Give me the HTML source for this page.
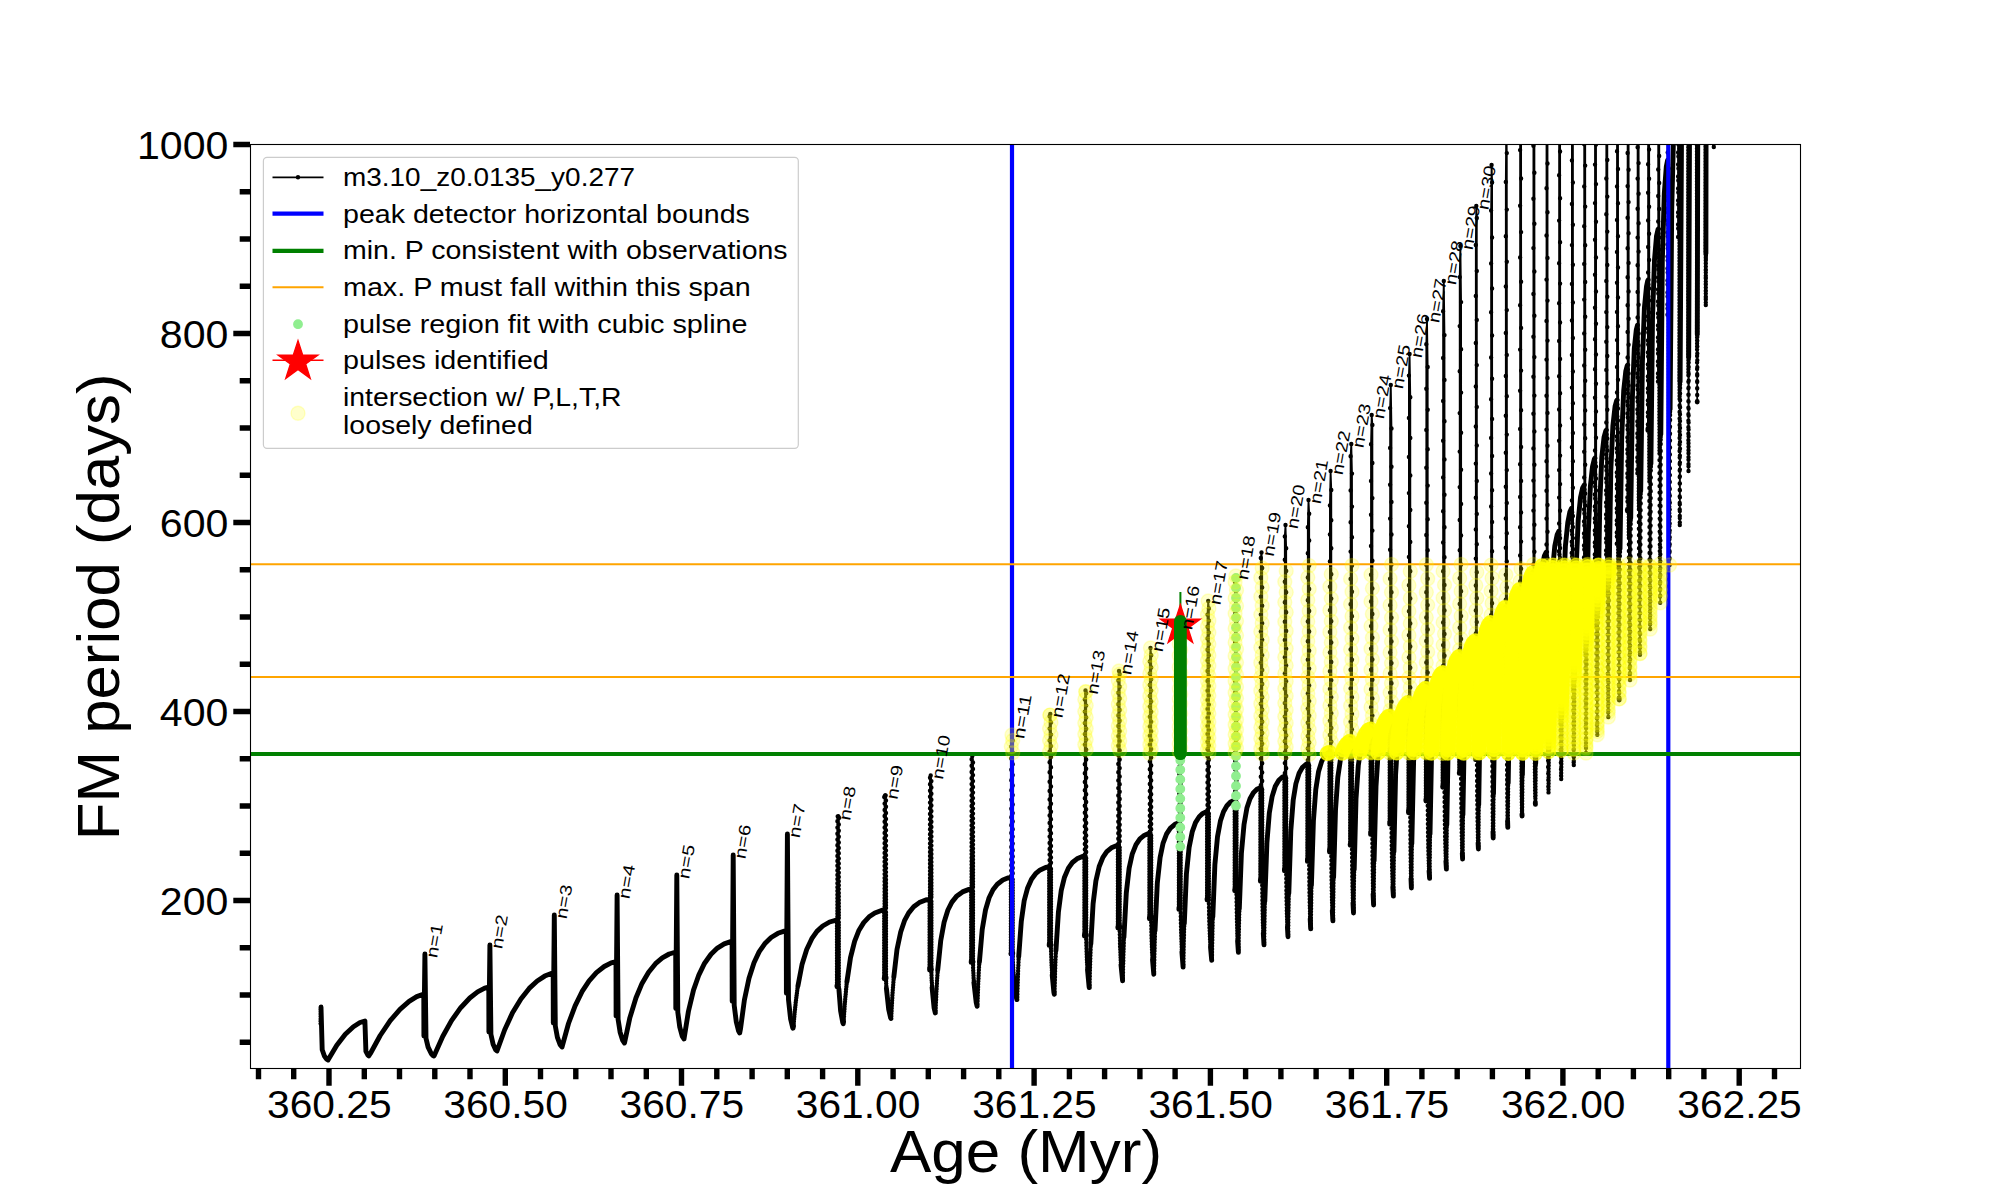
<!DOCTYPE html>
<html><head><meta charset="utf-8"><title>FM period vs Age</title>
<style>html,body{margin:0;padding:0;background:#fff}body{width:2000px;height:1200px;overflow:hidden}svg{display:block}text{font-family:"Liberation Sans",sans-serif;fill:#000}</style></head><body>
<svg width="2000" height="1200" viewBox="0 0 2000 1200">
<rect width="2000" height="1200" fill="#fff"/>
<defs><clipPath id="ax"><rect x="250.0" y="144.0" width="1551.0" height="925.0"/></clipPath></defs>
<g clip-path="url(#ax)">
<path d="M320.6 1023.6 321 1007 322.2 1049.8 324 1055.1 326.4 1058.9 328 1060 335.9 1046.6 343.6 1036.3 350.8 1028.8 357 1024.2 362.4 1021.6 364.9 1021 365.7 1050.7 367.3 1054.4 368.8 1055.9 369.2 1056 378.1 1039 386.9 1025.2 395.3 1014.4 403.9 1005.5 412 999.3 419 995.5 424.2 994 424.6 994 423.8 995.3 423.9 1036 424.9 954 425.8 1037.2 427.5 1045.1 430 1051.4 432.6 1055.1 434 1056 442 1037.9 450 1023.2 457.9 1011.3 465.9 1001.8 473.6 994.8 480.6 990.1 487.1 987.4 489.5 987 488.8 988.3 488.9 1032 489.9 945 490.9 1034.3 492.8 1043.4 495.2 1049.2 497 1051 503.9 1031.6 510.9 1015.9 518.4 1002.7 525.9 992.2 533.4 984.2 540.9 978.4 547.9 974.6 553.1 973.1 554 973 553.2 974.3 553.3 1023 554.3 915 555.3 1025.9 557.1 1036.3 559.7 1044 561.6 1046.8 562 1047 568 1025.2 573.6 1009.3 579.9 995.6 586.5 984.5 593.3 975.9 600.1 969.4 607.2 964.7 613.6 962.1 616.8 961.5 616 962.8 616.1 1016 617.1 895 618.1 1019.3 619.8 1031 622.3 1039.6 624.1 1042.8 624.5 1043 629.4 1019.6 634.4 1002.3 639.9 988 645.6 976.8 651.8 967.8 658.4 961 664.8 956.2 671 953.2 676.4 952 675.7 953.3 675.8 1008.5 676.8 875 677.8 1012.2 679.5 1025.4 681.9 1035.2 683.6 1038.7 684 1039 688 1013.6 692.5 993.7 697.4 978.5 702.7 966.7 708.2 957.8 714 951 720.3 946.1 726.4 942.9 732.2 941.4 732.7 941.3 732.1 942.6 732.2 1001.3 733.2 855 734.2 1005.2 736 1020.5 738.3 1030.3 739.7 1033 740 1033.3 743.7 1004.4 747.6 984 751.9 968.3 756.6 956.8 761.7 947.7 767.1 941.2 773.1 936 779.2 932.7 785.4 930.9 786.9 930.7 786.3 932 786.4 993.3 787.4 834 788.4 997.6 789.9 1014.5 791.9 1025.2 793 1028.2 793.3 1028.5 796.3 997.8 799.8 975 803.7 958.4 808 946.2 812.5 937.4 817.6 930.7 823.1 925.7 829.2 922.2 835.3 920.3 837.7 920 837 920.5 837 986.7 837.4 910.9 837.4 821.2 838.1 816.5 838.8 817.9 838.9 991.3 840.6 1010.8 842.4 1021.5 843.5 1024 846.1 989.3 849.3 964.5 852.8 947.5 856.6 935.7 860.9 926.8 865.5 920.3 870.6 915.6 876.2 912.3 882.3 910.3 884.8 910 884.2 910.5 884.2 978.7 884.6 901 884.6 797.1 885.3 795.5 886 800.4 886.2 983.6 887.7 1002.8 889.7 1014.9 890.9 1018.4 891.2 1018.7 893.6 979.7 896.4 953.4 899.7 935.8 903.2 924 907.1 915.4 911.4 909.3 916.4 904.5 922 901.3 928.2 899.4 930.2 899.2 929.6 899.7 929.6 970 930 890.2 930 777.8 930.7 775.5 931.4 781.1 931.5 975.3 933.1 999.9 934.8 1011.4 935.5 1013.3 937.7 970.2 940.4 942.8 943.4 925.2 946.8 912.8 950.6 904.2 954.8 898.1 959.6 893.7 964.7 890.8 970.5 889.1 971.9 889 971.2 889.5 971.2 962.3 971.6 880 971.6 759.2 972.3 756 973 762.5 973.1 967.7 974.7 991 976.4 1003.7 977.4 1006.7 979.5 960.2 982 931.1 984.8 912.9 988.1 900.5 991.8 891.8 996 885.7 1000.7 881.4 1006 878.6 1011.3 877.3 1011.6 877.3 1010.9 877.8 1010.9 954 1011.3 870.6 1011.3 746.6 1012 735 1012.7 740.5 1012.8 959.6 1014.4 983.7 1016.2 996.9 1017.2 1000 1019.2 948.4 1021.5 918.9 1024.2 900.7 1027.3 888.7 1030.8 880.5 1034.6 874.8 1039 870.8 1044.2 868 1049.5 866.7 1049.9 866.7 1049.2 867.2 1049.2 945.3 1049.6 860.1 1049.6 716.2 1050.3 714 1051 722.5 1051.2 954.3 1052.8 983.4 1054.3 994.3 1054.5 994.7 1056.4 939.8 1058.7 908.9 1061.4 889.7 1064.3 877.7 1067.7 869.4 1071.4 863.6 1075.7 859.6 1080.5 857 1084.9 856 1084.4 856.5 1084.4 936 1084.8 844 1084.8 699.4 1085.5 690.4 1086.2 693.2 1086.4 945.4 1087.9 976.1 1089.3 987.6 1089.5 988 1091.4 930.7 1093.6 898.7 1096.2 879 1099.2 866.5 1102.5 858.2 1106.2 852.4 1110.1 848.7 1114.9 846.1 1118.6 845.3 1117.9 845.8 1117.9 928 1118.3 833.3 1118.3 680.5 1119 671 1119.7 674.3 1119.9 937.7 1121.3 969.1 1122.6 980.8 1122.8 981.3 1124.6 920.3 1126.8 887 1129.4 866.8 1132.2 854.2 1135.3 845.9 1138.9 840 1142.8 836.3 1147.2 833.9 1150.1 833.3 1149.4 833.8 1149.4 918.7 1149.8 821.3 1149.8 661.4 1150.5 648 1151.2 655.2 1151.4 928.9 1152.8 963.9 1153.8 974.2 1154 974.7 1155.8 910.1 1157.9 875.9 1160.5 855.2 1163.3 842.6 1166.4 834.3 1169.7 828.9 1173.6 825.1 1177.6 823.1 1179.5 822.7 1178.9 823.2 1178.9 909.3 1179.3 810.8 1179.3 631.5 1180 626 1180.7 637.8 1180.8 919.9 1182.2 956.3 1183.3 967.5 1185 900.4 1187.2 864.7 1189.6 844 1192.4 830.9 1195.5 822.6 1198.9 817.1 1202.4 813.7 1206.4 811.8 1207.8 811.5 1207.1 812 1207.1 900 1207.5 799.6 1207.5 614.6 1208.2 601 1208.9 608.4 1209.1 911 1210.6 949.1 1211.7 960.3 1211.9 960.8 1213.6 890.7 1215.7 854 1218.2 832.3 1220.9 819.2 1223.9 810.8 1227.2 805.4 1230.7 801.9 1234.2 800.2 1235.2 800 1234.7 800.5 1234.7 890.7 1235.1 791.3 1235.1 582 1235.8 576 1236.5 590.2 1236.7 905.6 1237.9 946.9 1238.5 952.8 1240.2 879.7 1242.3 841.5 1244.7 819.8 1247.4 806.2 1250.4 797.8 1253.7 792.4 1257.3 789 1260.4 787.6 1260.9 787.5 1260.4 788 1260.4 881.3 1260.8 776.7 1260.8 557.9 1261.5 552.5 1262.2 568 1262.4 900.2 1263.7 940.9 1264.1 945.3 1265.7 868.3 1267.7 829.5 1270.1 807.3 1272.8 793.7 1275.7 785.3 1278.8 780.3 1282 777.2 1285.1 776 1284.4 776.5 1284.4 870.7 1284.8 763.1 1284.8 536.4 1285.5 525 1286.2 548.3 1286.4 890.4 1287.7 932.8 1288.1 937.3 1289.7 857.3 1291.7 817 1294 794.3 1296.6 780.7 1299.5 772.3 1302.5 767.3 1305.8 764.3 1308.1 763.5 1307.4 764 1307.4 861.3 1307.8 760.1 1307.8 527.3 1308.5 500 1309.2 513.7 1309.4 881.5 1310.5 926.5 1310.8 929.5 1312.4 846.5 1314.4 805.2 1316.6 782.5 1319.2 768.9 1322.1 760.5 1325.1 755.4 1328 752.8 1330.2 752 1329.5 752.5 1329.5 852 1329.9 748.2 1329.9 505.4 1330.6 471 1331.3 490 1331.5 872.5 1332.7 918.4 1333 921.5 1334.5 835 1336.4 793.2 1338.7 770 1341.2 756.4 1343.9 748.5 1346.7 743.9 1349.3 741.6 1350.9 741 1350.2 741.5 1350.2 845.2 1350.6 736.7 1350.6 456.2 1351.3 444 1352 473.6 1352.2 865.4 1353.3 910.6 1353.6 913.6 1355.1 824.6 1357 781.3 1359.2 758.1 1361.7 744.4 1364.5 736 1367.2 731.4 1369.7 729.1 1371.1 728.5 1370.6 729 1370.6 834.9 1371 723.7 1371 444.3 1371.7 415 1372.4 424.9 1372.6 863.2 1373.5 904.4 1373.6 905 1375.1 812.5 1376.9 768.2 1379.1 744.5 1381.5 730.8 1384.2 722.4 1387 717.8 1389.7 715.7 1390.4 715.5 1389.7 716 1389.7 824.1 1390.1 710.4 1390.1 408.1 1390.8 385 1391.5 428.4 1391.7 841.3 1392.9 889.2 1393.4 896 1394.8 799 1396.7 753.7 1398.8 729.5 1401.3 715.9 1403.9 707.9 1406.5 703.8 1408.8 702.1 1409.2 702 1408.5 702.5 1408.5 812.8 1408.9 696.6 1408.9 375.6 1409.6 354 1410.3 397.2 1410.5 843.2 1411.4 888 1412.8 787 1414.6 740.2 1416.7 715.5 1419.1 701.8 1421.6 693.9 1424.1 689.7 1426.4 688 1425.9 688.5 1425.9 801 1426.3 682.3 1426.3 344.3 1427 319 1427.7 367 1427.9 819.5 1429.1 871 1429.6 878.4 1431 770.9 1432.7 722.6 1434.7 697.9 1437 684.2 1439.4 676.8 1441.7 673.1 1443.3 672 1442.7 672.5 1442.7 787.2 1443.1 666 1443.1 311.3 1443.8 281 1444.5 335.1 1444.7 806.8 1445.9 861.2 1446.4 869 1447.8 757.5 1449.5 707.7 1451.5 682 1453.9 667.9 1456.3 660.4 1458.7 656.8 1459.9 656 1459.3 656.5 1459.3 773.4 1459.7 649.7 1459.7 277.1 1460.4 246 1461.1 302.1 1461.3 798.7 1462.3 855.2 1462.6 859 1463.9 743.5 1465.7 692.2 1467.7 666 1470 651.8 1472.4 644.4 1474.7 640.7 1475.9 640 1475.6 640.5 1475.6 759.6 1476.1 641.4 1475.8 633.4 1475.8 245 1476.3 206 1476.8 218 1477 770.5 1478.1 842.9 1478.4 849 1479.7 727.5 1481.4 674.7 1483.4 648 1485.6 633.8 1487.9 626.3 1489.8 623 1491.2 622 1490.9 622.5 1490.9 743.8 1491.4 623.8 1491.1 615.1 1491.1 210.5 1491.6 165 1492.1 182.4 1492.3 760.9 1493.2 838 1494.5 714.5 1496.2 660.7 1498.2 633.5 1500.4 618.8 1502.6 611.3 1504.6 608 1505.7 607.1 1505.6 731 1506.1 609.2 1505.8 599.8 1505.8 181.9 1506.3 120 1506.8 153.1 1507.1 754.1 1507.8 827.4 1509.3 704.4 1511.1 646.6 1513.2 616.8 1515.5 600.7 1517.7 592.6 1519.6 589.3 1520 589.1 1519.9 715.2 1520.4 591.6 1520.1 581.5 1520.1 90 1520.6 84.5 1521.1 120.6 1521.4 739.2 1522.1 816 1523.5 686.8 1525.3 628 1527.3 597.8 1529.6 582.1 1531.7 574.6 1533.2 572.2 1533.5 572 1533.2 572.5 1533.2 700.4 1533.7 575 1533.4 564.5 1533.4 84.5 1534.4 84.5 1534.7 724.4 1535.4 804.4 1536.8 669.7 1538.6 608.9 1540.6 578.2 1542.8 562 1544.9 554.5 1546.4 552.1 1546.3 682.6 1546.8 555.4 1546.5 544.5 1546.5 84.5 1547.5 84.5 1547.8 709.6 1548.5 792.4 1549.9 651 1551.6 587.7 1553.7 555.9 1555.8 540.3 1557.7 533.2 1558.9 531.2 1559.2 531 1558.9 531.5 1558.9 663.8 1559.4 534.8 1559.1 523.5 1559.1 84.5 1560.1 84.5 1560.4 693.8 1561.2 779 1562.6 632.7 1564.3 567.5 1566.3 534.7 1568.5 518 1570.4 510.5 1571.8 508.1 1571.7 643 1572.2 512.2 1571.9 500.5 1571.9 84.5 1572.9 84.5 1573.2 682 1573.8 765 1575.2 612.3 1576.9 545.1 1578.9 511.3 1581.1 494.2 1582.9 487.1 1584.1 485.1 1584 622.2 1584.5 489.5 1584.2 477.5 1584.2 84.5 1585.2 84.5 1585.5 674.7 1586 753 1587.3 585.2 1588.9 514.4 1590.8 480.7 1592.9 464.5 1594.4 458.9 1594.9 458.2 1594.8 597.4 1595.3 462.5 1595 450.5 1595 84.5 1596 84.5 1596.3 633.9 1597.2 731.4 1597.3 734.7 1598.6 561.1 1600.2 488.3 1602.1 453.6 1604.1 436.9 1605.8 430.8 1606.3 430.1 1606.1 571.6 1606.6 434.5 1606.3 422.5 1606.3 84.5 1607.3 84.5 1607.6 621.6 1608.3 717 1609.6 534.8 1611.2 459 1613.1 423.3 1615 406.6 1616.7 400.5 1616.9 400.2 1616.8 543.8 1617.3 404.5 1617 392.5 1617 84.5 1618 84.5 1618.3 593.8 1619.2 700 1620.4 505.3 1622.1 425 1623.9 387.8 1625.8 371.1 1627.3 365.5 1627.5 365.2 1627.4 511 1627.9 369.5 1627.6 357.5 1627.6 84.5 1628.6 84.5 1628.9 564 1629.8 674.5 1630 680 1631.2 467.4 1632.8 383.2 1634.5 345.4 1636.4 329.3 1637.5 325.2 1637.4 473.2 1637.9 329.5 1637.6 317.5 1637.6 84.5 1638.6 84.5 1639 535.2 1639.9 652.2 1640 654.7 1641.2 434.2 1642.8 344.9 1644.7 304.2 1646.5 286 1647.9 280.4 1648.1 280 1647.9 280.5 1647.9 430.4 1648.4 284.5 1648.1 272.5 1648.1 84.5 1649.1 84.5 1649.6 539.9 1650.2 629 1651.4 392.8 1653 297.6 1654.8 254.3 1656.7 235.1 1658 229.5 1658.2 229.1 1658 381.6 1658.5 233.5 1658.2 221.5 1658.2 84.5 1659.2 84.5 1659.8 551.1 1660.2 602.7 1661.4 336.5 1662.9 231.8 1664.7 185 1666.5 165.3 1667.6 160.2 1667.5 314.8 1668 164.5 1667.7 152.5 1667.7 84.5 1668.7 84.5 1669.4 539.3 1669.6 565 1670.9 285.9 1672.5 169.6 1674.4 114.9 1676.4 89.7 1677.1 84.5 1678.4 84.5 1678.1 84.5 1678.1 237 1678.6 84.5 1678.3 84.5 1679.3 84.5 1679.8 525 1681 188.6 1682 84.5 1687.2 84.5 1686.9 84.5 1686.9 129.2 1687.1 84.5 1687.4 84.5 1687.1 84.5 1688.1 84.5 1688.5 471 1689.7 88.6 1689.7 84.6 1695.9 84.5 1695.6 84.5 1696.1 84.5 1695.8 84.5 1696.8 84.5 1697 97.4 1697.2 402 1697.9 84.5 1704.7 84.5 1704.4 84.5 1704.9 84.5 1704.6 84.5 1705.6 84.5 1705.8 305 1706.1 84.5 1712.9 84.5 1712.6 84.5 1713.1 84.5 1712.8 84.5 1713.8 84.5 1713.8 147 1713.9 84.7 1715.6 84.5 1720.6 84.5" fill="none" stroke="#000" stroke-width="1.8" stroke-linejoin="round"/>
<path d="M321 1007 322.2 1049.8 324.3 1055.8 326.4 1058.9 328 1060 336.8 1045.2 345.3 1034.3 353.4 1026.7 360 1022.5 364.9 1021 365.9 1051.4 368 1055.2 368.8 1055.9 370.4 1053.5 380.2 1035.5 390.2 1020.7 400 1009.3 409.1 1001.3 416.7 996.6 423.2 994.2 424.2 994 423.8 996.6 423.9 1036 424.9 954 426 1038.4 428.1 1047.1 431.2 1053.5 433 1055.5 434 1056 442.7 1036.5 451.5 1020.6 460.7 1007.7 469.8 998 477.6 991.9 484.7 988.2 489.5 987 488.8 988.3 488.9 1032 489.9 945 490.9 1034.3 493.1 1044.3 495.6 1049.7 497 1051 504.6 1030 512.5 1012.8 520.9 998.9 529.2 988.4 537.2 981 544.7 976.1 551.2 973.5 554 973 553.2 974.3 553.3 1023 554.3 915 555.3 1025.9 557.4 1037.4 560.1 1044.7 562 1047 568.5 1023.5 575.1 1005.9 582 991.7 589.1 980.9 596.4 972.7 604.2 966.5 611.2 962.8 616.8 961.5 616 962.8 616.1 1016 617.1 895 618.1 1019.3 620.1 1032.2 622.7 1040.4 624.5 1043 629.9 1017.6 636 997.7 642 983.4 648.6 972.2 655.5 963.7 662.3 957.9 669.2 954 675.9 952 676.5 952 675.7 953.3 675.8 1008.5 676.8 875 677.8 1012.2 679.7 1026.8 682.2 1036.1 684 1039 688.4 1011.5 693.5 990.1 698.9 974.8 704.6 963.2 711 954.3 717.4 948.1 724.2 943.9 730.7 941.6 732.7 941.3 732.1 942.6 732.2 1001.3 733.2 855 734.2 1005.2 736.3 1022 738.6 1031.1 739.7 1033 740.5 1028.8 744.4 1000 749 978.3 754 962.7 759.1 951.9 764.7 943.8 771.1 937.5 777.9 933.3 784.4 931.1 787.1 930.7 786.3 932 786.4 993.3 787.4 834 788.5 999.7 790.6 1019 792.7 1027.7 793 1028.2 793.5 1026.1M797.9 986.1 802 964.6 806.7 949.5 811.8 938.7 816.9 931.4 822.7 926 829.6 922 836.3 920.1 837.3 920M837 985.3 837 986.7M837.5 921.4 837.4 919.2M838.1 816.5 838.8 817.9M838.9 989 840.6 1010.8 842.7 1022.4 843.2 1023.7 843.6 1021.5M846.9 981.9 850.5 957.7 854.6 941.3 859 930.2 863.7 922.6 869.1 916.8 874.8 913 881.4 910.5 884.3 910M884.2 978 884.2 978.7M884.7 911.4 884.6 909.2M884.6 797.1 885.3 795.5M886 977.1 886 978.7M886.4 988.3 888.7 1009.5 890.6 1017.7 890.9 1018.4M893.8 977.1 897 949.5 900.7 932 904.5 920.7 908.7 912.9 913.7 906.8 919.3 902.6 925.7 900 930.3 899.2 929.6 899.7M929.6 970 929.7 968.1M930.1 900.6 930 898.4M931.4 969 931.4 970M932.1 987.5 934.1 1007.9 935.3 1012.9M937.7 970.2 940.7 940.9 944.1 922.3 947.9 910 951.9 902.1 956.9 895.9 962.5 891.9 969 889.4 971.9 889 971.2 889.5M971.2 962.3 971.3 960.6M971.7 890.4 971.6 888.2M973 961.5 973 962.3M973.9 982.5 976.2 1002.5 977.1 1006.3M979.4 962.1 982.2 929.6 985.5 910 989.1 897.7 993 889.7 997.3 884.2 1002.8 880 1008.3 877.8 1011.3 877.3 1010.9 877.8M1010.9 953.4 1010.9 954M1012.7 952.5 1012.7 954M1013.8 977.3 1015.9 995.6 1016.9 999.6M1018.7 956.7 1021.3 921.3 1024.2 900.7 1027.5 888.3 1031.5 879.2 1035.6 873.7 1040.2 869.9 1045.6 867.5 1049.5 866.7M1049.2 945.3 1049.3 943.7M1051 944.6 1051 945.3M1052.2 975 1053.9 992.5 1054.3 994.3M1055.9 950.9 1058.4 912.3 1061.2 890.7 1064.5 877.2 1068.4 868.1 1072.4 862.5 1077 858.8 1082.4 856.4 1085.1 856 1084.4 856.5M1084.4 934.8 1084.4 936M1086.2 933.9 1086.2 936M1087.5 969.6 1089.1 986.7 1089.3 987.6M1090.8 944.2 1093.1 903.6 1095.9 880.9 1099.2 866.5 1102.9 857.3 1106.8 851.6 1111.4 847.8 1116.9 845.5 1118.6 845.3 1117.9 845.8M1117.9 926.8 1117.9 928M1119.7 925.9 1119.7 928M1121 964.8 1122.6 980.8M1123.9 937.4 1126.3 892.9 1129.1 868.2 1132.3 853.8 1136 844.6 1139.9 838.9 1144.5 835.2 1149.1 833.4 1150.1 833.3 1149.4 833.8M1149.4 917.5 1149.4 918.7M1151.2 916.6 1151.2 918.7M1152.5 959.6 1153.8 974.2M1155 930.8 1157.3 883.3 1160.1 857.6 1163.1 843.1 1166.6 833.9 1170.4 828.1 1174.9 824.3 1178.6 822.8 1179.5 822.7 1178.9 823.2M1178.9 909.3 1179 907.8M1181.9 951.8 1183.1 967M1184.3 923.6 1186.4 874.1 1189.1 847.4 1192.2 831.9 1195.5 822.6 1199.2 816.8 1202.8 813.4 1206.4 811.8 1207.4 811.5M1207.1 898.4 1207.1 900 1207.2 899.3M1210.5 946.8 1211.7 960.3M1212.8 916.9 1214.9 864.4 1217.5 836.7 1220.4 821.1 1223.5 811.7 1226.9 805.8 1230.3 802.2 1233.8 800.3 1235.4 800 1234.7 800.5M1234.7 889.6 1234.7 890.7M1236.5 888.7 1236.5 890.7M1237.6 940.8 1238.4 952.3M1239.3 908.8 1241.4 853.4 1244 824.7 1246.9 808.1 1250 798.7 1253.4 792.7 1256.9 789.3 1260.4 787.6 1261.1 787.5 1260.4 788M1260.4 879.8 1260.4 881.3 1260.5 880.7M1263.3 933 1264 944.8M1264.8 901.3 1266.9 842.9 1269.3 813.2 1272.1 796.6 1275.3 786.2 1278.8 780.3 1282.4 777 1285.1 776 1284.4 776.5M1284.4 870.7 1284.5 869.2M1287.4 926.8 1288 936.7M1288.8 893.3 1290.8 830.9 1293.2 800.2 1295.9 783.6 1299.1 773.2 1302.5 767.3 1306.3 764.1 1308.1 763.5 1307.4 764M1307.4 861.3 1307.5 859.4M1309.2 860.3 1309.2 861.3M1310.2 918.8 1310.7 928.9M1311.4 885.5 1313.4 821.1 1315.8 789.4 1318.5 771.8 1321.7 761.4 1325.1 755.4 1328 752.8 1329.8 752.1M1329.5 849.7 1329.5 852 1329.6 850.6M1332.3 910.6 1332.9 920.9M1333.6 877.5 1335.5 810.1 1337.8 777.4 1340.4 759.7 1343.5 749.4 1346.4 744.2 1349.3 741.6 1350.9 741 1350.2 741.5M1350.2 844.1 1350.2 845.2M1352 843.2 1352 845.2M1353 902.8 1353.5 913M1354.2 869.6 1356 799.2 1358.3 765.5 1360.9 747.8 1363.9 737.4 1367.2 731.4 1370.1 728.9 1371.1 728.5 1370.6 729M1370.6 834.3 1370.7 832.5M1372.4 833.4 1372.4 834.9M1373.1 894 1373.6 905M1374.1 861 1376 786.6 1378.2 751.9 1381 733.2 1383.7 723.8 1386.4 718.6 1389.2 715.9 1390.1 715.5 1389.7 716M1389.7 824.1 1389.8 822.2M1391.5 823.1 1391.5 824.1M1392.8 887 1393.4 896M1393.9 851.9 1395.6 774.6 1397.8 738.9 1400.3 720.2 1403.1 709.7 1405.9 704.6 1407.9 702.5 1408.8 702.1M1408.5 810.5 1408.5 812.8 1408.6 811.4M1411 878.6 1411.4 888M1411.8 843.9 1413.6 761.6 1415.7 724.9 1418.3 705.2 1421.2 694.8 1424.1 689.7 1426.4 688 1425.9 688.5M1425.9 799.2 1425.9 801 1426 800.1M1429.1 871 1429.6 878.4M1430 834.3 1431.7 746 1433.8 707.3 1436.3 687.6 1438.9 678.1 1441.1 673.8 1443.3 672 1442.7 672.5M1442.7 785.9 1442.7 787.2M1444.5 785 1444.5 787.2M1445.9 861.2 1446.4 869M1446.8 824.9 1448.4 732.6 1450.5 692.9 1452.8 673.2 1455.4 662.7 1458 657.5 1459.5 656.2M1459.3 772.6 1459.3 773.4M1461.1 771.7 1461.1 773.4M1462.3 853.2 1462.6 859M1462.9 814.9 1464.6 718.6 1466.7 676.9 1469.1 656.2 1471.8 645.7 1474.1 641.4 1475.5 640.2M1475.6 759.6 1475.7 757.5M1477 758.4 1477 759.6M1478.1 842.9 1478.4 849M1478.7 804.9 1480.3 702.6 1482.3 659.8 1484.8 638.2 1487.3 627.7 1489.5 623.4 1490.9 622.1M1492.3 742.1 1492.3 743.8M1493 831.6 1493.2 838M1493.5 793.9 1495.1 689.6 1497.2 644.9 1499.6 623.2 1502.1 612.7 1504.3 608.3 1505.7 607.1M1505.6 729.9 1505.6 731M1507.6 820.8 1507.8 827.4M1508.2 783.2 1509.9 677 1512.1 629.2 1514.7 605.5 1517.2 594 1519.3 589.7 1520 589.1M1521.3 713.4 1521.3 715.2M1522 814.2 1522.1 816M1522.4 775 1524.1 661.4 1526.2 611.6 1528.5 587.9 1531 576.4 1532.6 572.9 1533.2 572.2M1535.3 802.9 1535.4 804.4M1535.7 763.4 1537.4 643.8 1539.5 592 1541.9 567.4 1544.4 555.8 1546.1 552.4 1546.6 552M1548.8 751.3 1550.4 625.5 1552.4 571.8 1554.8 546.1 1557.2 534.6 1558.9 531.2M1561.6 717 1563.3 597.8 1565.4 546.1 1567.8 522.4 1569.9 511.8 1571.5 508.4M1571.7 641.7 1571.7 643M1574.4 679.6 1576.1 569 1578.2 520.2 1580.5 497.6 1582.6 488 1584.3 485M1584 622.2 1584.1 621.5M1586.6 643.3 1588.3 532.9 1590.4 486.1 1592.5 466.5 1594.4 458.9 1594.9 458.2M1598 610.4 1599.8 502.8 1601.8 457 1604 437.4 1605.8 430.8 1606.3 430.1M1607.5 570.5 1607.5 571.6M1609.1 577 1610.8 470.5 1612.9 425.7 1615.1 406.1 1616.7 400.5 1617.1 400M1619.1 697.8 1619.2 700M1620 549 1621.7 437.5 1623.7 390.8 1625.8 371.1 1627.3 365.5 1627.7 365M1627.4 509.5 1627.4 511M1630.7 518.1 1632.4 397.1 1634.3 348.4 1636.3 329.8 1637.5 325.2M1640.7 491.3 1642.4 361.8 1644.4 308.1 1646.5 286.5 1647.7 280.8 1648.1 280M1647.9 430.4 1648 428.5M1650.9 463.9 1652.5 318.5 1654.5 259.8 1656.5 236.1 1658 229.5 1658.3 229M1660.8 434.5 1662.3 261.2 1664.3 193.5 1666.3 166.8 1667.6 160.2M1670.1 409.4 1671.7 210.5 1673.7 128.8 1675 105M1680.1 381.9 1681.6 119.7 1681.8 104.7M1688.7 357.2 1689.6 104.5M1697.2 401.4 1697.2 402M1697.3 334.4 1697.8 104.9M1705.9 253.6 1706.1 104.9" fill="none" stroke="#000" stroke-width="4.9" stroke-linecap="round" stroke-linejoin="round"/>
<path d="M320.6 1023.6h0M320.6 1021.2h0M320.7 1018.9h0M320.8 1016.5h0M320.8 1014.1h0M320.9 1011.8h0M320.9 1009.4h0M793.7 1023.8h0M793.9 1021.4h0M794.1 1019h0M794.3 1016.7h0M794.5 1014.3h0M794.7 1012h0M795 1009.6h0M795.2 1007.2h0M795.5 1004.9h0M795.7 1002.5h0M796 1000.2h0M796.3 997.8h0M796.6 995.5h0M796.9 993.2h0M797.2 990.8h0M797.5 988.5h0M837 923.2h0M837 925.9h0M837 928.6h0M837 931.3h0M837 934h0M837 936.7h0M837 939.4h0M837 942.1h0M837 944.8h0M837 947.5h0M837 950.2h0M837 952.9h0M837 955.6h0M837 958.3h0M837 961h0M837 963.7h0M837 966.4h0M837 969.1h0M837 971.8h0M837 974.5h0M837 977.2h0M837 979.9h0M837 982.6h0M837.1 983.5h0M837.1 980.8h0M837.1 978.1h0M837.1 975.4h0M837.2 972.7h0M837.2 970h0M837.2 967.3h0M837.2 964.6h0M837.2 961.9h0M837.3 959.2h0M837.3 956.5h0M837.3 953.8h0M837.3 951.1h0M837.3 948.4h0M837.4 945.7h0M837.4 943h0M837.4 940.3h0M837.4 937.6h0M837.4 934.9h0M837.5 932.2h0M837.5 929.5h0M837.5 926.8h0M837.5 924.1h0M837.4 916.6h0M837.4 913.8h0M837.4 910.9h0M837.4 907.9h0M837.4 904.8h0M837.4 901.6h0M837.4 898.2h0M837.4 894.7h0M837.4 891h0M837.4 887.2h0M837.4 883.3h0M837.4 879.1h0M837.4 874.9h0M837.4 870.4h0M837.4 865.8h0M837.4 860.9h0M837.4 855.9h0M837.4 850.7h0M837.4 845.2h0M837.4 839.6h0M837.4 833.7h0M837.4 827.6h0M837.4 821.2h0M838.8 824.4h0M838.8 830.7h0M838.8 836.7h0M838.8 842.4h0M838.8 848h0M838.8 853.3h0M838.8 858.4h0M838.8 863.4h0M838.8 868.1h0M838.8 872.7h0M838.8 877h0M838.8 881.2h0M838.8 885.3h0M838.8 889.1h0M838.8 892.9h0M838.8 896.5h0M838.8 899.9h0M838.8 903.2h0M838.8 906.4h0M838.8 909.4h0M838.8 912.4h0M838.8 915.2h0M838.8 917.9h0M838.8 922.3h0M838.8 925h0M838.8 927.7h0M838.8 930.4h0M838.8 933.1h0M838.8 935.8h0M838.8 938.5h0M838.8 941.2h0M838.8 943.9h0M838.8 946.6h0M838.8 949.3h0M838.8 952h0M838.8 954.7h0M838.8 957.4h0M838.8 960.1h0M838.8 962.8h0M838.8 965.5h0M838.8 968.2h0M838.8 970.9h0M838.8 973.6h0M838.8 976.3h0M838.8 979h0M838.8 981.7h0M838.8 984.4h0M838.8 986.7h0M843.8 1019h0M844 1016.5h0M844.1 1014.1h0M844.3 1011.6h0M844.5 1009.1h0M844.6 1006.6h0M844.8 1004.1h0M845 1001.7h0M845.2 999.2h0M845.4 996.7h0M845.7 994.2h0M845.9 991.8h0M846.1 989.3h0M846.4 986.8h0M846.6 984.4h0M884.2 913.2h0M884.2 915.9h0M884.2 918.6h0M884.2 921.3h0M884.2 924h0M884.2 926.7h0M884.2 929.4h0M884.2 932.1h0M884.2 934.8h0M884.2 937.5h0M884.2 940.2h0M884.2 942.9h0M884.2 945.6h0M884.2 948.3h0M884.2 951h0M884.2 953.7h0M884.2 956.4h0M884.2 959.1h0M884.2 961.8h0M884.2 964.5h0M884.2 967.2h0M884.2 969.9h0M884.2 972.6h0M884.2 975.3h0M884.3 976.2h0M884.3 973.5h0M884.3 970.8h0M884.3 968.1h0M884.3 965.4h0M884.4 962.7h0M884.4 960h0M884.4 957.3h0M884.4 954.6h0M884.4 951.9h0M884.5 949.2h0M884.5 946.5h0M884.5 943.8h0M884.5 941.1h0M884.5 938.4h0M884.6 935.7h0M884.6 933h0M884.6 930.3h0M884.6 927.6h0M884.6 924.9h0M884.7 922.2h0M884.7 919.5h0M884.7 916.8h0M884.7 914.1h0M884.6 906.6h0M884.6 903.8h0M884.6 901h0M884.6 898h0M884.6 895h0M884.6 891.8h0M884.6 888.5h0M884.6 885.1h0M884.6 881.5h0M884.6 877.9h0M884.6 874.1h0M884.6 870.1h0M884.6 866h0M884.6 861.8h0M884.6 857.4h0M884.6 852.9h0M884.6 848.1h0M884.6 843.2h0M884.6 838.2h0M884.6 832.9h0M884.6 827.5h0M884.6 821.8h0M884.6 816h0M884.6 809.9h0M884.6 803.6h0M886 800.4h0M886 806.8h0M886 813h0M886 818.9h0M886 824.7h0M886 830.2h0M886 835.6h0M886 840.7h0M886 845.7h0M886 850.5h0M886 855.2h0M886 859.6h0M886 863.9h0M886 868.1h0M886 872.1h0M886 876h0M886 879.7h0M886 883.3h0M886 886.8h0M886 890.1h0M886 893.4h0M886 896.5h0M886 899.5h0M886 902.4h0M886 905.2h0M886 907.9h0M886 912.3h0M886 915h0M886 917.7h0M886 920.4h0M886 923.1h0M886 925.8h0M886 928.5h0M886 931.2h0M886 933.9h0M886 936.6h0M886 939.3h0M886 942h0M886 944.7h0M886 947.4h0M886 950.1h0M886 952.8h0M886 955.5h0M886 958.2h0M886 960.9h0M886 963.6h0M886 966.3h0M886 969h0M886 971.7h0M886 974.4h0M886.1 981.2h0M886.2 983.6h0M886.3 986h0M891.3 1016.1h0M891.4 1013.5h0M891.6 1010.9h0M891.7 1008.3h0M891.8 1005.7h0M892 1003.1h0M892.1 1000.5h0M892.3 997.9h0M892.4 995.3h0M892.6 992.7h0M892.8 990.1h0M893 987.5h0M893.2 984.9h0M893.4 982.3h0M893.6 979.7h0M929.6 902.4h0M929.6 905.1h0M929.6 907.8h0M929.6 910.5h0M929.6 913.2h0M929.6 915.9h0M929.6 918.6h0M929.6 921.3h0M929.6 924h0M929.6 926.7h0M929.6 929.4h0M929.6 932.1h0M929.6 934.8h0M929.6 937.5h0M929.6 940.2h0M929.6 942.9h0M929.6 945.6h0M929.6 948.3h0M929.6 951h0M929.6 953.7h0M929.6 956.4h0M929.6 959.1h0M929.6 961.8h0M929.6 964.5h0M929.6 967.2h0M929.7 965.4h0M929.7 962.7h0M929.7 960h0M929.7 957.3h0M929.8 954.6h0M929.8 951.9h0M929.8 949.2h0M929.8 946.5h0M929.8 943.8h0M929.9 941.1h0M929.9 938.4h0M929.9 935.7h0M929.9 933h0M929.9 930.3h0M929.9 927.6h0M930 924.9h0M930 922.2h0M930 919.5h0M930 916.8h0M930 914.1h0M930.1 911.4h0M930.1 908.7h0M930.1 906h0M930.1 903.3h0M930 895.8h0M930 893h0M930 890.2h0M930 887.3h0M930 884.2h0M930 881.1h0M930 877.9h0M930 874.5h0M930 871.1h0M930 867.5h0M930 863.8h0M930 860h0M930 856h0M930 852h0M930 847.7h0M930 843.4h0M930 838.8h0M930 834.2h0M930 829.3h0M930 824.4h0M930 819.2h0M930 813.9h0M930 808.3h0M930 802.6h0M930 796.7h0M930 790.7h0M930 784.3h0M930 777.8h0M930.7 775.5h0M931.4 781.1h0M931.4 787.5h0M931.4 793.7h0M931.4 799.7h0M931.4 805.5h0M931.4 811.1h0M931.4 816.6h0M931.4 821.8h0M931.4 826.9h0M931.4 831.8h0M931.4 836.5h0M931.4 841.1h0M931.4 845.6h0M931.4 849.9h0M931.4 854h0M931.4 858h0M931.4 861.9h0M931.4 865.7h0M931.4 869.3h0M931.4 872.8h0M931.4 876.2h0M931.4 879.5h0M931.4 882.7h0M931.4 885.8h0M931.4 888.8h0M931.4 891.6h0M931.4 894.4h0M931.4 897.1h0M931.4 901.5h0M931.4 904.2h0M931.4 906.9h0M931.4 909.6h0M931.4 912.3h0M931.4 915h0M931.4 917.7h0M931.4 920.4h0M931.4 923.1h0M931.4 925.8h0M931.4 928.5h0M931.4 931.2h0M931.4 933.9h0M931.4 936.6h0M931.4 939.3h0M931.4 942h0M931.4 944.7h0M931.4 947.4h0M931.4 950.1h0M931.4 952.8h0M931.4 955.5h0M931.4 958.2h0M931.4 960.9h0M931.4 963.6h0M931.4 966.3h0M931.4 972.7h0M931.5 975.3h0M931.6 977.9h0M931.7 980.4h0M931.9 982.8h0M932 985.2h0M935.6 1010.6h0M935.7 1007.9h0M935.8 1005.2h0M935.9 1002.5h0M936.1 999.7h0M936.2 997h0M936.3 994.3h0M936.4 991.6h0M936.6 988.9h0M936.7 986.2h0M936.9 983.5h0M937 980.8h0M937.2 978.1h0M937.4 975.4h0M937.6 972.7h0M971.2 892.2h0M971.2 894.9h0M971.2 897.6h0M971.2 900.3h0M971.2 903h0M971.2 905.7h0M971.2 908.4h0M971.2 911.1h0M971.2 913.8h0M971.2 916.5h0M971.2 919.2h0M971.2 921.9h0M971.2 924.6h0M971.2 927.3h0M971.2 930h0M971.2 932.7h0M971.2 935.4h0M971.2 938.1h0M971.2 940.8h0M971.2 943.5h0M971.2 946.2h0M971.2 948.9h0M971.2 951.6h0M971.2 954.3h0M971.2 957h0M971.2 959.7h0M971.3 957.9h0M971.3 955.2h0M971.3 952.5h0M971.3 949.8h0M971.4 947.1h0M971.4 944.4h0M971.4 941.7h0M971.4 939h0M971.4 936.3h0M971.4 933.6h0M971.5 930.9h0M971.5 928.2h0M971.5 925.5h0M971.5 922.8h0M971.5 920.1h0M971.6 917.4h0M971.6 914.7h0M971.6 912h0M971.6 909.3h0M971.6 906.6h0M971.6 903.9h0M971.7 901.2h0M971.7 898.5h0M971.7 895.8h0M971.7 893.1h0M971.6 885.6h0M971.6 882.8h0M971.6 880h0M971.6 877.1h0M971.6 874.1h0M971.6 871h0M971.6 867.9h0M971.6 864.6h0M971.6 861.2h0M971.6 857.7h0M971.6 854.1h0M971.6 850.4h0M971.6 846.5h0M971.6 842.6h0M971.6 838.5h0M971.6 834.3h0M971.6 829.9h0M971.6 825.4h0M971.6 820.8h0M971.6 816h0M971.6 811.1h0M971.6 806h0M971.6 800.8h0M971.6 795.4h0M971.6 789.8h0M971.6 784.1h0M971.6 778.2h0M971.6 772h0M971.6 765.7h0M971.6 759.2h0M972.3 756h0M973 762.5h0M973 768.9h0M973 775.1h0M973 781.1h0M973 787h0M973 792.6h0M973 798.1h0M973 803.4h0M973 808.6h0M973 813.6h0M973 818.4h0M973 823.1h0M973 827.7h0M973 832.1h0M973 836.4h0M973 840.5h0M973 844.6h0M973 848.5h0M973 852.2h0M973 855.9h0M973 859.4h0M973 862.9h0M973 866.2h0M973 869.5h0M973 872.6h0M973 875.6h0M973 878.6h0M973 881.5h0M973 884.2h0M973 886.9h0M973 891.3h0M973 894h0M973 896.7h0M973 899.4h0M973 902.1h0M973 904.8h0M973 907.5h0M973 910.2h0M973 912.9h0M973 915.6h0M973 918.3h0M973 921h0M973 923.7h0M973 926.4h0M973 929.1h0M973 931.8h0M973 934.5h0M973 937.2h0M973 939.9h0M973 942.6h0M973 945.3h0M973 948h0M973 950.7h0M973 953.4h0M973 956.1h0M973 958.8h0M973.1 965h0M973.1 967.7h0M973.2 970.4h0M973.4 972.9h0M973.5 975.4h0M973.6 977.9h0M973.8 980.2h0M977.5 1003.9h0M977.6 1001.1h0M977.7 998.2h0M977.8 995.4h0M977.9 992.6h0M978 989.8h0M978.1 987h0M978.2 984.1h0M978.3 981.3h0M978.5 978.5h0M978.6 975.7h0M978.7 972.9h0M978.9 970.1h0M979 967.3h0M979.2 964.5h0M1010.9 880.5h0M1010.9 883.2h0M1010.9 885.9h0M1010.9 888.6h0M1010.9 891.3h0M1010.9 894h0M1010.9 896.7h0M1010.9 899.4h0M1010.9 902.1h0M1010.9 904.8h0M1010.9 907.5h0M1010.9 910.2h0M1010.9 912.9h0M1010.9 915.6h0M1010.9 918.3h0M1010.9 921h0M1010.9 923.7h0M1010.9 926.4h0M1010.9 929.1h0M1010.9 931.8h0M1010.9 934.5h0M1010.9 937.2h0M1010.9 939.9h0M1010.9 942.6h0M1010.9 945.3h0M1010.9 948h0M1010.9 950.7h0M1011 951.6h0M1011 948.9h0M1011 946.2h0M1011 943.5h0M1011 940.8h0M1011.1 938.1h0M1011.1 935.4h0M1011.1 932.7h0M1011.1 930h0M1011.1 927.3h0M1011.1 924.6h0M1011.2 921.9h0M1011.2 919.2h0M1011.2 916.5h0M1011.2 913.8h0M1011.2 911.1h0M1011.2 908.4h0M1011.3 905.7h0M1011.3 903h0M1011.3 900.3h0M1011.3 897.6h0M1011.3 894.9h0M1011.4 892.2h0M1011.4 889.5h0M1011.4 886.8h0M1011.4 884.1h0M1011.4 881.4h0M1011.4 878.7h0M1011.3 875.8h0M1011.3 870.6h0M1011.3 865.2h0M1011.3 859.4h0M1011.3 853.3h0M1011.3 846.9h0M1011.3 840.1h0M1011.3 832.9h0M1011.3 825.3h0M1011.3 817.3h0M1011.3 808.8h0M1011.3 799.8h0M1011.3 790.3h0M1011.3 780.3h0M1011.3 769.7h0M1011.3 758.5h0M1011.3 746.6h0M1012 735h0M1012.7 740.5h0M1012.7 752.7h0M1012.7 764.2h0M1012.7 775.1h0M1012.7 785.4h0M1012.7 795.1h0M1012.7 804.4h0M1012.7 813.1h0M1012.7 821.4h0M1012.7 829.2h0M1012.7 836.6h0M1012.7 843.6h0M1012.7 850.2h0M1012.7 856.4h0M1012.7 862.4h0M1012.7 868h0M1012.7 873.3h0M1012.7 879.6h0M1012.7 882.3h0M1012.7 885h0M1012.7 887.7h0M1012.7 890.4h0M1012.7 893.1h0M1012.7 895.8h0M1012.7 898.5h0M1012.7 901.2h0M1012.7 903.9h0M1012.7 906.6h0M1012.7 909.3h0M1012.7 912h0M1012.7 914.7h0M1012.7 917.4h0M1012.7 920.1h0M1012.7 922.8h0M1012.7 925.5h0M1012.7 928.2h0M1012.7 930.9h0M1012.7 933.6h0M1012.7 936.3h0M1012.7 939h0M1012.7 941.7h0M1012.7 944.4h0M1012.7 947.1h0M1012.7 949.8h0M1012.8 956.8h0M1012.8 959.6h0M1012.9 962.3h0M1013.1 965h0M1013.2 967.6h0M1013.3 970.1h0M1013.5 972.6h0M1013.7 975h0M1017.3 997.1h0M1017.4 994.2h0M1017.4 991.3h0M1017.5 988.4h0M1017.6 985.5h0M1017.7 982.6h0M1017.8 979.7h0M1017.9 976.8h0M1018 973.9h0M1018.1 971h0M1018.2 968.1h0M1018.4 965.2h0M1018.5 962.3h0M1018.6 959.4h0M1049.2 869.9h0M1049.2 872.6h0M1049.2 875.3h0M1049.2 878h0M1049.2 880.7h0M1049.2 883.4h0M1049.2 886.1h0M1049.2 888.8h0M1049.2 891.5h0M1049.2 894.2h0M1049.2 896.9h0M1049.2 899.6h0M1049.2 902.3h0M1049.2 905h0M1049.2 907.7h0M1049.2 910.4h0M1049.2 913.1h0M1049.2 915.8h0M1049.2 918.5h0M1049.2 921.2h0M1049.2 923.9h0M1049.2 926.6h0M1049.2 929.3h0M1049.2 932h0M1049.2 934.7h0M1049.2 937.4h0M1049.2 940.1h0M1049.2 942.8h0M1049.3 941h0M1049.3 938.3h0M1049.3 935.6h0M1049.3 932.9h0M1049.3 930.2h0M1049.4 927.5h0M1049.4 924.8h0M1049.4 922.1h0M1049.4 919.4h0M1049.4 916.7h0M1049.4 914h0M1049.5 911.3h0M1049.5 908.6h0M1049.5 905.9h0M1049.5 903.2h0M1049.5 900.5h0M1049.6 897.8h0M1049.6 895.1h0M1049.6 892.4h0M1049.6 889.7h0M1049.6 887h0M1049.6 884.3h0M1049.7 881.6h0M1049.7 878.9h0M1049.7 876.2h0M1049.7 873.5h0M1049.7 870.8h0M1049.7 868.1h0M1049.6 865.2h0M1049.6 860.1h0M1049.6 854.6h0M1049.6 848.9h0M1049.6 842.9h0M1049.6 836.6h0M1049.6 829.9h0M1049.6 822.9h0M1049.6 815.5h0M1049.6 807.7h0M1049.6 799.5h0M1049.6 790.9h0M1049.6 781.8h0M1049.6 772.3h0M1049.6 762.2h0M1049.6 751.6h0M1049.6 740.4h0M1049.6 728.6h0M1049.6 716.2h0M1050.3 714h0M1051 722.5h0M1051 734.6h0M1051 746.1h0M1051 756.9h0M1051 767.3h0M1051 777.1h0M1051 786.4h0M1051 795.3h0M1051 803.7h0M1051 811.7h0M1051 819.3h0M1051 826.5h0M1051 833.3h0M1051 839.8h0M1051 846h0M1051 851.8h0M1051 857.4h0M1051 862.7h0M1051 869h0M1051 871.7h0M1051 874.4h0M1051 877.1h0M1051 879.8h0M1051 882.5h0M1051 885.2h0M1051 887.9h0M1051 890.6h0M1051 893.3h0M1051 896h0M1051 898.7h0M1051 901.4h0M1051 904.1h0M1051 906.8h0M1051 909.5h0M1051 912.2h0M1051 914.9h0M1051 917.6h0M1051 920.3h0M1051 923h0M1051 925.7h0M1051 928.4h0M1051 931.1h0M1051 933.8h0M1051 936.5h0M1051 939.2h0M1051 941.9h0M1051 948.4h0M1051.1 951.3h0M1051.2 954.3h0M1051.3 957.1h0M1051.4 959.9h0M1051.5 962.6h0M1051.6 965.3h0M1051.8 967.8h0M1051.9 970.3h0M1052 972.7h0M1054.6 991.8h0M1054.6 988.8h0M1054.7 985.9h0M1054.8 982.9h0M1054.9 980h0M1055 977h0M1055 974.1h0M1055.1 971.2h0M1055.2 968.2h0M1055.3 965.3h0M1055.4 962.3h0M1055.5 959.4h0M1055.7 956.5h0M1055.8 953.6h0M1084.4 859.2h0M1084.4 861.9h0M1084.4 864.6h0M1084.4 867.3h0M1084.4 870h0M1084.4 872.7h0M1084.4 875.4h0M1084.4 878.1h0M1084.4 880.8h0M1084.4 883.5h0M1084.4 886.2h0M1084.4 888.9h0M1084.4 891.6h0M1084.4 894.3h0M1084.4 897h0M1084.4 899.7h0M1084.4 902.4h0M1084.4 905.1h0M1084.4 907.8h0M1084.4 910.5h0M1084.4 913.2h0M1084.4 915.9h0M1084.4 918.6h0M1084.4 921.3h0M1084.4 924h0M1084.4 926.7h0M1084.4 929.4h0M1084.4 932.1h0M1084.5 933h0M1084.5 930.3h0M1084.5 927.6h0M1084.5 924.9h0M1084.5 922.2h0M1084.6 919.5h0M1084.6 916.8h0M1084.6 914.1h0M1084.6 911.4h0M1084.6 908.7h0M1084.6 906h0M1084.7 903.3h0M1084.7 900.6h0M1084.7 897.9h0M1084.7 895.2h0M1084.7 892.5h0M1084.7 889.8h0M1084.8 887.1h0M1084.8 884.4h0M1084.8 881.7h0M1084.8 879h0M1084.8 876.3h0M1084.8 873.6h0M1084.9 870.9h0M1084.9 868.2h0M1084.9 865.5h0M1084.9 862.8h0M1084.9 860.1h0M1084.9 857.4h0M1084.8 854.5h0M1084.8 849.4h0M1084.8 844h0M1084.8 838.3h0M1084.8 832.4h0M1084.8 826.2h0M1084.8 819.7h0M1084.8 812.8h0M1084.8 805.7h0M1084.8 798.2h0M1084.8 790.3h0M1084.8 782h0M1084.8 773.3h0M1084.8 764.2h0M1084.8 754.7h0M1084.8 744.6h0M1084.8 734.1h0M1084.8 723.1h0M1084.8 711.6h0M1084.8 699.4h0M1085.5 690.4h0M1086.2 693.2h0M1086.2 705.6h0M1086.2 717.4h0M1086.2 728.7h0M1086.2 739.5h0M1086.2 749.7h0M1086.2 759.5h0M1086.2 768.8h0M1086.2 777.7h0M1086.2 786.2h0M1086.2 794.3h0M1086.2 802h0M1086.2 809.3h0M1086.2 816.3h0M1086.2 823h0M1086.2 829.3h0M1086.2 835.4h0M1086.2 841.2h0M1086.2 846.7h0M1086.2 852h0M1086.2 858.3h0M1086.2 861h0M1086.2 863.7h0M1086.2 866.4h0M1086.2 869.1h0M1086.2 871.8h0M1086.2 874.5h0M1086.2 877.2h0M1086.2 879.9h0M1086.2 882.6h0M1086.2 885.3h0M1086.2 888h0M1086.2 890.7h0M1086.2 893.4h0M1086.2 896.1h0M1086.2 898.8h0M1086.2 901.5h0M1086.2 904.2h0M1086.2 906.9h0M1086.2 909.6h0M1086.2 912.3h0M1086.2 915h0M1086.2 917.7h0M1086.2 920.4h0M1086.2 923.1h0M1086.2 925.8h0M1086.2 928.5h0M1086.2 931.2h0M1086.2 939.2h0M1086.3 942.4h0M1086.4 945.4h0M1086.5 948.4h0M1086.6 951.4h0M1086.7 954.2h0M1086.8 957h0M1086.9 959.7h0M1087 962.3h0M1087.2 964.8h0M1087.3 967.3h0M1089.6 985.1h0M1089.6 982.1h0M1089.7 979.2h0M1089.8 976.2h0M1089.8 973.3h0M1089.9 970.3h0M1090 967.4h0M1090.1 964.4h0M1090.2 961.5h0M1090.3 958.6h0M1090.4 955.6h0M1090.5 952.7h0M1090.6 949.8h0M1090.7 946.8h0M1117.9 848.5h0M1117.9 851.2h0M1117.9 853.9h0M1117.9 856.6h0M1117.9 859.3h0M1117.9 862h0M1117.9 864.7h0M1117.9 867.4h0M1117.9 870.1h0M1117.9 872.8h0M1117.9 875.5h0M1117.9 878.2h0M1117.9 880.9h0M1117.9 883.6h0M1117.9 886.3h0M1117.9 889h0M1117.9 891.7h0M1117.9 894.4h0M1117.9 897.1h0M1117.9 899.8h0M1117.9 902.5h0M1117.9 905.2h0M1117.9 907.9h0M1117.9 910.6h0M1117.9 913.3h0M1117.9 916h0M1117.9 918.7h0M1117.9 921.4h0M1117.9 924.1h0M1118 925h0M1118 922.3h0M1118 919.6h0M1118 916.9h0M1118 914.2h0M1118 911.5h0M1118.1 908.8h0M1118.1 906.1h0M1118.1 903.4h0M1118.1 900.7h0M1118.1 898h0M1118.1 895.3h0M1118.2 892.6h0M1118.2 889.9h0M1118.2 887.2h0M1118.2 884.5h0M1118.2 881.8h0M1118.2 879.1h0M1118.3 876.4h0M1118.3 873.7h0M1118.3 871h0M1118.3 868.3h0M1118.3 865.6h0M1118.3 862.9h0M1118.4 860.2h0M1118.4 857.5h0M1118.4 854.8h0M1118.4 852.1h0M1118.4 849.4h0M1118.4 846.7h0M1118.3 843.8h0M1118.3 838.7h0M1118.3 833.3h0M1118.3 827.7h0M1118.3 821.8h0M1118.3 815.7h0M1118.3 809.2h0M1118.3 802.5h0M1118.3 795.5h0M1118.3 788.1h0M1118.3 780.4h0M1118.3 772.3h0M1118.3 763.9h0M1118.3 755h0M1118.3 745.8h0M1118.3 736.1h0M1118.3 726h0M1118.3 715.4h0M1118.3 704.3h0M1118.3 692.7h0M1118.3 680.5h0M1119 671h0M1119.7 674.3h0M1119.7 686.7h0M1119.7 698.5h0M1119.7 709.9h0M1119.7 720.7h0M1119.7 731.1h0M1119.7 741h0M1119.7 750.5h0M1119.7 759.5h0M1119.7 768.1h0M1119.7 776.4h0M1119.7 784.3h0M1119.7 791.8h0M1119.7 799h0M1119.7 805.9h0M1119.7 812.5h0M1119.7 818.8h0M1119.7 824.8h0M1119.7 830.5h0M1119.7 836h0M1119.7 841.3h0M1119.7 847.6h0M1119.7 850.3h0M1119.7 853h0M1119.7 855.7h0M1119.7 858.4h0M1119.7 861.1h0M1119.7 863.8h0M1119.7 866.5h0M1119.7 869.2h0M1119.7 871.9h0M1119.7 874.6h0M1119.7 877.3h0M1119.7 880h0M1119.7 882.7h0M1119.7 885.4h0M1119.7 888.1h0M1119.7 890.8h0M1119.7 893.5h0M1119.7 896.2h0M1119.7 898.9h0M1119.7 901.6h0M1119.7 904.3h0M1119.7 907h0M1119.7 909.7h0M1119.7 912.4h0M1119.7 915.1h0M1119.7 917.8h0M1119.7 920.5h0M1119.7 923.2h0M1119.7 931.3h0M1119.8 934.5h0M1119.9 937.7h0M1120 940.8h0M1120 943.8h0M1120.1 946.7h0M1120.3 949.5h0M1120.4 952.3h0M1120.5 955h0M1120.6 957.6h0M1120.7 960.1h0M1120.9 962.5h0M1122.9 978.3h0M1122.9 975.4h0M1123 972.4h0M1123 969.5h0M1123.1 966.6h0M1123.2 963.6h0M1123.3 960.7h0M1123.3 957.7h0M1123.4 954.8h0M1123.5 951.8h0M1123.6 948.9h0M1123.7 946h0M1123.8 943h0M1123.8 940.1h0M1149.4 836.5h0M1149.4 839.2h0M1149.4 841.9h0M1149.4 844.6h0M1149.4 847.3h0M1149.4 850h0M1149.4 852.7h0M1149.4 855.4h0M1149.4 858.1h0M1149.4 860.8h0M1149.4 863.5h0M1149.4 866.2h0M1149.4 868.9h0M1149.4 871.6h0M1149.4 874.3h0M1149.4 877h0M1149.4 879.7h0M1149.4 882.4h0M1149.4 885.1h0M1149.4 887.8h0M1149.4 890.5h0M1149.4 893.2h0M1149.4 895.9h0M1149.4 898.6h0M1149.4 901.3h0M1149.4 904h0M1149.4 906.7h0M1149.4 909.4h0M1149.4 912.1h0M1149.4 914.8h0M1149.5 915.7h0M1149.5 913h0M1149.5 910.3h0M1149.5 907.6h0M1149.5 904.9h0M1149.5 902.2h0M1149.6 899.5h0M1149.6 896.8h0M1149.6 894.1h0M1149.6 891.4h0M1149.6 888.7h0M1149.6 886h0M1149.7 883.3h0M1149.7 880.6h0M1149.7 877.9h0M1149.7 875.2h0M1149.7 872.5h0M1149.7 869.8h0M1149.8 867.1h0M1149.8 864.4h0M1149.8 861.7h0M1149.8 859h0M1149.8 856.3h0M1149.8 853.6h0M1149.8 850.9h0M1149.9 848.2h0M1149.9 845.5h0M1149.9 842.8h0M1149.9 840.1h0M1149.9 837.4h0M1149.9 834.7h0M1149.8 831.8h0M1149.8 826.7h0M1149.8 821.3h0M1149.8 815.8h0M1149.8 809.9h0M1149.8 803.9h0M1149.8 797.5h0M1149.8 790.9h0M1149.8 784h0M1149.8 776.8h0M1149.8 769.3h0M1149.8 761.4h0M1149.8 753.3h0M1149.8 744.7h0M1149.8 735.8h0M1149.8 726.5h0M1149.8 716.8h0M1149.8 706.6h0M1149.8 696h0M1149.8 685h0M1149.8 673.5h0M1149.8 661.4h0M1150.5 648h0M1151.2 655.2h0M1151.2 667.5h0M1151.2 679.3h0M1151.2 690.6h0M1151.2 701.4h0M1151.2 711.7h0M1151.2 721.7h0M1151.2 731.2h0M1151.2 740.3h0M1151.2 749h0M1151.2 757.4h0M1151.2 765.4h0M1151.2 773.1h0M1151.2 780.4h0M1151.2 787.5h0M1151.2 794.3h0M1151.2 800.7h0M1151.2 806.9h0M1151.2 812.9h0M1151.2 818.6h0M1151.2 824h0M1151.2 829.3h0M1151.2 835.6h0M1151.2 838.3h0M1151.2 841h0M1151.2 843.7h0M1151.2 846.4h0M1151.2 849.1h0M1151.2 851.8h0M1151.2 854.5h0M1151.2 857.2h0M1151.2 859.9h0M1151.2 862.6h0M1151.2 865.3h0M1151.2 868h0M1151.2 870.7h0M1151.2 873.4h0M1151.2 876.1h0M1151.2 878.8h0M1151.2 881.5h0M1151.2 884.2h0M1151.2 886.9h0M1151.2 889.6h0M1151.2 892.3h0M1151.2 895h0M1151.2 897.7h0M1151.2 900.4h0M1151.2 903.1h0M1151.2 905.8h0M1151.2 908.5h0M1151.2 911.2h0M1151.2 913.9h0M1151.2 922.2h0M1151.3 925.6h0M1151.4 928.9h0M1151.4 932.1h0M1151.5 935.3h0M1151.6 938.3h0M1151.7 941.3h0M1151.8 944.2h0M1151.9 947h0M1152 949.8h0M1152.1 952.4h0M1152.3 954.9h0M1152.4 957.3h0M1154.1 971.7h0M1154.1 968.8h0M1154.2 965.8h0M1154.2 962.9h0M1154.3 959.9h0M1154.3 957h0M1154.4 954.1h0M1154.5 951.1h0M1154.6 948.2h0M1154.6 945.2h0M1154.7 942.3h0M1154.8 939.3h0M1154.9 936.4h0M1154.9 933.5h0M1178.9 825.9h0M1178.9 828.6h0M1178.9 831.3h0M1178.9 834h0M1178.9 836.7h0M1178.9 839.4h0M1178.9 842.1h0M1178.9 844.8h0M1178.9 847.5h0M1178.9 850.2h0M1178.9 852.9h0M1178.9 855.6h0M1178.9 858.3h0M1178.9 861h0M1178.9 863.7h0M1178.9 866.4h0M1178.9 869.1h0M1178.9 871.8h0M1178.9 874.5h0M1178.9 877.2h0M1178.9 879.9h0M1178.9 882.6h0M1178.9 885.3h0M1178.9 888h0M1178.9 890.7h0M1178.9 893.4h0M1178.9 896.1h0M1178.9 898.8h0M1178.9 901.5h0M1178.9 904.2h0M1178.9 906.9h0M1179 905.1h0M1179 902.4h0M1179 899.7h0M1179 897h0M1179 894.3h0M1179.1 891.6h0M1179.1 888.9h0M1179.1 886.2h0M1179.1 883.5h0M1179.1 880.8h0M1179.1 878.1h0M1179.1 875.4h0M1179.2 872.7h0M1179.2 870h0M1179.2 867.3h0M1179.2 864.6h0M1179.2 861.9h0M1179.2 859.2h0M1179.3 856.5h0M1179.3 853.8h0M1179.3 851.1h0M1179.3 848.4h0M1179.3 845.7h0M1179.3 843h0M1179.3 840.3h0M1179.4 837.6h0M1179.4 834.9h0M1179.4 832.2h0M1179.4 829.5h0M1179.4 826.8h0M1179.4 824.1h0M1179.3 821.2h0M1179.3 816.1h0M1179.3 810.8h0M1179.3 805.2h0M1179.3 799.5h0M1179.3 793.4h0M1179.3 787.2h0M1179.3 780.7h0M1179.3 773.9h0M1179.3 766.9h0M1179.3 759.5h0M1179.3 751.9h0M1179.3 743.9h0M1179.3 735.6h0M1179.3 727h0M1179.3 718h0M1179.3 708.6h0M1179.3 698.9h0M1179.3 688.8h0M1179.3 678.2h0M1179.3 667.2h0M1179.3 655.8h0M1179.3 643.9h0M1179.3 631.5h0M1180 626h0M1180.7 637.8h0M1180.7 649.9h0M1180.7 661.6h0M1180.7 672.8h0M1180.7 683.6h0M1180.7 693.9h0M1180.7 703.8h0M1180.7 713.4h0M1180.7 722.5h0M1180.7 731.3h0M1180.7 739.8h0M1180.7 747.9h0M1180.7 755.7h0M1180.7 763.2h0M1180.7 770.4h0M1180.7 777.3h0M1180.7 784h0M1180.7 790.4h0M1180.7 796.5h0M1180.7 802.4h0M1180.7 808h0M1180.7 813.5h0M1180.7 818.7h0M1180.7 825h0M1180.7 827.7h0M1180.7 830.4h0M1180.7 833.1h0M1180.7 835.8h0M1180.7 838.5h0M1180.7 841.2h0M1180.7 843.9h0M1180.7 846.6h0M1180.7 849.3h0M1180.7 852h0M1180.7 854.7h0M1180.7 857.4h0M1180.7 860.1h0M1180.7 862.8h0M1180.7 865.5h0M1180.7 868.2h0M1180.7 870.9h0M1180.7 873.6h0M1180.7 876.3h0M1180.7 879h0M1180.7 881.7h0M1180.7 884.4h0M1180.7 887.1h0M1180.7 889.8h0M1180.7 892.5h0M1180.7 895.2h0M1180.7 897.9h0M1180.7 900.6h0M1180.7 903.3h0M1180.7 906h0M1180.7 908.7h0M1180.7 912.9h0M1180.8 916.4h0M1180.8 919.9h0M1180.9 923.2h0M1181 926.5h0M1181.1 929.7h0M1181.2 932.8h0M1181.3 935.8h0M1181.4 938.7h0M1181.5 941.6h0M1181.6 944.3h0M1181.7 946.9h0M1181.8 949.4h0M1183.3 964.5h0M1183.4 961.6h0M1183.5 958.6h0M1183.5 955.7h0M1183.6 952.7h0M1183.6 949.8h0M1183.7 946.8h0M1183.7 943.9h0M1183.8 940.9h0M1183.9 938h0M1184 935.1h0M1184 932.1h0M1184.1 929.2h0M1184.2 926.2h0M1207.1 814.7h0M1207.1 817.4h0M1207.1 820.1h0M1207.1 822.8h0M1207.1 825.5h0M1207.1 828.2h0M1207.1 830.9h0M1207.1 833.6h0M1207.1 836.3h0M1207.1 839h0M1207.1 841.7h0M1207.1 844.4h0M1207.1 847.1h0M1207.1 849.8h0M1207.1 852.5h0M1207.1 855.2h0M1207.1 857.9h0M1207.1 860.6h0M1207.1 863.3h0M1207.1 866h0M1207.1 868.7h0M1207.1 871.4h0M1207.1 874.1h0M1207.1 876.8h0M1207.1 879.5h0M1207.1 882.2h0M1207.1 884.9h0M1207.1 887.6h0M1207.1 890.3h0M1207.1 893h0M1207.1 895.7h0M1207.2 896.6h0M1207.2 893.9h0M1207.2 891.2h0M1207.2 888.5h0M1207.2 885.8h0M1207.2 883.1h0M1207.3 880.4h0M1207.3 877.7h0M1207.3 875h0M1207.3 872.3h0M1207.3 869.6h0M1207.3 866.9h0M1207.4 864.2h0M1207.4 861.5h0M1207.4 858.8h0M1207.4 856.1h0M1207.4 853.4h0M1207.4 850.7h0M1207.4 848h0M1207.5 845.3h0M1207.5 842.6h0M1207.5 839.9h0M1207.5 837.2h0M1207.5 834.5h0M1207.5 831.8h0M1207.6 829.1h0M1207.6 826.4h0M1207.6 823.7h0M1207.6 821h0M1207.6 818.3h0M1207.6 815.6h0M1207.6 812.9h0M1207.5 810h0M1207.5 804.9h0M1207.5 799.6h0M1207.5 794.1h0M1207.5 788.4h0M1207.5 782.4h0M1207.5 776.3h0M1207.5 769.9h0M1207.5 763.2h0M1207.5 756.3h0M1207.5 749.2h0M1207.5 741.7h0M1207.5 734h0M1207.5 726h0M1207.5 717.7h0M1207.5 709h0M1207.5 700h0M1207.5 690.7h0M1207.5 681h0M1207.5 671h0M1207.5 660.5h0M1207.5 649.7h0M1207.5 638.4h0M1207.5 626.8h0M1207.5 614.6h0M1208.2 601h0M1208.9 608.4h0M1208.9 620.7h0M1208.9 632.6h0M1208.9 644.1h0M1208.9 655.2h0M1208.9 665.8h0M1208.9 676h0M1208.9 685.9h0M1208.9 695.4h0M1208.9 704.6h0M1208.9 713.4h0M1208.9 721.9h0M1208.9 730h0M1208.9 737.9h0M1208.9 745.5h0M1208.9 752.8h0M1208.9 759.8h0M1208.9 766.6h0M1208.9 773.1h0M1208.9 779.4h0M1208.9 785.4h0M1208.9 791.3h0M1208.9 796.9h0M1208.9 802.3h0M1208.9 807.5h0M1208.9 813.8h0M1208.9 816.5h0M1208.9 819.2h0M1208.9 821.9h0M1208.9 824.6h0M1208.9 827.3h0M1208.9 830h0M1208.9 832.7h0M1208.9 835.4h0M1208.9 838.1h0M1208.9 840.8h0M1208.9 843.5h0M1208.9 846.2h0M1208.9 848.9h0M1208.9 851.6h0M1208.9 854.3h0M1208.9 857h0M1208.9 859.7h0M1208.9 862.4h0M1208.9 865.1h0M1208.9 867.8h0M1208.9 870.5h0M1208.9 873.2h0M1208.9 875.9h0M1208.9 878.6h0M1208.9 881.3h0M1208.9 884h0M1208.9 886.7h0M1208.9 889.4h0M1208.9 892.1h0M1208.9 894.8h0M1208.9 897.5h0M1208.9 900h0M1208.9 903.8h0M1209 907.4h0M1209.1 911h0M1209.1 914.5h0M1209.2 918h0M1209.3 921.3h0M1209.4 924.6h0M1209.5 927.7h0M1209.7 930.8h0M1209.8 933.7h0M1209.9 936.6h0M1210 939.3h0M1210.2 941.9h0M1210.3 944.4h0M1211.9 957.8h0M1212 954.9h0M1212 951.9h0M1212.1 949h0M1212.1 946h0M1212.2 943.1h0M1212.3 940.1h0M1212.3 937.2h0M1212.4 934.2h0M1212.4 931.3h0M1212.5 928.3h0M1212.6 925.4h0M1212.6 922.5h0M1212.7 919.5h0M1234.7 803.2h0M1234.7 805.9h0M1234.7 808.6h0M1234.7 811.3h0M1234.7 814h0M1234.7 816.7h0M1234.7 819.4h0M1234.7 822.1h0M1234.7 824.8h0M1234.7 827.5h0M1234.7 830.2h0M1234.7 832.9h0M1234.7 835.6h0M1234.7 838.3h0M1234.7 841h0M1234.7 843.7h0M1234.7 846.4h0M1234.7 849.1h0M1234.7 851.8h0M1234.7 854.5h0M1234.7 857.2h0M1234.7 859.9h0M1234.7 862.6h0M1234.7 865.3h0M1234.7 868h0M1234.7 870.7h0M1234.7 873.4h0M1234.7 876.1h0M1234.7 878.8h0M1234.7 881.5h0M1234.7 884.2h0M1234.7 886.9h0M1234.8 887.8h0M1234.8 885.1h0M1234.8 882.4h0M1234.8 879.7h0M1234.8 877h0M1234.8 874.3h0M1234.9 871.6h0M1234.9 868.9h0M1234.9 866.2h0M1234.9 863.5h0M1234.9 860.8h0M1234.9 858.1h0M1234.9 855.4h0M1235 852.7h0M1235 850h0M1235 847.3h0M1235 844.6h0M1235 841.9h0M1235 839.2h0M1235 836.5h0M1235.1 833.8h0M1235.1 831.1h0M1235.1 828.4h0M1235.1 825.7h0M1235.1 823h0M1235.1 820.3h0M1235.2 817.6h0M1235.2 814.9h0M1235.2 812.2h0M1235.2 809.5h0M1235.2 806.8h0M1235.2 804.1h0M1235.2 801.4h0M1235.1 798h0M1235.1 791.3h0M1235.1 784.3h0M1235.1 776.9h0M1235.1 769.2h0M1235.1 761.1h0M1235.1 752.6h0M1235.1 743.8h0M1235.1 734.5h0M1235.1 724.7h0M1235.1 714.6h0M1235.1 703.9h0M1235.1 692.7h0M1235.1 681h0M1235.1 668.8h0M1235.1 655.9h0M1235.1 642.5h0M1235.1 628.4h0M1235.1 613.6h0M1235.1 598.2h0M1235.1 582h0M1235.8 576h0M1236.5 590.2h0M1236.5 606h0M1236.5 621.1h0M1236.5 635.5h0M1236.5 649.3h0M1236.5 662.4h0M1236.5 675h0M1236.5 686.9h0M1236.5 698.4h0M1236.5 709.3h0M1236.5 719.7h0M1236.5 729.7h0M1236.5 739.2h0M1236.5 748.3h0M1236.5 756.9h0M1236.5 765.2h0M1236.5 773.1h0M1236.5 780.6h0M1236.5 787.8h0M1236.5 794.7h0M1236.5 802.3h0M1236.5 805h0M1236.5 807.7h0M1236.5 810.4h0M1236.5 813.1h0M1236.5 815.8h0M1236.5 818.5h0M1236.5 821.2h0M1236.5 823.9h0M1236.5 826.6h0M1236.5 829.3h0M1236.5 832h0M1236.5 834.7h0M1236.5 837.4h0M1236.5 840.1h0M1236.5 842.8h0M1236.5 845.5h0M1236.5 848.2h0M1236.5 850.9h0M1236.5 853.6h0M1236.5 856.3h0M1236.5 859h0M1236.5 861.7h0M1236.5 864.4h0M1236.5 867.1h0M1236.5 869.8h0M1236.5 872.5h0M1236.5 875.2h0M1236.5 877.9h0M1236.5 880.6h0M1236.5 883.3h0M1236.5 886h0M1236.5 894.5h0M1236.6 898.3h0M1236.6 902h0M1236.7 905.6h0M1236.7 909.1h0M1236.8 912.5h0M1236.9 915.8h0M1236.9 919h0M1237 922.1h0M1237.1 925.1h0M1237.2 928h0M1237.3 930.8h0M1237.3 933.5h0M1237.4 936.1h0M1237.5 938.5h0M1238.5 949.8h0M1238.6 946.9h0M1238.6 943.9h0M1238.7 941h0M1238.7 938h0M1238.8 935.1h0M1238.8 932.1h0M1238.9 929.2h0M1238.9 926.2h0M1239 923.3h0M1239.1 920.3h0M1239.1 917.4h0M1239.2 914.4h0M1239.3 911.5h0M1260.4 790.7h0M1260.4 793.4h0M1260.4 796.1h0M1260.4 798.8h0M1260.4 801.5h0M1260.4 804.2h0M1260.4 806.9h0M1260.4 809.6h0M1260.4 812.3h0M1260.4 815h0M1260.4 817.7h0M1260.4 820.4h0M1260.4 823.1h0M1260.4 825.8h0M1260.4 828.5h0M1260.4 831.2h0M1260.4 833.9h0M1260.4 836.6h0M1260.4 839.3h0M1260.4 842h0M1260.4 844.7h0M1260.4 847.4h0M1260.4 850.1h0M1260.4 852.8h0M1260.4 855.5h0M1260.4 858.2h0M1260.4 860.9h0M1260.4 863.6h0M1260.4 866.3h0M1260.4 869h0M1260.4 871.7h0M1260.4 874.4h0M1260.4 877.1h0M1260.5 878h0M1260.5 875.3h0M1260.5 872.6h0M1260.5 869.9h0M1260.5 867.2h0M1260.5 864.5h0M1260.6 861.8h0M1260.6 859.1h0M1260.6 856.4h0M1260.6 853.7h0M1260.6 851h0M1260.6 848.3h0M1260.6 845.6h0M1260.7 842.9h0M1260.7 840.2h0M1260.7 837.5h0M1260.7 834.8h0M1260.7 832.1h0M1260.7 829.4h0M1260.7 826.7h0M1260.8 824h0M1260.8 821.3h0M1260.8 818.6h0M1260.8 815.9h0M1260.8 813.2h0M1260.8 810.5h0M1260.8 807.8h0M1260.9 805.1h0M1260.9 802.4h0M1260.9 799.7h0M1260.9 797h0M1260.9 794.3h0M1260.9 791.6h0M1260.9 788.9h0M1260.8 785.1h0M1260.8 776.7h0M1260.8 767.9h0M1260.8 758.6h0M1260.8 748.8h0M1260.8 738.4h0M1260.8 727.4h0M1260.8 715.9h0M1260.8 703.7h0M1260.8 690.8h0M1260.8 677.1h0M1260.8 662.8h0M1260.8 647.6h0M1260.8 631.5h0M1260.8 614.6h0M1260.8 596.7h0M1260.8 577.8h0M1260.8 557.9h0M1261.5 552.5h0M1262.2 568h0M1262.2 587.4h0M1262.2 605.8h0M1262.2 623.2h0M1262.2 639.7h0M1262.2 655.3h0M1262.2 670h0M1262.2 684h0M1262.2 697.3h0M1262.2 709.8h0M1262.2 721.7h0M1262.2 733h0M1262.2 743.7h0M1262.2 753.8h0M1262.2 763.3h0M1262.2 772.4h0M1262.2 781h0M1262.2 789.8h0M1262.2 792.5h0M1262.2 795.2h0M1262.2 797.9h0M1262.2 800.6h0M1262.2 803.3h0M1262.2 806h0M1262.2 808.7h0M1262.2 811.4h0M1262.2 814.1h0M1262.2 816.8h0M1262.2 819.5h0M1262.2 822.2h0M1262.2 824.9h0M1262.2 827.6h0M1262.2 830.3h0M1262.2 833h0M1262.2 835.7h0M1262.2 838.4h0M1262.2 841.1h0M1262.2 843.8h0M1262.2 846.5h0M1262.2 849.2h0M1262.2 851.9h0M1262.2 854.6h0M1262.2 857.3h0M1262.2 860h0M1262.2 862.7h0M1262.2 865.4h0M1262.2 868.1h0M1262.2 870.8h0M1262.2 873.5h0M1262.2 876.2h0M1262.2 878.9h0M1262.2 881.3h0M1262.2 885.3h0M1262.3 889.1h0M1262.3 892.9h0M1262.4 896.6h0M1262.4 900.2h0M1262.5 903.7h0M1262.5 907.1h0M1262.6 910.5h0M1262.7 913.7h0M1262.8 916.8h0M1262.8 919.8h0M1262.9 922.7h0M1263 925.4h0M1263.1 928.1h0M1263.2 930.6h0M1264.1 942.3h0M1264.2 939.4h0M1264.2 936.4h0M1264.3 933.5h0M1264.3 930.5h0M1264.4 927.6h0M1264.4 924.6h0M1264.5 921.7h0M1264.5 918.7h0M1264.6 915.8h0M1264.6 912.8h0M1264.7 909.9h0M1264.7 906.9h0M1264.8 904h0M1284.4 779.2h0M1284.4 781.9h0M1284.4 784.6h0M1284.4 787.3h0M1284.4 790h0M1284.4 792.7h0M1284.4 795.4h0M1284.4 798.1h0M1284.4 800.8h0M1284.4 803.5h0M1284.4 806.2h0M1284.4 808.9h0M1284.4 811.6h0M1284.4 814.3h0M1284.4 817h0M1284.4 819.7h0M1284.4 822.4h0M1284.4 825.1h0M1284.4 827.8h0M1284.4 830.5h0M1284.4 833.2h0M1284.4 835.9h0M1284.4 838.6h0M1284.4 841.3h0M1284.4 844h0M1284.4 846.7h0M1284.4 849.4h0M1284.4 852.1h0M1284.4 854.8h0M1284.4 857.5h0M1284.4 860.2h0M1284.4 862.9h0M1284.4 865.6h0M1284.4 868.3h0M1284.5 866.5h0M1284.5 863.8h0M1284.5 861.1h0M1284.5 858.4h0M1284.5 855.7h0M1284.5 853h0M1284.6 850.3h0M1284.6 847.6h0M1284.6 844.9h0M1284.6 842.2h0M1284.6 839.5h0M1284.6 836.8h0M1284.6 834.1h0M1284.7 831.4h0M1284.7 828.7h0M1284.7 826h0M1284.7 823.3h0M1284.7 820.6h0M1284.7 817.9h0M1284.7 815.2h0M1284.8 812.5h0M1284.8 809.8h0M1284.8 807.1h0M1284.8 804.4h0M1284.8 801.7h0M1284.8 799h0M1284.8 796.3h0M1284.9 793.6h0M1284.9 790.9h0M1284.9 788.2h0M1284.9 785.5h0M1284.9 782.8h0M1284.9 780.1h0M1284.9 777.4h0M1284.8 773.1h0M1284.8 763.1h0M1284.8 752.5h0M1284.8 741.3h0M1284.8 729.3h0M1284.8 716.6h0M1284.8 703.1h0M1284.8 688.7h0M1284.8 673.5h0M1284.8 657.3h0M1284.8 640h0M1284.8 621.8h0M1284.8 602.3h0M1284.8 581.7h0M1284.8 559.7h0M1284.8 536.4h0M1285.5 525h0M1286.2 548.3h0M1286.2 570.9h0M1286.2 592.2h0M1286.2 612.2h0M1286.2 631h0M1286.2 648.8h0M1286.2 665.5h0M1286.2 681.2h0M1286.2 696h0M1286.2 709.9h0M1286.2 723h0M1286.2 735.4h0M1286.2 747h0M1286.2 757.9h0M1286.2 768.2h0M1286.2 778.3h0M1286.2 781h0M1286.2 783.7h0M1286.2 786.4h0M1286.2 789.1h0M1286.2 791.8h0M1286.2 794.5h0M1286.2 797.2h0M1286.2 799.9h0M1286.2 802.6h0M1286.2 805.3h0M1286.2 808h0M1286.2 810.7h0M1286.2 813.4h0M1286.2 816.1h0M1286.2 818.8h0M1286.2 821.5h0M1286.2 824.2h0M1286.2 826.9h0M1286.2 829.6h0M1286.2 832.3h0M1286.2 835h0M1286.2 837.7h0M1286.2 840.4h0M1286.2 843.1h0M1286.2 845.8h0M1286.2 848.5h0M1286.2 851.2h0M1286.2 853.9h0M1286.2 856.6h0M1286.2 859.3h0M1286.2 862h0M1286.2 864.7h0M1286.2 867.4h0M1286.2 870.1h0M1286.2 874.8h0M1286.3 878.8h0M1286.3 882.8h0M1286.4 886.6h0M1286.4 890.4h0M1286.5 894h0M1286.5 897.6h0M1286.6 901h0M1286.7 904.4h0M1286.8 907.6h0M1286.8 910.7h0M1286.9 913.8h0M1287 916.6h0M1287.1 919.4h0M1287.2 922h0M1287.3 924.5h0M1288.1 934.3h0M1288.2 931.4h0M1288.2 928.4h0M1288.3 925.5h0M1288.3 922.5h0M1288.3 919.6h0M1288.4 916.6h0M1288.4 913.6h0M1288.5 910.7h0M1288.5 907.7h0M1288.6 904.8h0M1288.6 901.8h0M1288.7 898.9h0M1288.7 895.9h0M1307.4 766.7h0M1307.4 769.4h0M1307.4 772.1h0M1307.4 774.8h0M1307.4 777.5h0M1307.4 780.2h0M1307.4 782.9h0M1307.4 785.6h0M1307.4 788.3h0M1307.4 791h0M1307.4 793.7h0M1307.4 796.4h0M1307.4 799.1h0M1307.4 801.8h0M1307.4 804.5h0M1307.4 807.2h0M1307.4 809.9h0M1307.4 812.6h0M1307.4 815.3h0M1307.4 818h0M1307.4 820.7h0M1307.4 823.4h0M1307.4 826.1h0M1307.4 828.8h0M1307.4 831.5h0M1307.4 834.2h0M1307.4 836.9h0M1307.4 839.6h0M1307.4 842.3h0M1307.4 845h0M1307.4 847.7h0M1307.4 850.4h0M1307.4 853.1h0M1307.4 855.8h0M1307.4 858.5h0M1307.5 856.7h0M1307.5 854h0M1307.5 851.3h0M1307.5 848.6h0M1307.5 845.9h0M1307.5 843.2h0M1307.6 840.5h0M1307.6 837.8h0M1307.6 835.1h0M1307.6 832.4h0M1307.6 829.7h0M1307.6 827h0M1307.6 824.3h0M1307.7 821.6h0M1307.7 818.9h0M1307.7 816.2h0M1307.7 813.5h0M1307.7 810.8h0M1307.7 808.1h0M1307.7 805.4h0M1307.7 802.7h0M1307.8 800h0M1307.8 797.3h0M1307.8 794.6h0M1307.8 791.9h0M1307.8 789.2h0M1307.8 786.5h0M1307.8 783.8h0M1307.9 781.1h0M1307.9 778.4h0M1307.9 775.7h0M1307.9 773h0M1307.9 770.3h0M1307.9 767.6h0M1307.9 764.9h0M1307.8 760.1h0M1307.8 748.5h0M1307.8 736.1h0M1307.8 722.8h0M1307.8 708.6h0M1307.8 693.4h0M1307.8 677.2h0M1307.8 659.8h0M1307.8 641.3h0M1307.8 621.4h0M1307.8 600.2h0M1307.8 577.5h0M1307.8 553.2h0M1307.8 527.3h0M1308.5 500h0M1309.2 513.7h0M1309.2 540.5h0M1309.2 565.6h0M1309.2 589h0M1309.2 611h0M1309.2 631.5h0M1309.2 650.7h0M1309.2 668.6h0M1309.2 685.4h0M1309.2 701.1h0M1309.2 715.8h0M1309.2 729.6h0M1309.2 742.4h0M1309.2 754.4h0M1309.2 765.8h0M1309.2 768.5h0M1309.2 771.2h0M1309.2 773.9h0M1309.2 776.6h0M1309.2 779.3h0M1309.2 782h0M1309.2 784.7h0M1309.2 787.4h0M1309.2 790.1h0M1309.2 792.8h0M1309.2 795.5h0M1309.2 798.2h0M1309.2 800.9h0M1309.2 803.6h0M1309.2 806.3h0M1309.2 809h0M1309.2 811.7h0M1309.2 814.4h0M1309.2 817.1h0M1309.2 819.8h0M1309.2 822.5h0M1309.2 825.2h0M1309.2 827.9h0M1309.2 830.6h0M1309.2 833.3h0M1309.2 836h0M1309.2 838.7h0M1309.2 841.4h0M1309.2 844.1h0M1309.2 846.8h0M1309.2 849.5h0M1309.2 852.2h0M1309.2 854.9h0M1309.2 857.6h0M1309.2 865.5h0M1309.2 869.6h0M1309.3 873.7h0M1309.3 877.6h0M1309.4 881.5h0M1309.4 885.2h0M1309.5 888.8h0M1309.5 892.4h0M1309.6 895.8h0M1309.7 899.1h0M1309.7 902.3h0M1309.8 905.4h0M1309.9 908.3h0M1310 911.2h0M1310 913.8h0M1310.1 916.4h0M1310.8 926.5h0M1310.9 923.6h0M1310.9 920.6h0M1310.9 917.7h0M1311 914.7h0M1311 911.8h0M1311.1 908.8h0M1311.1 905.8h0M1311.2 902.9h0M1311.2 899.9h0M1311.2 897h0M1311.3 894h0M1311.3 891.1h0M1311.4 888.1h0M1329.5 755.2h0M1329.5 757.9h0M1329.5 760.6h0M1329.5 763.3h0M1329.5 766h0M1329.5 768.7h0M1329.5 771.4h0M1329.5 774.1h0M1329.5 776.8h0M1329.5 779.5h0M1329.5 782.2h0M1329.5 784.9h0M1329.5 787.6h0M1329.5 790.3h0M1329.5 793h0M1329.5 795.7h0M1329.5 798.4h0M1329.5 801.1h0M1329.5 803.8h0M1329.5 806.5h0M1329.5 809.2h0M1329.5 811.9h0M1329.5 814.6h0M1329.5 817.3h0M1329.5 820h0M1329.5 822.7h0M1329.5 825.4h0M1329.5 828.1h0M1329.5 830.8h0M1329.5 833.5h0M1329.5 836.2h0M1329.5 838.9h0M1329.5 841.6h0M1329.5 844.3h0M1329.5 847h0M1329.6 847.9h0M1329.6 845.2h0M1329.6 842.5h0M1329.6 839.8h0M1329.6 837.1h0M1329.6 834.4h0M1329.7 831.7h0M1329.7 829h0M1329.7 826.3h0M1329.7 823.6h0M1329.7 820.9h0M1329.7 818.2h0M1329.7 815.5h0M1329.7 812.8h0M1329.8 810.1h0M1329.8 807.4h0M1329.8 804.7h0M1329.8 802h0M1329.8 799.3h0M1329.8 796.6h0M1329.8 793.9h0M1329.9 791.2h0M1329.9 788.5h0M1329.9 785.8h0M1329.9 783.1h0M1329.9 780.4h0M1329.9 777.7h0M1329.9 775h0M1329.9 772.3h0M1330 769.6h0M1330 766.9h0M1330 764.2h0M1330 761.5h0M1330 758.8h0M1330 756.1h0M1330 753.4h0M1329.9 748.2h0M1329.9 734.9h0M1329.9 720.7h0M1329.9 705.4h0M1329.9 688.9h0M1329.9 671.3h0M1329.9 652.4h0M1329.9 632h0M1329.9 610.2h0M1329.9 586.7h0M1329.9 561.5h0M1329.9 534.4h0M1329.9 505.4h0M1330.6 471h0M1331.3 490h0M1331.3 520.2h0M1331.3 548.2h0M1331.3 574.3h0M1331.3 598.6h0M1331.3 621.3h0M1331.3 642.4h0M1331.3 662h0M1331.3 680.3h0M1331.3 697.3h0M1331.3 713.2h0M1331.3 727.9h0M1331.3 741.7h0M1331.3 754.3h0M1331.3 757h0M1331.3 759.7h0M1331.3 762.4h0M1331.3 765.1h0M1331.3 767.8h0M1331.3 770.5h0M1331.3 773.2h0M1331.3 775.9h0M1331.3 778.6h0M1331.3 781.3h0M1331.3 784h0M1331.3 786.7h0M1331.3 789.4h0M1331.3 792.1h0M1331.3 794.8h0M1331.3 797.5h0M1331.3 800.2h0M1331.3 802.9h0M1331.3 805.6h0M1331.3 808.3h0M1331.3 811h0M1331.3 813.7h0M1331.3 816.4h0M1331.3 819.1h0M1331.3 821.8h0M1331.3 824.5h0M1331.3 827.2h0M1331.3 829.9h0M1331.3 832.6h0M1331.3 835.3h0M1331.3 838h0M1331.3 840.7h0M1331.3 843.4h0M1331.3 846.1h0M1331.3 848.8h0M1331.3 852h0M1331.3 856.3h0M1331.4 860.5h0M1331.4 864.6h0M1331.4 868.6h0M1331.5 872.5h0M1331.5 876.4h0M1331.6 880.1h0M1331.7 883.7h0M1331.7 887.2h0M1331.8 890.5h0M1331.9 893.8h0M1331.9 896.9h0M1332 899.9h0M1332.1 902.8h0M1332.2 905.5h0M1332.3 908.1h0M1333 918.5h0M1333.1 915.6h0M1333.1 912.6h0M1333.1 909.7h0M1333.2 906.7h0M1333.2 903.7h0M1333.2 900.8h0M1333.3 897.8h0M1333.3 894.9h0M1333.4 891.9h0M1333.4 889h0M1333.4 886h0M1333.5 883.1h0M1333.5 880.1h0M1350.2 744.2h0M1350.2 746.9h0M1350.2 749.6h0M1350.2 752.3h0M1350.2 755h0M1350.2 757.7h0M1350.2 760.4h0M1350.2 763.1h0M1350.2 765.8h0M1350.2 768.5h0M1350.2 771.2h0M1350.2 773.9h0M1350.2 776.6h0M1350.2 779.3h0M1350.2 782h0M1350.2 784.7h0M1350.2 787.4h0M1350.2 790.1h0M1350.2 792.8h0M1350.2 795.5h0M1350.2 798.2h0M1350.2 800.9h0M1350.2 803.6h0M1350.2 806.3h0M1350.2 809h0M1350.2 811.7h0M1350.2 814.4h0M1350.2 817.1h0M1350.2 819.8h0M1350.2 822.5h0M1350.2 825.2h0M1350.2 827.9h0M1350.2 830.6h0M1350.2 833.3h0M1350.2 836h0M1350.2 838.7h0M1350.2 841.4h0M1350.3 842.3h0M1350.3 839.6h0M1350.3 836.9h0M1350.3 834.2h0M1350.3 831.5h0M1350.3 828.8h0M1350.3 826.1h0M1350.4 823.4h0M1350.4 820.7h0M1350.4 818h0M1350.4 815.3h0M1350.4 812.6h0M1350.4 809.9h0M1350.4 807.2h0M1350.4 804.5h0M1350.5 801.8h0M1350.5 799.1h0M1350.5 796.4h0M1350.5 793.7h0M1350.5 791h0M1350.5 788.3h0M1350.5 785.6h0M1350.5 782.9h0M1350.6 780.2h0M1350.6 777.5h0M1350.6 774.8h0M1350.6 772.1h0M1350.6 769.4h0M1350.6 766.7h0M1350.6 764h0M1350.7 761.3h0M1350.7 758.6h0M1350.7 755.9h0M1350.7 753.2h0M1350.7 750.5h0M1350.7 747.8h0M1350.7 745.1h0M1350.7 742.4h0M1350.6 736.7h0M1350.6 721.8h0M1350.6 705.7h0M1350.6 688.4h0M1350.6 669.7h0M1350.6 649.5h0M1350.6 627.7h0M1350.6 604.3h0M1350.6 578.9h0M1350.6 551.6h0M1350.6 522.2h0M1350.6 490.4h0M1350.6 456.2h0M1351.3 444h0M1352 473.6h0M1352 506.6h0M1352 537.2h0M1352 565.5h0M1352 591.8h0M1352 616.2h0M1352 638.8h0M1352 659.8h0M1352 679.2h0M1352 697.2h0M1352 713.9h0M1352 729.4h0M1352 743.3h0M1352 746h0M1352 748.7h0M1352 751.4h0M1352 754.1h0M1352 756.8h0M1352 759.5h0M1352 762.2h0M1352 764.9h0M1352 767.6h0M1352 770.3h0M1352 773h0M1352 775.7h0M1352 778.4h0M1352 781.1h0M1352 783.8h0M1352 786.5h0M1352 789.2h0M1352 791.9h0M1352 794.6h0M1352 797.3h0M1352 800h0M1352 802.7h0M1352 805.4h0M1352 808.1h0M1352 810.8h0M1352 813.5h0M1352 816.2h0M1352 818.9h0M1352 821.6h0M1352 824.3h0M1352 827h0M1352 829.7h0M1352 832.4h0M1352 835.1h0M1352 837.8h0M1352 840.5h0M1352 849.4h0M1352 853.6h0M1352.1 857.6h0M1352.1 861.6h0M1352.2 865.4h0M1352.2 869.2h0M1352.3 872.8h0M1352.3 876.4h0M1352.4 879.8h0M1352.5 883.1h0M1352.5 886.3h0M1352.6 889.4h0M1352.7 892.4h0M1352.8 895.2h0M1352.8 897.9h0M1352.9 900.4h0M1353.6 910.6h0M1353.7 907.7h0M1353.7 904.7h0M1353.7 901.8h0M1353.8 898.8h0M1353.8 895.8h0M1353.8 892.9h0M1353.9 889.9h0M1353.9 887h0M1353.9 884h0M1354 881.1h0M1354 878.1h0M1354.1 875.2h0M1354.1 872.2h0M1370.6 731.7h0M1370.6 734.4h0M1370.6 737.1h0M1370.6 739.8h0M1370.6 742.5h0M1370.6 745.2h0M1370.6 747.9h0M1370.6 750.6h0M1370.6 753.3h0M1370.6 756h0M1370.6 758.7h0M1370.6 761.4h0M1370.6 764.1h0M1370.6 766.8h0M1370.6 769.5h0M1370.6 772.2h0M1370.6 774.9h0M1370.6 777.6h0M1370.6 780.3h0M1370.6 783h0M1370.6 785.7h0M1370.6 788.4h0M1370.6 791.1h0M1370.6 793.8h0M1370.6 796.5h0M1370.6 799.2h0M1370.6 801.9h0M1370.6 804.6h0M1370.6 807.3h0M1370.6 810h0M1370.6 812.7h0M1370.6 815.4h0M1370.6 818.1h0M1370.6 820.8h0M1370.6 823.5h0M1370.6 826.2h0M1370.6 828.9h0M1370.6 831.6h0M1370.7 829.8h0M1370.7 827.1h0M1370.7 824.4h0M1370.7 821.7h0M1370.7 819h0M1370.7 816.3h0M1370.8 813.6h0M1370.8 810.9h0M1370.8 808.2h0M1370.8 805.5h0M1370.8 802.8h0M1370.8 800.1h0M1370.8 797.4h0M1370.8 794.7h0M1370.9 792h0M1370.9 789.3h0M1370.9 786.6h0M1370.9 783.9h0M1370.9 781.2h0M1370.9 778.5h0M1370.9 775.8h0M1370.9 773.1h0M1371 770.4h0M1371 767.7h0M1371 765h0M1371 762.3h0M1371 759.6h0M1371 756.9h0M1371 754.2h0M1371 751.5h0M1371.1 748.8h0M1371.1 746.1h0M1371.1 743.4h0M1371.1 740.7h0M1371.1 738h0M1371.1 735.3h0M1371.1 732.6h0M1371.1 729.9h0M1371 723.7h0M1371 707.2h0M1371 689.3h0M1371 669.8h0M1371 648.8h0M1371 626.1h0M1371 601.5h0M1371 574.8h0M1371 546h0M1371 514.7h0M1371 480.9h0M1371 444.3h0M1371.7 415h0M1372.4 424.9h0M1372.4 463h0M1372.4 498.1h0M1372.4 530.6h0M1372.4 560.7h0M1372.4 588.4h0M1372.4 614h0M1372.4 637.7h0M1372.4 659.5h0M1372.4 679.7h0M1372.4 698.4h0M1372.4 715.6h0M1372.4 730.8h0M1372.4 733.5h0M1372.4 736.2h0M1372.4 738.9h0M1372.4 741.6h0M1372.4 744.3h0M1372.4 747h0M1372.4 749.7h0M1372.4 752.4h0M1372.4 755.1h0M1372.4 757.8h0M1372.4 760.5h0M1372.4 763.2h0M1372.4 765.9h0M1372.4 768.6h0M1372.4 771.3h0M1372.4 774h0M1372.4 776.7h0M1372.4 779.4h0M1372.4 782.1h0M1372.4 784.8h0M1372.4 787.5h0M1372.4 790.2h0M1372.4 792.9h0M1372.4 795.6h0M1372.4 798.3h0M1372.4 801h0M1372.4 803.7h0M1372.4 806.4h0M1372.4 809.1h0M1372.4 811.8h0M1372.4 814.5h0M1372.4 817.2h0M1372.4 819.9h0M1372.4 822.6h0M1372.4 825.3h0M1372.4 828h0M1372.4 830.7h0M1372.4 839.2h0M1372.4 843.5h0M1372.5 847.6h0M1372.5 851.7h0M1372.5 855.6h0M1372.6 859.5h0M1372.6 863.2h0M1372.7 866.8h0M1372.7 870.4h0M1372.8 873.8h0M1372.8 877.1h0M1372.9 880.2h0M1372.9 883.2h0M1373 886.1h0M1373 888.9h0M1373.1 891.5h0M1373.6 902h0M1373.7 899.1h0M1373.7 896.1h0M1373.7 893.2h0M1373.7 890.2h0M1373.8 887.2h0M1373.8 884.3h0M1373.8 881.3h0M1373.9 878.4h0M1373.9 875.4h0M1374 872.4h0M1374 869.5h0M1374 866.5h0M1374.1 863.6h0M1389.7 718.7h0M1389.7 721.4h0M1389.7 724.1h0M1389.7 726.8h0M1389.7 729.5h0M1389.7 732.2h0M1389.7 734.9h0M1389.7 737.6h0M1389.7 740.3h0M1389.7 743h0M1389.7 745.7h0M1389.7 748.4h0M1389.7 751.1h0M1389.7 753.8h0M1389.7 756.5h0M1389.7 759.2h0M1389.7 761.9h0M1389.7 764.6h0M1389.7 767.3h0M1389.7 770h0M1389.7 772.7h0M1389.7 775.4h0M1389.7 778.1h0M1389.7 780.8h0M1389.7 783.5h0M1389.7 786.2h0M1389.7 788.9h0M1389.7 791.6h0M1389.7 794.3h0M1389.7 797h0M1389.7 799.7h0M1389.7 802.4h0M1389.7 805.1h0M1389.7 807.8h0M1389.7 810.5h0M1389.7 813.2h0M1389.7 815.9h0M1389.7 818.6h0M1389.7 821.3h0M1389.8 819.5h0M1389.8 816.8h0M1389.8 814.1h0M1389.8 811.4h0M1389.8 808.7h0M1389.8 806h0M1389.8 803.3h0M1389.9 800.6h0M1389.9 797.9h0M1389.9 795.2h0M1389.9 792.5h0M1389.9 789.8h0M1389.9 787.1h0M1389.9 784.4h0M1389.9 781.7h0M1390 779h0M1390 776.3h0M1390 773.6h0M1390 770.9h0M1390 768.2h0M1390 765.5h0M1390 762.8h0M1390 760.1h0M1390.1 757.4h0M1390.1 754.7h0M1390.1 752h0M1390.1 749.3h0M1390.1 746.6h0M1390.1 743.9h0M1390.1 741.2h0M1390.1 738.5h0M1390.2 735.8h0M1390.2 733.1h0M1390.2 730.4h0M1390.2 727.7h0M1390.2 725h0M1390.2 722.3h0M1390.2 719.6h0M1390.2 716.9h0M1390.1 710.4h0M1390.1 692.6h0M1390.1 673.4h0M1390.1 652.5h0M1390.1 629.8h0M1390.1 605.3h0M1390.1 578.7h0M1390.1 549.8h0M1390.1 518.6h0M1390.1 484.7h0M1390.1 447.9h0M1390.1 408.1h0M1390.8 385h0M1391.5 428.4h0M1391.5 466.7h0M1391.5 501.9h0M1391.5 534.5h0M1391.5 564.5h0M1391.5 592.2h0M1391.5 617.8h0M1391.5 641.4h0M1391.5 663.1h0M1391.5 683.2h0M1391.5 701.7h0M1391.5 717.8h0M1391.5 720.5h0M1391.5 723.2h0M1391.5 725.9h0M1391.5 728.6h0M1391.5 731.3h0M1391.5 734h0M1391.5 736.7h0M1391.5 739.4h0M1391.5 742.1h0M1391.5 744.8h0M1391.5 747.5h0M1391.5 750.2h0M1391.5 752.9h0M1391.5 755.6h0M1391.5 758.3h0M1391.5 761h0M1391.5 763.7h0M1391.5 766.4h0M1391.5 769.1h0M1391.5 771.8h0M1391.5 774.5h0M1391.5 777.2h0M1391.5 779.9h0M1391.5 782.6h0M1391.5 785.3h0M1391.5 788h0M1391.5 790.7h0M1391.5 793.4h0M1391.5 796.1h0M1391.5 798.8h0M1391.5 801.5h0M1391.5 804.2h0M1391.5 806.9h0M1391.5 809.6h0M1391.5 812.3h0M1391.5 815h0M1391.5 817.7h0M1391.5 820.4h0M1391.5 828.5h0M1391.6 832.9h0M1391.6 837.2h0M1391.7 841.3h0M1391.7 845.4h0M1391.8 849.3h0M1391.8 853.1h0M1391.9 856.9h0M1392 860.5h0M1392.1 864h0M1392.1 867.3h0M1392.2 870.6h0M1392.3 873.7h0M1392.4 876.7h0M1392.5 879.5h0M1392.6 882.2h0M1392.7 884.7h0M1393.4 893h0M1393.5 890.1h0M1393.5 887.1h0M1393.5 884.1h0M1393.5 881.2h0M1393.6 878.2h0M1393.6 875.3h0M1393.6 872.3h0M1393.7 869.3h0M1393.7 866.4h0M1393.7 863.4h0M1393.8 860.5h0M1393.8 857.5h0M1393.8 854.6h0M1408.5 705.2h0M1408.5 707.9h0M1408.5 710.6h0M1408.5 713.3h0M1408.5 716h0M1408.5 718.7h0M1408.5 721.4h0M1408.5 724.1h0M1408.5 726.8h0M1408.5 729.5h0M1408.5 732.2h0M1408.5 734.9h0M1408.5 737.6h0M1408.5 740.3h0M1408.5 743h0M1408.5 745.7h0M1408.5 748.4h0M1408.5 751.1h0M1408.5 753.8h0M1408.5 756.5h0M1408.5 759.2h0M1408.5 761.9h0M1408.5 764.6h0M1408.5 767.3h0M1408.5 770h0M1408.5 772.7h0M1408.5 775.4h0M1408.5 778.1h0M1408.5 780.8h0M1408.5 783.5h0M1408.5 786.2h0M1408.5 788.9h0M1408.5 791.6h0M1408.5 794.3h0M1408.5 797h0M1408.5 799.7h0M1408.5 802.4h0M1408.5 805.1h0M1408.5 807.8h0M1408.6 808.7h0M1408.6 806h0M1408.6 803.3h0M1408.6 800.6h0M1408.6 797.9h0M1408.6 795.2h0M1408.6 792.5h0M1408.7 789.8h0M1408.7 787.1h0M1408.7 784.4h0M1408.7 781.7h0M1408.7 779h0M1408.7 776.3h0M1408.7 773.6h0M1408.7 770.9h0M1408.8 768.2h0M1408.8 765.5h0M1408.8 762.8h0M1408.8 760.1h0M1408.8 757.4h0M1408.8 754.7h0M1408.8 752h0M1408.8 749.3h0M1408.8 746.6h0M1408.9 743.9h0M1408.9 741.2h0M1408.9 738.5h0M1408.9 735.8h0M1408.9 733.1h0M1408.9 730.4h0M1408.9 727.7h0M1408.9 725h0M1409 722.3h0M1409 719.6h0M1409 716.9h0M1409 714.2h0M1409 711.5h0M1409 708.8h0M1409 706.1h0M1409 703.4h0M1408.9 696.6h0M1408.9 677.8h0M1408.9 657.4h0M1408.9 635.2h0M1408.9 611.2h0M1408.9 585.2h0M1408.9 556.9h0M1408.9 526.3h0M1408.9 493.1h0M1408.9 457h0M1408.9 418h0M1408.9 375.6h0M1409.6 354h0M1410.3 397.2h0M1410.3 437.9h0M1410.3 475.4h0M1410.3 510h0M1410.3 541.9h0M1410.3 571.3h0M1410.3 598.4h0M1410.3 623.4h0M1410.3 646.5h0M1410.3 667.8h0M1410.3 687.4h0M1410.3 704.3h0M1410.3 707h0M1410.3 709.7h0M1410.3 712.4h0M1410.3 715.1h0M1410.3 717.8h0M1410.3 720.5h0M1410.3 723.2h0M1410.3 725.9h0M1410.3 728.6h0M1410.3 731.3h0M1410.3 734h0M1410.3 736.7h0M1410.3 739.4h0M1410.3 742.1h0M1410.3 744.8h0M1410.3 747.5h0M1410.3 750.2h0M1410.3 752.9h0M1410.3 755.6h0M1410.3 758.3h0M1410.3 761h0M1410.3 763.7h0M1410.3 766.4h0M1410.3 769.1h0M1410.3 771.8h0M1410.3 774.5h0M1410.3 777.2h0M1410.3 779.9h0M1410.3 782.6h0M1410.3 785.3h0M1410.3 788h0M1410.3 790.7h0M1410.3 793.4h0M1410.3 796.1h0M1410.3 798.8h0M1410.3 801.5h0M1410.3 804.2h0M1410.3 806.9h0M1410.3 809.6h0M1410.3 812.8h0M1410.3 817.5h0M1410.3 822h0M1410.4 826.4h0M1410.4 830.8h0M1410.4 835h0M1410.5 839.2h0M1410.5 843.2h0M1410.5 847.1h0M1410.6 850.8h0M1410.6 854.5h0M1410.7 858h0M1410.7 861.4h0M1410.8 864.7h0M1410.8 867.8h0M1410.9 870.7h0M1410.9 873.5h0M1411 876.2h0M1411.4 885h0M1411.4 882.1h0M1411.5 879.1h0M1411.5 876.1h0M1411.5 873.2h0M1411.6 870.2h0M1411.6 867.3h0M1411.6 864.3h0M1411.6 861.3h0M1411.7 858.4h0M1411.7 855.4h0M1411.7 852.5h0M1411.8 849.5h0M1411.8 846.5h0M1425.9 691.2h0M1425.9 693.9h0M1425.9 696.6h0M1425.9 699.3h0M1425.9 702h0M1425.9 704.7h0M1425.9 707.4h0M1425.9 710.1h0M1425.9 712.8h0M1425.9 715.5h0M1425.9 718.2h0M1425.9 720.9h0M1425.9 723.6h0M1425.9 726.3h0M1425.9 729h0M1425.9 731.7h0M1425.9 734.4h0M1425.9 737.1h0M1425.9 739.8h0M1425.9 742.5h0M1425.9 745.2h0M1425.9 747.9h0M1425.9 750.6h0M1425.9 753.3h0M1425.9 756h0M1425.9 758.7h0M1425.9 761.4h0M1425.9 764.1h0M1425.9 766.8h0M1425.9 769.5h0M1425.9 772.2h0M1425.9 774.9h0M1425.9 777.6h0M1425.9 780.3h0M1425.9 783h0M1425.9 785.7h0M1425.9 788.4h0M1425.9 791.1h0M1425.9 793.8h0M1425.9 796.5h0M1426 797.4h0M1426 794.7h0M1426 792h0M1426 789.3h0M1426 786.6h0M1426 783.9h0M1426 781.2h0M1426 778.5h0M1426.1 775.8h0M1426.1 773.1h0M1426.1 770.4h0M1426.1 767.7h0M1426.1 765h0M1426.1 762.3h0M1426.1 759.6h0M1426.1 756.9h0M1426.2 754.2h0M1426.2 751.5h0M1426.2 748.8h0M1426.2 746.1h0M1426.2 743.4h0M1426.2 740.7h0M1426.2 738h0M1426.2 735.3h0M1426.3 732.6h0M1426.3 729.9h0M1426.3 727.2h0M1426.3 724.5h0M1426.3 721.8h0M1426.3 719.1h0M1426.3 716.4h0M1426.3 713.7h0M1426.3 711h0M1426.4 708.3h0M1426.4 705.6h0M1426.4 702.9h0M1426.4 700.2h0M1426.4 697.5h0M1426.4 694.8h0M1426.4 692.1h0M1426.4 689.4h0M1426.3 682.3h0M1426.3 662.4h0M1426.3 640.9h0M1426.3 617.5h0M1426.3 592.2h0M1426.3 564.8h0M1426.3 535h0M1426.3 502.8h0M1426.3 467.8h0M1426.3 429.9h0M1426.3 388.8h0M1426.3 344.3h0M1427 319h0M1427.7 367h0M1427.7 409.8h0M1427.7 449.2h0M1427.7 485.6h0M1427.7 519.2h0M1427.7 550.2h0M1427.7 578.8h0M1427.7 605.1h0M1427.7 629.4h0M1427.7 651.9h0M1427.7 672.6h0M1427.7 690.3h0M1427.7 693h0M1427.7 695.7h0M1427.7 698.4h0M1427.7 701.1h0M1427.7 703.8h0M1427.7 706.5h0M1427.7 709.2h0M1427.7 711.9h0M1427.7 714.6h0M1427.7 717.3h0M1427.7 720h0M1427.7 722.7h0M1427.7 725.4h0M1427.7 728.1h0M1427.7 730.8h0M1427.7 733.5h0M1427.7 736.2h0M1427.7 738.9h0M1427.7 741.6h0M1427.7 744.3h0M1427.7 747h0M1427.7 749.7h0M1427.7 752.4h0M1427.7 755.1h0M1427.7 757.8h0M1427.7 760.5h0M1427.7 763.2h0M1427.7 765.9h0M1427.7 768.6h0M1427.7 771.3h0M1427.7 774h0M1427.7 776.7h0M1427.7 779.4h0M1427.7 782.1h0M1427.7 784.8h0M1427.7 787.5h0M1427.7 790.2h0M1427.7 792.9h0M1427.7 795.6h0M1427.7 798.3h0M1427.7 801h0M1427.7 805.8h0M1427.8 810.5h0M1427.8 815h0M1427.9 819.5h0M1427.9 823.9h0M1428 828.1h0M1428 832.3h0M1428.1 836.3h0M1428.2 840.2h0M1428.3 843.9h0M1428.3 847.5h0M1428.4 851h0M1428.5 854.4h0M1428.6 857.6h0M1428.7 860.6h0M1428.8 863.5h0M1428.9 866.2h0M1429 868.7h0M1429.6 875.4h0M1429.6 872.5h0M1429.7 869.5h0M1429.7 866.5h0M1429.7 863.6h0M1429.7 860.6h0M1429.8 857.6h0M1429.8 854.7h0M1429.8 851.7h0M1429.8 848.8h0M1429.9 845.8h0M1429.9 842.8h0M1429.9 839.9h0M1430 836.9h0M1442.7 675.2h0M1442.7 677.9h0M1442.7 680.6h0M1442.7 683.3h0M1442.7 686h0M1442.7 688.7h0M1442.7 691.4h0M1442.7 694.1h0M1442.7 696.8h0M1442.7 699.5h0M1442.7 702.2h0M1442.7 704.9h0M1442.7 707.6h0M1442.7 710.3h0M1442.7 713h0M1442.7 715.7h0M1442.7 718.4h0M1442.7 721.1h0M1442.7 723.8h0M1442.7 726.5h0M1442.7 729.2h0M1442.7 731.9h0M1442.7 734.6h0M1442.7 737.3h0M1442.7 740h0M1442.7 742.7h0M1442.7 745.4h0M1442.7 748.1h0M1442.7 750.8h0M1442.7 753.5h0M1442.7 756.2h0M1442.7 758.9h0M1442.7 761.6h0M1442.7 764.3h0M1442.7 767h0M1442.7 769.7h0M1442.7 772.4h0M1442.7 775.1h0M1442.7 777.8h0M1442.7 780.5h0M1442.7 783.2h0M1442.8 784.1h0M1442.8 781.4h0M1442.8 778.7h0M1442.8 776h0M1442.8 773.3h0M1442.8 770.6h0M1442.8 767.9h0M1442.8 765.2h0M1442.9 762.5h0M1442.9 759.8h0M1442.9 757.1h0M1442.9 754.4h0M1442.9 751.7h0M1442.9 749h0M1442.9 746.3h0M1442.9 743.6h0M1443 740.9h0M1443 738.2h0M1443 735.5h0M1443 732.8h0M1443 730.1h0M1443 727.4h0M1443 724.7h0M1443 722h0M1443 719.3h0M1443.1 716.6h0M1443.1 713.9h0M1443.1 711.2h0M1443.1 708.5h0M1443.1 705.8h0M1443.1 703.1h0M1443.1 700.4h0M1443.1 697.7h0M1443.2 695h0M1443.2 692.3h0M1443.2 689.6h0M1443.2 686.9h0M1443.2 684.2h0M1443.2 681.5h0M1443.2 678.8h0M1443.2 676.1h0M1443.2 673.4h0M1443.1 666h0M1443.1 645.1h0M1443.1 622.4h0M1443.1 597.9h0M1443.1 571.3h0M1443.1 542.5h0M1443.1 511.2h0M1443.1 477.4h0M1443.1 440.7h0M1443.1 401h0M1443.1 358h0M1443.1 311.3h0M1443.8 281h0M1444.5 335.1h0M1444.5 379.9h0M1444.5 421.3h0M1444.5 459.4h0M1444.5 494.7h0M1444.5 527.2h0M1444.5 557.2h0M1444.5 584.9h0M1444.5 610.4h0M1444.5 634h0M1444.5 655.8h0M1444.5 674.3h0M1444.5 677h0M1444.5 679.7h0M1444.5 682.4h0M1444.5 685.1h0M1444.5 687.8h0M1444.5 690.5h0M1444.5 693.2h0M1444.5 695.9h0M1444.5 698.6h0M1444.5 701.3h0M1444.5 704h0M1444.5 706.7h0M1444.5 709.4h0M1444.5 712.1h0M1444.5 714.8h0M1444.5 717.5h0M1444.5 720.2h0M1444.5 722.9h0M1444.5 725.6h0M1444.5 728.3h0M1444.5 731h0M1444.5 733.7h0M1444.5 736.4h0M1444.5 739.1h0M1444.5 741.8h0M1444.5 744.5h0M1444.5 747.2h0M1444.5 749.9h0M1444.5 752.6h0M1444.5 755.3h0M1444.5 758h0M1444.5 760.7h0M1444.5 763.4h0M1444.5 766.1h0M1444.5 768.8h0M1444.5 771.5h0M1444.5 774.2h0M1444.5 776.9h0M1444.5 779.6h0M1444.5 782.3h0M1444.5 792.3h0M1444.6 797.2h0M1444.6 802h0M1444.7 806.8h0M1444.7 811.4h0M1444.8 815.9h0M1444.8 820.2h0M1444.9 824.5h0M1445 828.6h0M1445.1 832.6h0M1445.1 836.4h0M1445.2 840.1h0M1445.3 843.6h0M1445.4 847h0M1445.5 850.2h0M1445.6 853.3h0M1445.7 856.1h0M1445.8 858.8h0M1446.4 866h0M1446.4 863.1h0M1446.5 860.1h0M1446.5 857.1h0M1446.5 854.2h0M1446.5 851.2h0M1446.6 848.2h0M1446.6 845.3h0M1446.6 842.3h0M1446.6 839.4h0M1446.7 836.4h0M1446.7 833.4h0M1446.7 830.5h0M1446.7 827.5h0M1459.3 659.2h0M1459.3 661.9h0M1459.3 664.6h0M1459.3 667.3h0M1459.3 670h0M1459.3 672.7h0M1459.3 675.4h0M1459.3 678.1h0M1459.3 680.8h0M1459.3 683.5h0M1459.3 686.2h0M1459.3 688.9h0M1459.3 691.6h0M1459.3 694.3h0M1459.3 697h0M1459.3 699.7h0M1459.3 702.4h0M1459.3 705.1h0M1459.3 707.8h0M1459.3 710.5h0M1459.3 713.2h0M1459.3 715.9h0M1459.3 718.6h0M1459.3 721.3h0M1459.3 724h0M1459.3 726.7h0M1459.3 729.4h0M1459.3 732.1h0M1459.3 734.8h0M1459.3 737.5h0M1459.3 740.2h0M1459.3 742.9h0M1459.3 745.6h0M1459.3 748.3h0M1459.3 751h0M1459.3 753.7h0M1459.3 756.4h0M1459.3 759.1h0M1459.3 761.8h0M1459.3 764.5h0M1459.3 767.2h0M1459.3 769.9h0M1459.4 770.8h0M1459.4 768.1h0M1459.4 765.4h0M1459.4 762.7h0M1459.4 760h0M1459.4 757.3h0M1459.4 754.6h0M1459.4 751.9h0M1459.5 749.2h0M1459.5 746.5h0M1459.5 743.8h0M1459.5 741.1h0M1459.5 738.4h0M1459.5 735.7h0M1459.5 733h0M1459.5 730.3h0M1459.5 727.6h0M1459.6 724.9h0M1459.6 722.2h0M1459.6 719.5h0M1459.6 716.8h0M1459.6 714.1h0M1459.6 711.4h0M1459.6 708.7h0M1459.6 706h0M1459.6 703.3h0M1459.7 700.6h0M1459.7 697.9h0M1459.7 695.2h0M1459.7 692.5h0M1459.7 689.8h0M1459.7 687.1h0M1459.7 684.4h0M1459.7 681.7h0M1459.8 679h0M1459.8 676.3h0M1459.8 673.6h0M1459.8 670.9h0M1459.8 668.2h0M1459.8 665.5h0M1459.8 662.8h0M1459.8 660.1h0M1459.8 657.4h0M1459.7 649.7h0M1459.7 627.7h0M1459.7 603.9h0M1459.7 578.2h0M1459.7 550.2h0M1459.7 520h0M1459.7 487.1h0M1459.7 451.6h0M1459.7 413.1h0M1459.7 371.3h0M1459.7 326.1h0M1459.7 277.1h0M1460.4 246h0M1461.1 302.1h0M1461.1 349.2h0M1461.1 392.6h0M1461.1 432.7h0M1461.1 469.7h0M1461.1 503.9h0M1461.1 535.4h0M1461.1 564.5h0M1461.1 591.3h0M1461.1 616.1h0M1461.1 638.9h0M1461.1 658.3h0M1461.1 661h0M1461.1 663.7h0M1461.1 666.4h0M1461.1 669.1h0M1461.1 671.8h0M1461.1 674.5h0M1461.1 677.2h0M1461.1 679.9h0M1461.1 682.6h0M1461.1 685.3h0M1461.1 688h0M1461.1 690.7h0M1461.1 693.4h0M1461.1 696.1h0M1461.1 698.8h0M1461.1 701.5h0M1461.1 704.2h0M1461.1 706.9h0M1461.1 709.6h0M1461.1 712.3h0M1461.1 715h0M1461.1 717.7h0M1461.1 720.4h0M1461.1 723.1h0M1461.1 725.8h0M1461.1 728.5h0M1461.1 731.2h0M1461.1 733.9h0M1461.1 736.6h0M1461.1 739.3h0M1461.1 742h0M1461.1 744.7h0M1461.1 747.4h0M1461.1 750.1h0M1461.1 752.8h0M1461.1 755.5h0M1461.1 758.2h0M1461.1 760.9h0M1461.1 763.6h0M1461.1 766.3h0M1461.1 769h0M1461.1 778.7h0M1461.1 783.9h0M1461.2 788.9h0M1461.2 793.9h0M1461.3 798.7h0M1461.3 803.4h0M1461.4 808h0M1461.4 812.4h0M1461.5 816.7h0M1461.5 820.9h0M1461.6 824.9h0M1461.7 828.7h0M1461.7 832.4h0M1461.8 836h0M1461.9 839.3h0M1462 842.5h0M1462 845.5h0M1462.1 848.3h0M1462.2 850.9h0M1462.6 856h0M1462.6 853.1h0M1462.7 850.1h0M1462.7 847.1h0M1462.7 844.2h0M1462.7 841.2h0M1462.7 838.2h0M1462.8 835.3h0M1462.8 832.3h0M1462.8 829.3h0M1462.8 826.4h0M1462.9 823.4h0M1462.9 820.5h0M1462.9 817.5h0M1475.6 643.2h0M1475.6 645.9h0M1475.6 648.6h0M1475.6 651.3h0M1475.6 654h0M1475.6 656.7h0M1475.6 659.4h0M1475.6 662.1h0M1475.6 664.8h0M1475.6 667.5h0M1475.6 670.2h0M1475.6 672.9h0M1475.6 675.6h0M1475.6 678.3h0M1475.6 681h0M1475.6 683.7h0M1475.6 686.4h0M1475.6 689.1h0M1475.6 691.8h0M1475.6 694.5h0M1475.6 697.2h0M1475.6 699.9h0M1475.6 702.6h0M1475.6 705.3h0M1475.6 708h0M1475.6 710.7h0M1475.6 713.4h0M1475.6 716.1h0M1475.6 718.8h0M1475.6 721.5h0M1475.6 724.2h0M1475.6 726.9h0M1475.6 729.6h0M1475.6 732.3h0M1475.6 735h0M1475.6 737.7h0M1475.6 740.4h0M1475.6 743.1h0M1475.6 745.8h0M1475.6 748.5h0M1475.6 751.2h0M1475.6 753.9h0M1475.6 756.6h0M1475.7 754.8h0M1475.7 752.1h0M1475.7 749.4h0M1475.7 746.7h0M1475.7 744h0M1475.7 741.3h0M1475.7 738.6h0M1475.7 735.9h0M1475.8 733.2h0M1475.8 730.5h0M1475.8 727.8h0M1475.8 725.1h0M1475.8 722.4h0M1475.8 719.7h0M1475.8 717h0M1475.8 714.3h0M1475.9 711.6h0M1475.9 708.9h0M1475.9 706.2h0M1475.9 703.5h0M1475.9 700.8h0M1475.9 698.1h0M1475.9 695.4h0M1475.9 692.7h0M1475.9 690h0M1476 687.3h0M1476 684.6h0M1476 681.9h0M1476 679.2h0M1476 676.5h0M1476 673.8h0M1476 671.1h0M1476 668.4h0M1476 665.7h0M1476.1 663h0M1476.1 660.3h0M1476.1 657.6h0M1476.1 654.9h0M1476.1 652.2h0M1476.1 649.5h0M1476.1 646.8h0M1476.1 644.1h0M1476.1 641.4h0M1475.8 633.4h0M1475.8 610.4h0M1475.8 585.5h0M1475.8 558.6h0M1475.8 529.4h0M1475.8 497.8h0M1475.8 463.6h0M1475.8 426.5h0M1475.8 386.4h0M1475.8 343h0M1475.8 295.9h0M1475.8 245h0M1476.3 206h0M1476.8 218h0M1476.8 271h0M1476.8 319.9h0M1476.8 365.1h0M1476.8 406.9h0M1476.8 445.4h0M1476.8 481h0M1476.8 513.9h0M1476.8 544.3h0M1476.8 572.3h0M1476.8 598.2h0M1476.8 622.1h0M1476.8 642.3h0M1476.8 645h0M1476.8 647.7h0M1476.8 650.4h0M1476.8 653.1h0M1476.8 655.8h0M1476.8 658.5h0M1476.8 661.2h0M1476.8 663.9h0M1476.8 666.6h0M1476.8 669.3h0M1476.9 672h0M1476.9 674.7h0M1476.9 677.4h0M1476.9 680.1h0M1476.9 682.8h0M1476.9 685.5h0M1476.9 688.2h0M1476.9 690.9h0M1476.9 693.6h0M1476.9 696.3h0M1476.9 699h0M1476.9 701.7h0M1476.9 704.4h0M1476.9 707.1h0M1476.9 709.8h0M1476.9 712.5h0M1476.9 715.2h0M1476.9 717.9h0M1476.9 720.6h0M1476.9 723.3h0M1476.9 726h0M1476.9 728.7h0M1477 731.4h0M1477 734.1h0M1477 736.8h0M1477 739.5h0M1477 742.2h0M1477 744.9h0M1477 747.6h0M1477 750.3h0M1477 753h0M1477 755.7h0M1477 765.1h0M1477 770.5h0M1477.1 775.8h0M1477.1 781h0M1477.2 786h0M1477.2 790.9h0M1477.2 795.7h0M1477.3 800.3h0M1477.4 804.8h0M1477.4 809.2h0M1477.5 813.4h0M1477.5 817.4h0M1477.6 821.3h0M1477.7 825h0M1477.7 828.5h0M1477.8 831.8h0M1477.9 834.9h0M1477.9 837.8h0M1478 840.5h0M1478.4 846h0M1478.4 843.1h0M1478.5 840.1h0M1478.5 837.1h0M1478.5 834.2h0M1478.5 831.2h0M1478.5 828.2h0M1478.6 825.3h0M1478.6 822.3h0M1478.6 819.3h0M1478.6 816.4h0M1478.6 813.4h0M1478.7 810.4h0M1478.7 807.5h0M1490.9 626.4h0M1490.9 630.3h0M1490.9 634.2h0M1490.9 638.1h0M1490.9 642h0M1490.9 645.9h0M1490.9 649.8h0M1490.9 653.7h0M1490.9 657.6h0M1490.9 661.5h0M1490.9 665.4h0M1490.9 669.3h0M1490.9 673.2h0M1490.9 677.1h0M1490.9 681h0M1490.9 684.9h0M1490.9 688.8h0M1490.9 692.7h0M1490.9 696.6h0M1490.9 700.5h0M1490.9 704.4h0M1490.9 708.3h0M1490.9 712.2h0M1490.9 716.1h0M1490.9 720h0M1490.9 723.9h0M1490.9 727.8h0M1490.9 731.7h0M1490.9 735.6h0M1490.9 739.5h0M1490.9 743.8h0M1491 740.8h0M1491 736.9h0M1491 733h0M1491 729.1h0M1491 725.2h0M1491 721.3h0M1491.1 717.4h0M1491.1 713.5h0M1491.1 709.6h0M1491.1 705.7h0M1491.1 701.8h0M1491.1 697.9h0M1491.2 694h0M1491.2 690.1h0M1491.2 686.2h0M1491.2 682.3h0M1491.2 678.4h0M1491.2 674.5h0M1491.3 670.6h0M1491.3 666.7h0M1491.3 662.8h0M1491.3 658.9h0M1491.3 655h0M1491.3 651.1h0M1491.3 647.2h0M1491.4 643.3h0M1491.4 639.4h0M1491.4 635.5h0M1491.4 631.6h0M1491.4 627.7h0M1491.4 623.8h0M1491.1 615.1h0M1491.1 591.1h0M1491.1 565.1h0M1491.1 536.9h0M1491.1 506.5h0M1491.1 473.5h0M1491.1 437.9h0M1491.1 399.3h0M1491.1 357.5h0M1491.1 312.3h0M1491.1 263.4h0M1491.1 210.5h0M1491.6 165h0M1492.1 182.4h0M1492.1 237.5h0M1492.1 288.4h0M1492.1 335.4h0M1492.1 378.8h0M1492.1 418.9h0M1492.1 456h0M1492.1 490.3h0M1492.1 522h0M1492.1 551.3h0M1492.1 578.3h0M1492.1 603.3h0M1492.1 625.1h0M1492.1 629h0M1492.1 632.9h0M1492.1 636.8h0M1492.1 640.7h0M1492.1 644.6h0M1492.1 648.5h0M1492.1 652.4h0M1492.2 656.3h0M1492.2 660.2h0M1492.2 664.1h0M1492.2 668h0M1492.2 671.9h0M1492.2 675.8h0M1492.2 679.7h0M1492.2 683.6h0M1492.2 687.5h0M1492.2 691.4h0M1492.2 695.3h0M1492.2 699.2h0M1492.2 703.1h0M1492.2 707h0M1492.2 710.9h0M1492.3 714.8h0M1492.3 718.7h0M1492.3 722.6h0M1492.3 726.5h0M1492.3 730.4h0M1492.3 734.3h0M1492.3 738.2h0M1492.3 749.6h0M1492.3 755.3h0M1492.3 760.9h0M1492.4 766.3h0M1492.4 771.6h0M1492.4 776.8h0M1492.5 781.8h0M1492.5 786.7h0M1492.5 791.5h0M1492.6 796h0M1492.6 800.4h0M1492.6 804.7h0M1492.7 808.8h0M1492.7 812.7h0M1492.8 816.4h0M1492.8 819.9h0M1492.9 823.2h0M1492.9 826.2h0M1492.9 829h0M1493.2 835h0M1493.2 832.1h0M1493.3 829.1h0M1493.3 826.1h0M1493.3 823.2h0M1493.3 820.2h0M1493.3 817.2h0M1493.4 814.3h0M1493.4 811.3h0M1493.4 808.3h0M1493.4 805.4h0M1493.4 802.4h0M1493.5 799.4h0M1493.5 796.5h0M1505.6 612.6h0M1505.6 617.7h0M1505.6 622.8h0M1505.6 627.9h0M1505.6 633h0M1505.6 638.1h0M1505.6 643.2h0M1505.6 648.3h0M1505.6 653.4h0M1505.6 658.5h0M1505.6 663.6h0M1505.6 668.7h0M1505.6 673.8h0M1505.6 678.9h0M1505.6 684h0M1505.6 689.1h0M1505.6 694.2h0M1505.6 699.3h0M1505.6 704.4h0M1505.6 709.5h0M1505.6 714.6h0M1505.6 719.7h0M1505.6 724.8h0M1505.7 726.5h0M1505.7 721.4h0M1505.7 716.3h0M1505.7 711.2h0M1505.8 706.1h0M1505.8 701h0M1505.8 695.9h0M1505.8 690.8h0M1505.8 685.7h0M1505.9 680.6h0M1505.9 675.5h0M1505.9 670.4h0M1505.9 665.3h0M1505.9 660.2h0M1506 655.1h0M1506 650h0M1506 644.9h0M1506 639.8h0M1506 634.7h0M1506.1 629.6h0M1506.1 624.5h0M1506.1 619.4h0M1506.1 614.3h0M1506.1 609.2h0M1505.8 599.8h0M1505.8 574.7h0M1505.8 547.7h0M1505.8 518.4h0M1505.8 486.8h0M1505.8 452.7h0M1505.8 415.8h0M1505.8 376h0M1505.8 332.9h0M1505.8 286.4h0M1505.8 236.2h0M1505.8 181.9h0M1506.3 120h0M1506.8 153.1h0M1506.8 209.6h0M1506.8 261.8h0M1506.8 310.1h0M1506.8 354.9h0M1506.8 396.3h0M1506.8 434.6h0M1506.8 470.1h0M1506.8 502.9h0M1506.8 533.3h0M1506.8 561.5h0M1506.8 587.5h0M1506.8 610.9h0M1506.8 616h0M1506.8 621.1h0M1506.8 626.2h0M1506.8 631.3h0M1506.8 636.4h0M1506.9 641.5h0M1506.9 646.6h0M1506.9 651.7h0M1506.9 656.8h0M1506.9 661.9h0M1506.9 667h0M1506.9 672.1h0M1506.9 677.2h0M1506.9 682.3h0M1506.9 687.4h0M1506.9 692.5h0M1506.9 697.6h0M1507 702.7h0M1507 707.8h0M1507 712.9h0M1507 718h0M1507 723.1h0M1507 728.2h0M1507 731h0M1507 737h0M1507 742.8h0M1507 748.5h0M1507.1 754.1h0M1507.1 759.5h0M1507.1 764.8h0M1507.1 769.9h0M1507.2 774.9h0M1507.2 779.8h0M1507.2 784.5h0M1507.3 789h0M1507.3 793.3h0M1507.3 797.5h0M1507.4 801.5h0M1507.4 805.3h0M1507.5 808.8h0M1507.5 812.2h0M1507.5 815.4h0M1507.6 818.2h0M1507.8 824.4h0M1507.8 821.5h0M1507.9 818.5h0M1507.9 815.5h0M1507.9 812.5h0M1507.9 809.6h0M1508 806.6h0M1508 803.6h0M1508 800.7h0M1508 797.7h0M1508.1 794.7h0M1508.1 791.8h0M1508.1 788.8h0M1508.1 785.8h0M1519.9 595.8h0M1519.9 602.1h0M1519.9 608.4h0M1519.9 614.7h0M1519.9 621h0M1519.9 627.3h0M1519.9 633.6h0M1519.9 639.9h0M1519.9 646.2h0M1519.9 652.5h0M1519.9 658.8h0M1519.9 665.1h0M1519.9 671.4h0M1519.9 677.7h0M1519.9 684h0M1519.9 690.3h0M1519.9 696.6h0M1519.9 702.9h0M1519.9 709.2h0M1519.9 715.2h0M1520 711.3h0M1520 705h0M1520 698.7h0M1520 692.4h0M1520.1 686.1h0M1520.1 679.8h0M1520.1 673.5h0M1520.1 667.2h0M1520.2 660.9h0M1520.2 654.6h0M1520.2 648.3h0M1520.2 642h0M1520.3 635.7h0M1520.3 629.4h0M1520.3 623.1h0M1520.3 616.8h0M1520.4 610.5h0M1520.4 604.2h0M1520.4 597.9h0M1520.4 591.6h0M1520.1 581.5h0M1520.1 555.4h0M1520.1 527.3h0M1520.1 496.9h0M1520.1 464.2h0M1520.1 428.9h0M1520.1 390.8h0M1520.1 349.6h0M1520.1 305.3h0M1520.1 257.4h0M1520.1 205.8h0M1520.1 150.1h0M1521.1 120.6h0M1521.1 178.5h0M1521.1 232.1h0M1521.1 281.8h0M1521.1 327.9h0M1521.1 370.6h0M1521.1 410.2h0M1521.1 446.9h0M1521.1 480.9h0M1521.1 512.4h0M1521.1 541.6h0M1521.1 568.7h0M1521.1 593.7h0M1521.1 600h0M1521.1 606.3h0M1521.1 612.6h0M1521.1 618.9h0M1521.2 625.2h0M1521.2 631.5h0M1521.2 637.8h0M1521.2 644.1h0M1521.2 650.4h0M1521.2 656.7h0M1521.2 663h0M1521.2 669.3h0M1521.2 675.6h0M1521.2 681.9h0M1521.3 688.2h0M1521.3 694.5h0M1521.3 700.8h0M1521.3 707.1h0M1521.3 718.2h0M1521.3 721.2h0M1521.3 724.2h0M1521.3 727.2h0M1521.3 730.2h0M1521.3 733.2h0M1521.4 736.2h0M1521.4 739.2h0M1521.4 742.2h0M1521.4 745.2h0M1521.4 748.2h0M1521.4 751.2h0M1521.4 754.2h0M1521.4 757.2h0M1521.5 760.2h0M1521.5 763.2h0M1521.5 766.2h0M1521.5 769.2h0M1521.5 772.2h0M1521.6 775.2h0M1521.6 778.2h0M1521.6 781.2h0M1521.6 784.2h0M1521.7 787.2h0M1521.7 790.2h0M1521.7 793.2h0M1521.7 796.2h0M1521.8 799.2h0M1521.8 802.2h0M1521.9 805.2h0M1521.9 808.2h0M1522 811.2h0M1522.1 813h0M1522.1 810.1h0M1522.2 807.1h0M1522.2 804.1h0M1522.2 801.1h0M1522.2 798.2h0M1522.2 795.2h0M1522.3 792.2h0M1522.3 789.3h0M1522.3 786.3h0M1522.3 783.3h0M1522.4 780.4h0M1522.4 777.4h0M1533.2 580h0M1533.2 587.5h0M1533.2 595h0M1533.2 602.5h0M1533.2 610h0M1533.2 617.5h0M1533.2 625h0M1533.2 632.5h0M1533.2 640h0M1533.2 647.5h0M1533.2 655h0M1533.2 662.5h0M1533.2 670h0M1533.2 677.5h0M1533.2 685h0M1533.2 692.5h0M1533.2 700.4h0M1533.3 695h0M1533.3 687.5h0M1533.3 680h0M1533.4 672.5h0M1533.4 665h0M1533.4 657.5h0M1533.4 650h0M1533.5 642.5h0M1533.5 635h0M1533.5 627.5h0M1533.6 620h0M1533.6 612.5h0M1533.6 605h0M1533.7 597.5h0M1533.7 590h0M1533.7 582.5h0M1533.7 575h0M1533.4 564.5h0M1533.4 538.5h0M1533.4 510.6h0M1533.4 480.6h0M1533.4 448.4h0M1533.4 413.8h0M1533.4 376.7h0M1533.4 336.8h0M1533.4 294h0M1533.4 248.1h0M1533.4 198.7h0M1533.4 145.7h0M1534.4 117.8h0M1534.4 172.7h0M1534.4 223.8h0M1534.4 271.5h0M1534.4 315.8h0M1534.4 357.1h0M1534.4 395.6h0M1534.4 431.4h0M1534.4 464.8h0M1534.4 495.8h0M1534.4 524.8h0M1534.4 551.7h0M1534.4 577.5h0M1534.4 585h0M1534.4 592.5h0M1534.4 600h0M1534.5 607.5h0M1534.5 615h0M1534.5 622.5h0M1534.5 630h0M1534.5 637.5h0M1534.5 645h0M1534.5 652.5h0M1534.5 660h0M1534.5 667.5h0M1534.6 675h0M1534.6 682.5h0M1534.6 690h0M1534.6 697.5h0M1534.6 700.4h0M1534.6 703.4h0M1534.6 706.4h0M1534.6 709.4h0M1534.6 712.4h0M1534.6 715.4h0M1534.6 718.4h0M1534.7 721.4h0M1534.7 724.4h0M1534.7 727.4h0M1534.7 730.4h0M1534.7 733.4h0M1534.7 736.4h0M1534.7 739.4h0M1534.7 742.4h0M1534.8 745.4h0M1534.8 748.4h0M1534.8 751.4h0M1534.8 754.4h0M1534.8 757.4h0M1534.9 760.4h0M1534.9 763.4h0M1534.9 766.4h0M1534.9 769.4h0M1534.9 772.4h0M1535 775.4h0M1535 778.4h0M1535 781.4h0M1535.1 784.4h0M1535.1 787.4h0M1535.1 790.4h0M1535.2 793.4h0M1535.2 796.4h0M1535.4 801.4h0M1535.4 798.5h0M1535.5 795.5h0M1535.5 792.5h0M1535.5 789.5h0M1535.5 786.6h0M1535.5 783.6h0M1535.6 780.6h0M1535.6 777.7h0M1535.6 774.7h0M1535.6 771.7h0M1535.6 768.7h0M1535.7 765.8h0M1546.3 561.2h0M1546.3 569.9h0M1546.3 578.6h0M1546.3 587.3h0M1546.3 596h0M1546.3 604.7h0M1546.3 613.4h0M1546.3 622.1h0M1546.3 630.8h0M1546.3 639.5h0M1546.3 648.2h0M1546.3 656.9h0M1546.3 665.6h0M1546.3 674.3h0M1546.3 682.6h0M1546.4 677.2h0M1546.4 668.5h0M1546.4 659.8h0M1546.5 651.1h0M1546.5 642.4h0M1546.5 633.7h0M1546.6 625h0M1546.6 616.3h0M1546.6 607.6h0M1546.7 598.9h0M1546.7 590.2h0M1546.7 581.5h0M1546.8 572.8h0M1546.8 564.1h0M1546.8 555.4h0M1546.5 544.5h0M1546.5 518.6h0M1546.5 490.8h0M1546.5 461.2h0M1546.5 429.6h0M1546.5 395.7h0M1546.5 359.6h0M1546.5 320.9h0M1546.5 279.6h0M1546.5 235.5h0M1546.5 188.3h0M1546.5 137.9h0M1547.5 111.4h0M1547.5 163.5h0M1547.5 212.3h0M1547.5 257.9h0M1547.5 300.6h0M1547.5 340.6h0M1547.5 377.9h0M1547.5 412.9h0M1547.5 445.7h0M1547.5 476.3h0M1547.5 504.9h0M1547.5 531.7h0M1547.5 558.3h0M1547.5 567h0M1547.5 575.7h0M1547.5 584.4h0M1547.6 593.1h0M1547.6 601.8h0M1547.6 610.5h0M1547.6 619.2h0M1547.6 627.9h0M1547.6 636.6h0M1547.6 645.3h0M1547.7 654h0M1547.7 662.7h0M1547.7 671.4h0M1547.7 680.1h0M1547.7 682.6h0M1547.7 685.6h0M1547.7 688.6h0M1547.7 691.6h0M1547.7 694.6h0M1547.7 697.6h0M1547.7 700.6h0M1547.7 703.6h0M1547.8 706.6h0M1547.8 709.6h0M1547.8 712.6h0M1547.8 715.6h0M1547.8 718.6h0M1547.8 721.6h0M1547.8 724.6h0M1547.8 727.6h0M1547.9 730.6h0M1547.9 733.6h0M1547.9 736.6h0M1547.9 739.6h0M1547.9 742.6h0M1547.9 745.6h0M1548 748.6h0M1548 751.6h0M1548 754.6h0M1548 757.6h0M1548.1 760.6h0M1548.1 767.1h0M1548.2 773.6h0M1548.3 780.1h0M1548.3 786.6h0M1548.5 792.4h0M1548.5 789.4h0M1548.5 786.5h0M1548.6 783.5h0M1548.6 780.5h0M1548.6 777.5h0M1548.6 774.6h0M1548.6 771.6h0M1548.6 768.6h0M1548.7 765.6h0M1548.7 762.7h0M1548.7 759.7h0M1548.7 756.7h0M1548.7 753.8h0M1558.9 541.4h0M1558.9 551.3h0M1558.9 561.2h0M1558.9 571.1h0M1558.9 581h0M1558.9 590.9h0M1558.9 600.8h0M1558.9 610.7h0M1558.9 620.6h0M1558.9 630.5h0M1558.9 640.4h0M1558.9 650.3h0M1558.9 660.2h0M1558.9 663.8h0M1559 653.6h0M1559 643.7h0M1559.1 633.8h0M1559.1 623.9h0M1559.1 614h0M1559.2 604.1h0M1559.2 594.2h0M1559.2 584.3h0M1559.3 574.4h0M1559.3 564.5h0M1559.4 554.6h0M1559.4 544.7h0M1559.4 534.8h0M1559.1 523.5h0M1559.1 497.6h0M1559.1 470.1h0M1559.1 440.8h0M1559.1 409.5h0M1559.1 376.3h0M1559.1 341h0M1559.1 303.3h0M1559.1 263.3h0M1559.1 220.6h0M1559.1 175.3h0M1559.1 127h0M1560.1 151.5h0M1560.1 198.3h0M1560.1 242.3h0M1560.1 283.6h0M1560.1 322.5h0M1560.1 358.9h0M1560.1 393.2h0M1560.1 425.4h0M1560.1 455.6h0M1560.1 484.1h0M1560.1 510.8h0M1560.1 538.1h0M1560.1 548h0M1560.1 557.9h0M1560.2 567.8h0M1560.2 577.7h0M1560.2 587.6h0M1560.2 597.5h0M1560.2 607.4h0M1560.2 617.3h0M1560.2 627.2h0M1560.3 637.1h0M1560.3 647h0M1560.3 656.9h0M1560.3 663.8h0M1560.3 666.8h0M1560.3 669.8h0M1560.3 672.8h0M1560.3 675.8h0M1560.3 678.8h0M1560.3 681.8h0M1560.3 684.8h0M1560.4 687.8h0M1560.4 690.8h0M1560.4 693.8h0M1560.4 696.8h0M1560.4 699.8h0M1560.4 702.8h0M1560.4 705.8h0M1560.5 708.8h0M1560.5 711.8h0M1560.5 714.8h0M1560.5 717.8h0M1560.5 720.8h0M1560.5 723.8h0M1560.6 730.3h0M1560.6 736.8h0M1560.7 743.3h0M1560.7 749.8h0M1560.8 756.3h0M1560.9 762.8h0M1561 769.3h0M1561.1 775.8h0M1561.2 779h0M1561.2 776h0M1561.2 773h0M1561.2 770.1h0M1561.3 767.1h0M1561.3 764.1h0M1561.3 761.2h0M1561.3 758.2h0M1561.3 755.2h0M1561.4 752.2h0M1561.4 749.3h0M1561.4 746.3h0M1561.4 743.3h0M1561.4 740.3h0M1561.5 737.4h0M1561.5 734.4h0M1561.5 731.4h0M1561.5 728.5h0M1561.5 725.5h0M1561.6 722.5h0M1561.6 719.6h0M1571.7 519.6h0M1571.7 530.7h0M1571.7 541.8h0M1571.7 552.9h0M1571.7 564h0M1571.7 575.1h0M1571.7 586.2h0M1571.7 597.3h0M1571.7 608.4h0M1571.7 619.5h0M1571.7 630.6h0M1571.8 634.3h0M1571.8 623.2h0M1571.9 612.1h0M1571.9 601h0M1571.9 589.9h0M1572 578.8h0M1572 567.7h0M1572.1 556.6h0M1572.1 545.5h0M1572.2 534.4h0M1572.2 523.3h0M1572.2 512.2h0M1571.9 500.5h0M1571.9 474.7h0M1571.9 447.3h0M1571.9 418.3h0M1571.9 387.6h0M1571.9 355h0M1571.9 320.5h0M1571.9 283.9h0M1571.9 245.1h0M1571.9 204h0M1571.9 160.4h0M1571.9 114.2h0M1572.9 137.7h0M1572.9 182.5h0M1572.9 224.8h0M1572.9 264.8h0M1572.9 302.4h0M1572.9 338h0M1572.9 371.5h0M1572.9 403.2h0M1572.9 433h0M1572.9 461.2h0M1572.9 487.8h0M1572.9 515.9h0M1572.9 527h0M1572.9 538.1h0M1573 549.2h0M1573 560.3h0M1573 571.4h0M1573 582.5h0M1573 593.6h0M1573 604.7h0M1573.1 615.8h0M1573.1 626.9h0M1573.1 638h0M1573.1 643h0M1573.1 646h0M1573.1 649h0M1573.1 652h0M1573.1 655h0M1573.1 658h0M1573.1 661h0M1573.1 664h0M1573.1 667h0M1573.2 670h0M1573.2 673h0M1573.2 676h0M1573.2 679h0M1573.2 682h0M1573.2 685h0M1573.2 688h0M1573.2 691h0M1573.2 697.5h0M1573.3 704h0M1573.3 710.5h0M1573.3 717h0M1573.4 723.5h0M1573.4 730h0M1573.5 736.5h0M1573.5 743h0M1573.6 749.5h0M1573.6 756h0M1573.7 762.5h0M1573.8 765h0M1573.8 761h0M1573.8 757.1h0M1573.9 753.1h0M1573.9 749.2h0M1573.9 745.2h0M1573.9 741.3h0M1574 737.3h0M1574 733.4h0M1574 729.4h0M1574 725.5h0M1574 721.5h0M1574.1 717.6h0M1574.1 713.6h0M1574.1 709.7h0M1574.2 705.7h0M1574.2 701.8h0M1574.2 697.8h0M1574.2 693.9h0M1574.3 689.9h0M1574.3 686h0M1574.3 682.3h0M1584 497.5h0M1584 509.5h0M1584 521.5h0M1584 533.5h0M1584 545.5h0M1584 557.5h0M1584 569.5h0M1584 581.5h0M1584 593.5h0M1584 605.5h0M1584 617.5h0M1584.1 609.5h0M1584.1 597.5h0M1584.2 585.5h0M1584.2 573.5h0M1584.3 561.5h0M1584.3 549.5h0M1584.4 537.5h0M1584.4 525.5h0M1584.4 513.5h0M1584.5 501.5h0M1584.5 489.5h0M1584.2 477.5h0M1584.2 451.7h0M1584.2 424.5h0M1584.2 395.8h0M1584.2 365.5h0M1584.2 333.4h0M1584.2 299.6h0M1584.2 263.9h0M1584.2 226.2h0M1584.2 186.4h0M1584.2 144.3h0M1585.2 122.4h0M1585.2 165.6h0M1585.2 206.6h0M1585.2 245.3h0M1585.2 282h0M1585.2 316.8h0M1585.2 349.7h0M1585.2 380.8h0M1585.2 410.4h0M1585.2 438.3h0M1585.2 464.8h0M1585.2 493.5h0M1585.2 505.5h0M1585.2 517.5h0M1585.3 529.5h0M1585.3 541.5h0M1585.3 553.5h0M1585.3 565.5h0M1585.3 577.5h0M1585.4 589.5h0M1585.4 601.5h0M1585.4 613.5h0M1585.4 622.2h0M1585.4 625.2h0M1585.4 628.2h0M1585.4 631.2h0M1585.4 634.2h0M1585.4 637.2h0M1585.4 640.2h0M1585.4 643.2h0M1585.4 646.2h0M1585.4 649.2h0M1585.4 652.2h0M1585.5 655.2h0M1585.5 661.7h0M1585.5 668.2h0M1585.5 674.7h0M1585.5 681.2h0M1585.5 687.7h0M1585.6 694.2h0M1585.6 700.7h0M1585.6 707.2h0M1585.7 713.7h0M1585.7 720.2h0M1585.7 726.7h0M1585.8 733.2h0M1585.8 739.7h0M1585.9 746.2h0M1586 753h0M1586 748.1h0M1586 743.1h0M1586.1 738.2h0M1586.1 733.3h0M1586.1 728.3h0M1586.1 723.4h0M1586.2 718.5h0M1586.2 713.5h0M1586.2 708.6h0M1586.2 703.7h0M1586.3 698.8h0M1586.3 693.8h0M1586.3 688.9h0M1586.3 684h0M1586.4 679.1h0M1586.4 674.2h0M1586.4 669.3h0M1586.5 664.3h0M1586.5 659.4h0M1586.6 654.5h0M1586.6 649.6h0M1586.6 646h0M1594.8 470.5h0M1594.8 482.5h0M1594.8 494.5h0M1594.8 506.5h0M1594.8 518.5h0M1594.8 530.5h0M1594.8 542.5h0M1594.8 554.5h0M1594.8 566.5h0M1594.8 578.5h0M1594.8 590.5h0M1594.8 597.4h0M1594.9 594.5h0M1594.9 582.5h0M1594.9 570.5h0M1595 558.5h0M1595 546.5h0M1595.1 534.5h0M1595.1 522.5h0M1595.2 510.5h0M1595.2 498.5h0M1595.2 486.5h0M1595.3 474.5h0M1595.3 462.5h0M1595 450.5h0M1595 424.8h0M1595 397.7h0M1595 369.3h0M1595 339.3h0M1595 307.8h0M1595 274.7h0M1595 239.8h0M1595 203.1h0M1595 164.6h0M1595 123.9h0M1596 144.5h0M1596 184.1h0M1596 221.7h0M1596 257.5h0M1596 291.5h0M1596 323.8h0M1596 354.5h0M1596 383.7h0M1596 411.4h0M1596 437.8h0M1596 466.5h0M1596 478.5h0M1596 490.5h0M1596.1 502.5h0M1596.1 514.5h0M1596.1 526.5h0M1596.1 538.5h0M1596.1 550.5h0M1596.1 562.5h0M1596.2 574.5h0M1596.2 586.5h0M1596.2 597.4h0M1596.2 600.4h0M1596.2 603.4h0M1596.2 606.4h0M1596.2 609.4h0M1596.2 612.4h0M1596.2 615.4h0M1596.2 618.4h0M1596.3 621.4h0M1596.3 624.4h0M1596.3 627.4h0M1596.3 633.9h0M1596.3 640.4h0M1596.4 646.9h0M1596.4 653.4h0M1596.4 659.9h0M1596.5 666.4h0M1596.5 672.9h0M1596.6 679.4h0M1596.6 685.9h0M1596.7 692.4h0M1596.7 698.9h0M1596.8 705.4h0M1596.9 711.9h0M1596.9 718.4h0M1597 724.9h0M1597.2 731.4h0M1597.3 734.7h0M1597.3 728.8h0M1597.3 722.9h0M1597.4 717h0M1597.4 711.1h0M1597.4 705.2h0M1597.5 699.3h0M1597.5 693.4h0M1597.5 687.5h0M1597.5 681.6h0M1597.6 675.7h0M1597.6 669.8h0M1597.6 663.9h0M1597.7 658h0M1597.7 652.1h0M1597.8 646.2h0M1597.8 640.4h0M1597.8 634.5h0M1597.9 628.6h0M1597.9 622.7h0M1598 616.9h0M1598 613.1h0M1606.1 442.5h0M1606.1 454.5h0M1606.1 466.5h0M1606.1 478.5h0M1606.1 490.5h0M1606.1 502.5h0M1606.1 514.5h0M1606.1 526.5h0M1606.1 538.5h0M1606.1 550.5h0M1606.1 562.5h0M1606.1 571.6h0M1606.2 566.5h0M1606.2 554.5h0M1606.3 542.5h0M1606.3 530.5h0M1606.3 518.5h0M1606.4 506.5h0M1606.4 494.5h0M1606.5 482.5h0M1606.5 470.5h0M1606.5 458.5h0M1606.6 446.5h0M1606.6 434.5h0M1606.3 422.5h0M1606.3 396.8h0M1606.3 369.9h0M1606.3 341.7h0M1606.3 312.1h0M1606.3 281h0M1606.3 248.5h0M1606.3 214.3h0M1606.3 178.5h0M1606.3 140.9h0M1607.3 121.4h0M1607.3 159.9h0M1607.3 196.6h0M1607.3 231.6h0M1607.3 264.9h0M1607.3 296.7h0M1607.3 327.1h0M1607.3 356h0M1607.3 383.5h0M1607.3 409.8h0M1607.3 438.5h0M1607.3 450.5h0M1607.3 462.5h0M1607.4 474.5h0M1607.4 486.5h0M1607.4 498.5h0M1607.4 510.5h0M1607.4 522.5h0M1607.4 534.5h0M1607.5 546.5h0M1607.5 558.5h0M1607.5 574.6h0M1607.5 577.6h0M1607.5 580.6h0M1607.5 583.6h0M1607.5 586.6h0M1607.5 589.6h0M1607.5 592.6h0M1607.5 595.6h0M1607.6 602.1h0M1607.6 608.6h0M1607.6 615.1h0M1607.6 621.6h0M1607.6 628.1h0M1607.7 634.6h0M1607.7 641.1h0M1607.7 647.6h0M1607.7 654.1h0M1607.8 660.6h0M1607.8 667.1h0M1607.8 673.6h0M1607.9 680.1h0M1607.9 686.6h0M1608 693.1h0M1608 699.6h0M1608.1 706.1h0M1608.2 712.6h0M1608.3 717h0M1608.3 710.1h0M1608.4 703.2h0M1608.4 696.4h0M1608.4 689.5h0M1608.4 682.6h0M1608.5 675.7h0M1608.5 668.9h0M1608.5 662h0M1608.6 655.2h0M1608.6 648.3h0M1608.6 641.4h0M1608.7 634.6h0M1608.7 627.7h0M1608.8 620.9h0M1608.8 614.1h0M1608.9 607.2h0M1608.9 600.4h0M1609 593.6h0M1609 586.7h0M1609.1 582.4h0M1609.1 579.4h0M1616.8 412.5h0M1616.8 424.5h0M1616.8 436.5h0M1616.8 448.5h0M1616.8 460.5h0M1616.8 472.5h0M1616.8 484.5h0M1616.8 496.5h0M1616.8 508.5h0M1616.8 520.5h0M1616.8 532.5h0M1616.8 543.8h0M1616.9 536.5h0M1616.9 524.5h0M1617 512.5h0M1617 500.5h0M1617 488.5h0M1617.1 476.5h0M1617.1 464.5h0M1617.2 452.5h0M1617.2 440.5h0M1617.3 428.5h0M1617.3 416.5h0M1617.3 404.5h0M1617 392.5h0M1617 366.9h0M1617 340.1h0M1617 312h0M1617 282.7h0M1617 252h0M1617 219.9h0M1617 186.4h0M1617 151.3h0M1617 114.5h0M1618 133.1h0M1618 169h0M1618 203.3h0M1618 236.2h0M1618 267.5h0M1618 297.5h0M1618 326.2h0M1618 353.6h0M1618 379.8h0M1618 408.5h0M1618 420.5h0M1618 432.5h0M1618.1 444.5h0M1618.1 456.5h0M1618.1 468.5h0M1618.1 480.5h0M1618.1 492.5h0M1618.1 504.5h0M1618.2 516.5h0M1618.2 528.5h0M1618.2 540.5h0M1618.2 543.8h0M1618.2 546.8h0M1618.2 549.8h0M1618.2 552.8h0M1618.2 555.8h0M1618.2 558.8h0M1618.2 561.8h0M1618.2 564.8h0M1618.2 567.8h0M1618.3 574.3h0M1618.3 580.8h0M1618.3 587.3h0M1618.3 593.8h0M1618.4 600.3h0M1618.4 606.8h0M1618.4 613.3h0M1618.4 619.8h0M1618.5 626.3h0M1618.5 632.8h0M1618.5 639.3h0M1618.6 645.8h0M1618.6 652.3h0M1618.7 658.8h0M1618.7 665.3h0M1618.8 671.8h0M1618.8 678.3h0M1618.9 684.8h0M1619 691.3h0M1619.2 693.1h0M1619.2 686.2h0M1619.3 679.3h0M1619.3 672.5h0M1619.3 665.6h0M1619.4 658.7h0M1619.4 651.8h0M1619.4 645h0M1619.4 638.1h0M1619.5 631.2h0M1619.5 624.4h0M1619.5 617.5h0M1619.6 610.6h0M1619.6 603.8h0M1619.7 596.9h0M1619.7 590.1h0M1619.8 583.2h0M1619.8 576.4h0M1619.8 569.6h0M1619.9 562.7h0M1619.9 555.9h0M1620 551.9h0M1627.4 377.5h0M1627.4 389.5h0M1627.4 401.5h0M1627.4 413.5h0M1627.4 425.5h0M1627.4 437.5h0M1627.4 449.5h0M1627.4 461.5h0M1627.4 473.5h0M1627.4 485.5h0M1627.4 497.5h0M1627.5 501.5h0M1627.5 489.5h0M1627.6 477.5h0M1627.6 465.5h0M1627.6 453.5h0M1627.7 441.5h0M1627.7 429.5h0M1627.8 417.5h0M1627.8 405.5h0M1627.9 393.5h0M1627.9 381.5h0M1627.9 369.5h0M1627.6 357.5h0M1627.6 331.9h0M1627.6 305.2h0M1627.6 277.3h0M1627.6 248.2h0M1627.6 217.8h0M1627.6 186.1h0M1627.6 153h0M1627.6 118.5h0M1628.6 135.9h0M1628.6 169.7h0M1628.6 202.1h0M1628.6 233.2h0M1628.6 262.9h0M1628.6 291.4h0M1628.6 318.7h0M1628.6 344.8h0M1628.6 373.5h0M1628.6 385.5h0M1628.6 397.5h0M1628.7 409.5h0M1628.7 421.5h0M1628.7 433.5h0M1628.7 445.5h0M1628.7 457.5h0M1628.7 469.5h0M1628.8 481.5h0M1628.8 493.5h0M1628.8 505.5h0M1628.8 511h0M1628.8 514h0M1628.8 517h0M1628.8 520h0M1628.8 523h0M1628.8 526h0M1628.8 529h0M1628.8 532h0M1628.8 535h0M1628.9 538h0M1628.9 544.5h0M1628.9 551h0M1628.9 557.5h0M1628.9 564h0M1629 570.5h0M1629 577h0M1629 583.5h0M1629.1 590h0M1629.1 596.5h0M1629.1 603h0M1629.2 609.5h0M1629.2 616h0M1629.3 622.5h0M1629.3 629h0M1629.4 635.5h0M1629.4 642h0M1629.5 648.5h0M1629.6 655h0M1629.6 661.5h0M1629.7 668h0M1629.8 674.5h0M1630 680h0M1630 673.1h0M1630 666.2h0M1630.1 659.3h0M1630.1 652.4h0M1630.1 645.5h0M1630.1 638.7h0M1630.2 631.8h0M1630.2 624.9h0M1630.2 618h0M1630.2 611.1h0M1630.3 604.3h0M1630.3 597.4h0M1630.3 590.5h0M1630.4 583.7h0M1630.4 576.8h0M1630.4 569.9h0M1630.5 563.1h0M1630.5 556.2h0M1630.5 549.4h0M1630.6 542.5h0M1630.6 535.7h0M1630.7 528.9h0M1630.7 523.9h0M1630.7 520.6h0M1637.4 337.5h0M1637.4 349.5h0M1637.4 361.5h0M1637.4 373.5h0M1637.4 385.5h0M1637.4 397.5h0M1637.4 409.5h0M1637.4 421.5h0M1637.4 433.5h0M1637.4 445.5h0M1637.4 457.5h0M1637.4 469.5h0M1637.4 473.2h0M1637.5 461.5h0M1637.5 449.5h0M1637.6 437.5h0M1637.6 425.5h0M1637.7 413.5h0M1637.7 401.5h0M1637.7 389.5h0M1637.8 377.5h0M1637.8 365.5h0M1637.9 353.5h0M1637.9 341.5h0M1637.9 329.5h0M1637.6 317.5h0M1637.6 291.9h0M1637.6 265.3h0M1637.6 237.6h0M1637.6 208.7h0M1637.6 178.6h0M1637.6 147.3h0M1637.6 114.7h0M1638.6 131.2h0M1638.6 163.1h0M1638.6 193.8h0M1638.6 223.3h0M1638.6 251.6h0M1638.6 278.8h0M1638.6 304.8h0M1638.6 333.5h0M1638.6 345.5h0M1638.6 357.5h0M1638.7 369.5h0M1638.7 381.5h0M1638.7 393.5h0M1638.7 405.5h0M1638.7 417.5h0M1638.7 429.5h0M1638.8 441.5h0M1638.8 453.5h0M1638.8 465.5h0M1638.8 473.2h0M1638.8 476.2h0M1638.8 479.2h0M1638.8 482.2h0M1638.8 485.2h0M1638.8 488.2h0M1638.8 491.2h0M1638.8 494.2h0M1638.8 497.2h0M1638.8 500.2h0M1638.9 503.2h0M1638.9 506.2h0M1638.9 509.2h0M1638.9 515.7h0M1638.9 522.2h0M1638.9 528.7h0M1639 535.2h0M1639 541.7h0M1639 548.2h0M1639.1 554.7h0M1639.1 561.2h0M1639.1 567.7h0M1639.2 574.2h0M1639.2 580.7h0M1639.2 587.2h0M1639.3 593.7h0M1639.3 600.2h0M1639.4 606.7h0M1639.4 613.2h0M1639.5 619.7h0M1639.5 626.2h0M1639.6 632.7h0M1639.7 639.2h0M1639.8 645.7h0M1639.9 652.2h0M1640 654.7h0M1640 647.8h0M1640 640.9h0M1640.1 634h0M1640.1 627.1h0M1640.1 620.2h0M1640.1 613.3h0M1640.2 606.4h0M1640.2 599.5h0M1640.2 592.7h0M1640.2 585.8h0M1640.3 578.9h0M1640.3 572h0M1640.3 565.1h0M1640.4 558.3h0M1640.4 551.4h0M1640.4 544.5h0M1640.5 537.7h0M1640.5 530.8h0M1640.5 523.9h0M1640.6 517.1h0M1640.6 510.2h0M1640.7 503.4h0M1640.7 497.6h0M1640.7 494h0M1647.9 292.5h0M1647.9 304.5h0M1647.9 316.5h0M1647.9 328.5h0M1647.9 340.5h0M1647.9 352.5h0M1647.9 364.5h0M1647.9 376.5h0M1647.9 388.5h0M1647.9 400.5h0M1647.9 412.5h0M1647.9 424.5h0M1648 416.5h0M1648 404.5h0M1648.1 392.5h0M1648.1 380.5h0M1648.2 368.5h0M1648.2 356.5h0M1648.2 344.5h0M1648.3 332.5h0M1648.3 320.5h0M1648.4 308.5h0M1648.4 296.5h0M1648.4 284.5h0M1648.1 272.5h0M1648.1 247h0M1648.1 220.4h0M1648.1 192.8h0M1648.1 164.2h0M1648.1 134.4h0M1649.1 119.1h0M1649.1 149.4h0M1649.1 178.7h0M1649.1 206.8h0M1649.1 233.8h0M1649.1 259.9h0M1649.1 288.5h0M1649.1 300.5h0M1649.1 312.5h0M1649.2 324.5h0M1649.2 336.5h0M1649.2 348.5h0M1649.2 360.5h0M1649.2 372.5h0M1649.2 384.5h0M1649.3 396.5h0M1649.3 408.5h0M1649.3 420.5h0M1649.3 430.4h0M1649.3 433.4h0M1649.3 436.4h0M1649.3 439.4h0M1649.3 442.4h0M1649.3 445.4h0M1649.3 448.4h0M1649.3 451.4h0M1649.3 454.4h0M1649.3 457.4h0M1649.3 460.4h0M1649.3 463.4h0M1649.3 466.4h0M1649.4 469.4h0M1649.4 472.4h0M1649.4 475.4h0M1649.4 478.4h0M1649.4 481.4h0M1649.4 487.9h0M1649.4 494.4h0M1649.4 500.9h0M1649.5 507.4h0M1649.5 513.9h0M1649.5 520.4h0M1649.5 526.9h0M1649.5 533.4h0M1649.6 539.9h0M1649.6 546.4h0M1649.6 552.9h0M1649.6 559.4h0M1649.7 565.9h0M1649.7 572.4h0M1649.7 578.9h0M1649.8 585.4h0M1649.8 591.9h0M1649.9 598.4h0M1649.9 604.9h0M1650 611.4h0M1650 617.9h0M1650.1 624.4h0M1650.2 629h0M1650.2 622.1h0M1650.2 615.2h0M1650.3 608.3h0M1650.3 601.4h0M1650.3 594.5h0M1650.3 587.6h0M1650.3 580.7h0M1650.4 573.8h0M1650.4 566.9h0M1650.4 560h0M1650.4 553.1h0M1650.5 546.2h0M1650.5 539.3h0M1650.5 532.5h0M1650.6 525.6h0M1650.6 518.7h0M1650.6 511.8h0M1650.6 504.9h0M1650.7 498.1h0M1650.7 491.2h0M1650.8 484.3h0M1650.8 477.5h0M1650.8 470.6h0M1650.9 466.7h0M1658 241.5h0M1658 253.5h0M1658 265.5h0M1658 277.5h0M1658 289.5h0M1658 301.5h0M1658 313.5h0M1658 325.5h0M1658 337.5h0M1658 349.5h0M1658 361.5h0M1658 373.5h0M1658 381.6h0M1658.1 377.5h0M1658.1 365.5h0M1658.1 353.5h0M1658.2 341.5h0M1658.2 329.5h0M1658.3 317.5h0M1658.3 305.5h0M1658.3 293.5h0M1658.4 281.5h0M1658.4 269.5h0M1658.5 257.5h0M1658.5 245.5h0M1658.5 233.5h0M1658.2 221.5h0M1658.2 196h0M1658.2 169.5h0M1658.2 142.1h0M1658.2 113.6h0M1659.2 128h0M1659.2 155.9h0M1659.2 182.9h0M1659.2 208.9h0M1659.2 237.5h0M1659.2 249.5h0M1659.2 261.5h0M1659.3 273.5h0M1659.3 285.5h0M1659.3 297.5h0M1659.3 309.5h0M1659.3 321.5h0M1659.3 333.5h0M1659.4 345.5h0M1659.4 357.5h0M1659.4 369.5h0M1659.4 381.6h0M1659.4 384.6h0M1659.4 387.6h0M1659.4 390.6h0M1659.4 393.6h0M1659.4 396.6h0M1659.4 399.6h0M1659.4 402.6h0M1659.4 405.6h0M1659.4 408.6h0M1659.4 411.6h0M1659.4 414.6h0M1659.4 417.6h0M1659.4 420.6h0M1659.4 423.6h0M1659.5 426.6h0M1659.5 429.6h0M1659.5 432.6h0M1659.5 435.6h0M1659.5 438.6h0M1659.5 441.6h0M1659.5 444.6h0M1659.5 447.6h0M1659.5 450.6h0M1659.5 453.6h0M1659.5 460.1h0M1659.5 466.6h0M1659.5 473.1h0M1659.6 479.6h0M1659.6 486.1h0M1659.6 492.6h0M1659.6 499.1h0M1659.6 505.6h0M1659.7 512.1h0M1659.7 518.6h0M1659.7 525.1h0M1659.7 531.6h0M1659.8 538.1h0M1659.8 544.6h0M1659.8 551.1h0M1659.8 557.6h0M1659.9 564.1h0M1659.9 570.6h0M1659.9 577.1h0M1660 583.6h0M1660 590.1h0M1660.1 596.6h0M1660.2 602.7h0M1660.2 595.8h0M1660.2 588.9h0M1660.2 582h0M1660.3 575h0M1660.3 568.1h0M1660.3 561.2h0M1660.3 554.3h0M1660.3 547.4h0M1660.4 540.5h0M1660.4 533.6h0M1660.4 526.7h0M1660.4 519.8h0M1660.4 512.9h0M1660.5 506h0M1660.5 499.1h0M1660.5 492.2h0M1660.5 485.3h0M1660.6 478.4h0M1660.6 471.5h0M1660.6 464.7h0M1660.7 457.8h0M1660.7 450.9h0M1660.7 444h0M1660.7 439.8h0M1660.7 436.9h0M1667.5 172.5h0M1667.5 184.5h0M1667.5 196.5h0M1667.5 208.5h0M1667.5 220.5h0M1667.5 232.5h0M1667.5 244.5h0M1667.5 256.5h0M1667.5 268.5h0M1667.5 280.5h0M1667.5 292.5h0M1667.5 304.5h0M1667.5 314.8h0M1667.6 308.5h0M1667.6 296.5h0M1667.6 284.5h0M1667.7 272.5h0M1667.7 260.5h0M1667.8 248.5h0M1667.8 236.5h0M1667.8 224.5h0M1667.9 212.5h0M1667.9 200.5h0M1668 188.5h0M1668 176.5h0M1668 164.5h0M1667.7 152.5h0M1667.7 127h0M1668.7 113.9h0M1668.7 139.9h0M1668.7 168.5h0M1668.7 180.5h0M1668.7 192.5h0M1668.8 204.5h0M1668.8 216.5h0M1668.8 228.5h0M1668.8 240.5h0M1668.8 252.5h0M1668.8 264.5h0M1668.9 276.5h0M1668.9 288.5h0M1668.9 300.5h0M1668.9 312.5h0M1668.9 314.8h0M1668.9 317.8h0M1668.9 320.8h0M1668.9 323.8h0M1668.9 326.8h0M1668.9 329.8h0M1668.9 332.8h0M1668.9 335.8h0M1668.9 338.8h0M1668.9 341.8h0M1668.9 344.8h0M1668.9 347.8h0M1668.9 350.8h0M1668.9 353.8h0M1668.9 356.8h0M1668.9 359.8h0M1668.9 362.8h0M1668.9 365.8h0M1668.9 368.8h0M1669 371.8h0M1669 374.8h0M1669 377.8h0M1669 380.8h0M1669 383.8h0M1669 386.8h0M1669 389.8h0M1669 392.8h0M1669 395.8h0M1669 398.8h0M1669 401.8h0M1669 404.8h0M1669 407.8h0M1669 410.8h0M1669 413.8h0M1669 416.8h0M1669 419.8h0M1669 422.8h0M1669 425.8h0M1669.1 428.8h0M1669.1 435.3h0M1669.1 441.8h0M1669.1 448.3h0M1669.1 454.8h0M1669.1 461.3h0M1669.1 467.8h0M1669.2 474.3h0M1669.2 480.8h0M1669.2 487.3h0M1669.2 493.8h0M1669.2 500.3h0M1669.3 506.8h0M1669.3 513.3h0M1669.3 519.8h0M1669.3 526.3h0M1669.4 532.8h0M1669.4 539.3h0M1669.4 545.8h0M1669.5 552.3h0M1669.5 558.8h0M1669.6 565h0M1669.6 558.1h0M1669.6 551.2h0M1669.7 544.2h0M1669.7 537.3h0M1669.7 530.4h0M1669.7 523.5h0M1669.7 516.6h0M1669.7 509.6h0M1669.8 502.7h0M1669.8 495.8h0M1669.8 488.9h0M1669.8 482h0M1669.9 475.1h0M1669.9 468.2h0M1669.9 461.3h0M1669.9 454.4h0M1670 447.5h0M1670 440.6h0M1670 433.7h0M1670 426.8h0M1670.1 419.9h0M1670.1 415.1h0M1670.1 411.8h0M1678.1 104.5h0M1678.1 116.5h0M1678.1 128.5h0M1678.1 140.5h0M1678.1 152.5h0M1678.1 164.5h0M1678.1 176.5h0M1678.1 188.5h0M1678.1 200.5h0M1678.1 212.5h0M1678.1 224.5h0M1678.1 237h0M1678.2 228.5h0M1678.2 216.5h0M1678.3 204.5h0M1678.3 192.5h0M1678.3 180.5h0M1678.4 168.5h0M1678.4 156.5h0M1678.4 144.5h0M1678.5 132.5h0M1678.5 120.5h0M1678.6 108.5h0M1679.3 112.5h0M1679.4 124.5h0M1679.4 136.5h0M1679.4 148.5h0M1679.4 160.5h0M1679.4 172.5h0M1679.4 184.5h0M1679.4 196.5h0M1679.5 208.5h0M1679.5 220.5h0M1679.5 232.5h0M1679.5 237h0M1679.5 240h0M1679.5 243h0M1679.5 246h0M1679.5 249h0M1679.5 252h0M1679.5 255h0M1679.5 258h0M1679.5 261h0M1679.5 264h0M1679.5 267h0M1679.5 270h0M1679.5 273h0M1679.5 276h0M1679.5 279h0M1679.5 282h0M1679.5 285h0M1679.5 288h0M1679.5 291h0M1679.5 294h0M1679.5 297h0M1679.5 300h0M1679.5 303h0M1679.5 306h0M1679.5 309h0M1679.5 312h0M1679.5 315h0M1679.5 318h0M1679.5 321h0M1679.5 324h0M1679.5 327h0M1679.5 330h0M1679.5 333h0M1679.5 336h0M1679.5 339h0M1679.5 342h0M1679.5 345h0M1679.5 348h0M1679.6 351h0M1679.6 354h0M1679.6 357h0M1679.6 360h0M1679.6 363h0M1679.6 366h0M1679.6 369h0M1679.6 372h0M1679.6 375h0M1679.6 378h0M1679.6 381h0M1679.6 384h0M1679.6 387h0M1679.6 390h0M1679.6 393h0M1679.6 396h0M1679.6 399h0M1679.6 405.5h0M1679.6 412h0M1679.6 418.5h0M1679.6 425h0M1679.6 431.5h0M1679.6 438h0M1679.6 444.5h0M1679.6 451h0M1679.7 457.5h0M1679.7 464h0M1679.7 470.5h0M1679.7 477h0M1679.7 483.5h0M1679.7 490h0M1679.7 496.5h0M1679.7 503h0M1679.7 509.5h0M1679.8 516h0M1679.8 522.5h0M1679.8 525h0M1679.8 518.1h0M1679.8 511.1h0M1679.8 504.2h0M1679.9 497.3h0M1679.9 490.3h0M1679.9 483.4h0M1679.9 476.5h0M1679.9 469.6h0M1679.9 462.6h0M1679.9 455.7h0M1680 448.8h0M1680 441.9h0M1680 434.9h0M1680 428h0M1680 421.1h0M1680 414.2h0M1680.1 407.2h0M1680.1 400.3h0M1680.1 393.4h0M1680.1 388h0M1680.1 384.5h0M1686.9 114.5h0M1686.9 126.5h0M1686.9 129.2h0M1687 118.5h0M1687 106.5h0M1688.3 110.5h0M1688.3 122.5h0M1688.3 129.2h0M1688.3 132.2h0M1688.3 135.2h0M1688.3 138.2h0M1688.3 141.2h0M1688.3 144.2h0M1688.3 147.2h0M1688.3 150.2h0M1688.3 153.2h0M1688.3 156.2h0M1688.3 159.2h0M1688.3 162.2h0M1688.3 165.2h0M1688.3 168.2h0M1688.3 171.2h0M1688.3 174.2h0M1688.3 177.2h0M1688.3 180.2h0M1688.3 183.2h0M1688.3 186.2h0M1688.3 189.2h0M1688.3 192.2h0M1688.3 195.2h0M1688.3 198.2h0M1688.3 201.2h0M1688.3 204.2h0M1688.3 207.2h0M1688.3 210.2h0M1688.3 213.2h0M1688.3 216.2h0M1688.3 219.2h0M1688.3 222.2h0M1688.3 225.2h0M1688.3 228.2h0M1688.3 231.2h0M1688.3 234.2h0M1688.3 237.2h0M1688.3 240.2h0M1688.3 243.2h0M1688.3 246.2h0M1688.3 249.2h0M1688.3 252.2h0M1688.3 255.2h0M1688.3 258.2h0M1688.3 261.2h0M1688.3 264.2h0M1688.3 267.2h0M1688.3 270.2h0M1688.3 273.2h0M1688.3 276.2h0M1688.3 279.2h0M1688.3 282.2h0M1688.3 285.2h0M1688.3 288.2h0M1688.3 291.2h0M1688.3 294.2h0M1688.3 297.2h0M1688.3 300.2h0M1688.4 303.2h0M1688.4 306.2h0M1688.4 309.2h0M1688.4 312.2h0M1688.4 315.2h0M1688.4 318.2h0M1688.4 321.2h0M1688.4 324.2h0M1688.4 327.2h0M1688.4 330.2h0M1688.4 333.2h0M1688.4 336.2h0M1688.4 339.2h0M1688.4 342.2h0M1688.4 345.2h0M1688.4 348.2h0M1688.4 351.2h0M1688.4 354.2h0M1688.4 357.2h0M1688.4 360.2h0M1688.4 363.2h0M1688.4 366.2h0M1688.4 369.2h0M1688.4 372.2h0M1688.4 375.2h0M1688.4 381.7h0M1688.4 388.2h0M1688.4 394.7h0M1688.4 401.2h0M1688.4 407.7h0M1688.4 414.2h0M1688.4 420.7h0M1688.4 427.2h0M1688.4 433.7h0M1688.4 440.2h0M1688.5 446.7h0M1688.5 453.2h0M1688.5 459.7h0M1688.5 466.2h0M1688.5 471h0M1688.5 464.1h0M1688.5 457.1h0M1688.5 450.2h0M1688.5 443.2h0M1688.6 436.3h0M1688.6 429.4h0M1688.6 422.4h0M1688.6 415.5h0M1688.6 408.5h0M1688.6 401.6h0M1688.6 394.7h0M1688.6 387.7h0M1688.7 380.8h0M1688.7 373.9h0M1688.7 366.9h0M1688.7 362.6h0M1688.7 359.5h0M1697 106.4h0M1697 109.4h0M1697 112.4h0M1697 115.4h0M1697 118.4h0M1697 121.4h0M1697 124.4h0M1697 127.4h0M1697 130.4h0M1697 133.4h0M1697 136.4h0M1697 139.4h0M1697 142.4h0M1697 145.4h0M1697 148.4h0M1697 151.4h0M1697 154.4h0M1697 157.4h0M1697 160.4h0M1697 163.4h0M1697 166.4h0M1697 169.4h0M1697 172.4h0M1697 175.4h0M1697 178.4h0M1697 181.4h0M1697 184.4h0M1697 187.4h0M1697 190.4h0M1697 193.4h0M1697 196.4h0M1697 199.4h0M1697.1 202.4h0M1697.1 205.4h0M1697.1 208.4h0M1697.1 211.4h0M1697.1 214.4h0M1697.1 217.4h0M1697.1 220.4h0M1697.1 223.4h0M1697.1 226.4h0M1697.1 229.4h0M1697.1 232.4h0M1697.1 235.4h0M1697.1 238.4h0M1697.1 241.4h0M1697.1 244.4h0M1697.1 247.4h0M1697.1 250.4h0M1697.1 253.4h0M1697.1 256.4h0M1697.1 259.4h0M1697.1 262.4h0M1697.1 265.4h0M1697.1 268.4h0M1697.1 271.4h0M1697.1 274.4h0M1697.1 277.4h0M1697.1 280.4h0M1697.1 283.4h0M1697.1 286.4h0M1697.1 289.4h0M1697.1 292.4h0M1697.1 295.4h0M1697.1 298.4h0M1697.1 301.4h0M1697.1 304.4h0M1697.1 307.4h0M1697.1 310.4h0M1697.1 313.4h0M1697.1 316.4h0M1697.1 319.4h0M1697.1 322.4h0M1697.1 325.4h0M1697.1 328.4h0M1697.1 331.4h0M1697.1 334.4h0M1697.1 337.4h0M1697.1 340.4h0M1697.1 343.4h0M1697.1 346.4h0M1697.1 349.4h0M1697.1 355.9h0M1697.1 362.4h0M1697.1 368.9h0M1697.2 375.4h0M1697.2 381.9h0M1697.2 388.4h0M1697.2 394.9h0M1697.2 395.1h0M1697.2 388.1h0M1697.2 381.2h0M1697.2 374.2h0M1697.3 367.3h0M1697.3 360.3h0M1697.3 353.4h0M1697.3 346.4h0M1697.3 340.7h0M1697.3 337.1h0M1705.8 104.6h0M1705.8 107.6h0M1705.8 110.6h0M1705.8 113.6h0M1705.8 116.6h0M1705.8 119.6h0M1705.8 122.6h0M1705.8 125.6h0M1705.8 128.6h0M1705.8 131.6h0M1705.8 134.6h0M1705.8 137.6h0M1705.8 140.6h0M1705.8 143.6h0M1705.8 146.6h0M1705.8 149.6h0M1705.8 152.6h0M1705.8 155.6h0M1705.8 158.6h0M1705.8 161.6h0M1705.8 164.6h0M1705.8 167.6h0M1705.8 170.6h0M1705.8 173.6h0M1705.8 176.6h0M1705.8 179.6h0M1705.8 182.6h0M1705.8 185.6h0M1705.8 188.6h0M1705.8 191.6h0M1705.8 194.6h0M1705.8 197.6h0M1705.8 200.6h0M1705.8 203.6h0M1705.8 206.6h0M1705.8 209.6h0M1705.8 212.6h0M1705.8 215.6h0M1705.8 218.6h0M1705.8 221.6h0M1705.8 224.6h0M1705.8 227.6h0M1705.8 230.6h0M1705.8 233.6h0M1705.8 236.6h0M1705.8 239.6h0M1705.8 242.6h0M1705.8 245.6h0M1705.8 248.6h0M1705.8 251.6h0M1705.8 254.6h0M1705.8 257.6h0M1705.8 260.6h0M1705.8 263.6h0M1705.8 266.6h0M1705.8 269.6h0M1705.8 272.6h0M1705.8 275.6h0M1705.8 278.6h0M1705.8 281.6h0M1705.8 284.6h0M1705.8 287.6h0M1705.8 290.6h0M1705.8 293.6h0M1705.8 296.6h0M1705.8 299.6h0M1705.8 302.6h0M1705.8 305h0M1705.8 298h0M1705.8 291.1h0M1705.8 284.1h0M1705.8 277.2h0M1705.8 270.2h0M1705.8 263.3h0M1705.9 258.9h0M1705.9 255.9h0M1713.9 104.8h0M1713.8 107.8h0M1713.8 110.8h0M1713.8 113.8h0M1713.8 116.8h0M1713.8 119.8h0M1713.8 122.8h0M1713.8 125.8h0M1713.8 128.8h0M1713.8 131.8h0M1713.8 134.8h0M1713.8 137.8h0M1713.8 140.8h0M1713.8 143.8h0M1713.8 147h0M1713.8 144h0M1713.8 141h0M1713.8 138h0M1713.8 135h0M1713.8 132h0M1713.8 129h0M1713.8 126h0M1713.8 123.1h0M1713.8 120.1h0M1713.8 117.1h0M1713.8 114.1h0M1713.8 111.1h0M1713.9 108.1h0M1713.9 105.1h0" fill="none" stroke="#000" stroke-width="4.4" stroke-linecap="round"/>
<line x1="1012.0" x2="1012.0" y1="144.5" y2="1068.5" stroke="#0000ff" stroke-width="4.2"/>
<line x1="1668.3" x2="1668.3" y1="144.5" y2="1068.5" stroke="#0000ff" stroke-width="4.2"/>
<line x1="250.5" x2="1800.5" y1="754" y2="754" stroke="#008000" stroke-width="4.2"/>
<line x1="250.5" x2="1800.5" y1="564.2" y2="564.2" stroke="#ffa500" stroke-width="2"/>
<line x1="250.5" x2="1800.5" y1="677" y2="677" stroke="#ffa500" stroke-width="2"/>
<g fill="#90ee90" stroke="#90ee90" stroke-width="1.4"><circle cx="1180.3" cy="645" r="4.2"/><circle cx="1180.3" cy="654.6" r="4.2"/><circle cx="1180.3" cy="664.2" r="4.2"/><circle cx="1180.3" cy="673.8" r="4.2"/><circle cx="1180.3" cy="683.4" r="4.2"/><circle cx="1180.3" cy="693" r="4.2"/><circle cx="1180.3" cy="702.6" r="4.2"/><circle cx="1180.3" cy="712.2" r="4.2"/><circle cx="1180.3" cy="721.8" r="4.2"/><circle cx="1180.3" cy="731.4" r="4.2"/><circle cx="1180.3" cy="741" r="4.2"/><circle cx="1180.3" cy="750.6" r="4.2"/><circle cx="1180.3" cy="760.2" r="4.2"/><circle cx="1180.3" cy="769.8" r="4.2"/><circle cx="1180.3" cy="779.4" r="4.2"/><circle cx="1180.3" cy="789" r="4.2"/><circle cx="1180.3" cy="798.6" r="4.2"/><circle cx="1180.3" cy="808.2" r="4.2"/><circle cx="1180.3" cy="817.8" r="4.2"/><circle cx="1180.3" cy="827.4" r="4.2"/><circle cx="1180.3" cy="837" r="4.2"/><circle cx="1180.3" cy="846.6" r="4.2"/><circle cx="1236" cy="578" r="4.2"/><circle cx="1236" cy="587.9" r="4.2"/><circle cx="1236" cy="597.8" r="4.2"/><circle cx="1236" cy="607.7" r="4.2"/><circle cx="1236" cy="617.6" r="4.2"/><circle cx="1236" cy="627.5" r="4.2"/><circle cx="1236" cy="637.4" r="4.2"/><circle cx="1236" cy="647.3" r="4.2"/><circle cx="1236" cy="657.2" r="4.2"/><circle cx="1236" cy="667.1" r="4.2"/><circle cx="1236" cy="677" r="4.2"/><circle cx="1236" cy="686.9" r="4.2"/><circle cx="1236" cy="696.8" r="4.2"/><circle cx="1236" cy="706.7" r="4.2"/><circle cx="1236" cy="716.6" r="4.2"/><circle cx="1236" cy="726.5" r="4.2"/><circle cx="1236" cy="736.4" r="4.2"/><circle cx="1236" cy="746.3" r="4.2"/><circle cx="1236" cy="756.2" r="4.2"/><circle cx="1236" cy="766.1" r="4.2"/><circle cx="1236" cy="776" r="4.2"/><circle cx="1236" cy="785.9" r="4.2"/><circle cx="1236" cy="795.8" r="4.2"/><circle cx="1236" cy="805.7" r="4.2"/></g>
<g fill="#ffff00" stroke="#ffff00" stroke-width="1.4"><g fill-opacity="0.20" stroke-opacity="0.20"><circle cx="1011.3" cy="746.6" r="7"/><circle cx="1012" cy="735" r="7"/><circle cx="1012.7" cy="740.5" r="7"/><circle cx="1012.7" cy="752.7" r="7"/><circle cx="1049.6" cy="751.6" r="7"/><circle cx="1049.6" cy="740.4" r="7"/><circle cx="1049.6" cy="728.6" r="7"/><circle cx="1051" cy="722.5" r="7"/><circle cx="1051" cy="734.6" r="7"/><circle cx="1051" cy="746.1" r="7"/><circle cx="1084.8" cy="744.6" r="7"/><circle cx="1084.8" cy="734.1" r="7"/><circle cx="1084.8" cy="723.1" r="7"/><circle cx="1084.8" cy="711.6" r="7"/><circle cx="1084.8" cy="699.4" r="7"/><circle cx="1086.2" cy="705.6" r="7"/><circle cx="1086.2" cy="717.4" r="7"/><circle cx="1086.2" cy="728.7" r="7"/><circle cx="1086.2" cy="739.5" r="7"/><circle cx="1086.2" cy="749.7" r="7"/><circle cx="1118.3" cy="745.8" r="7"/><circle cx="1118.3" cy="736.1" r="7"/><circle cx="1118.3" cy="726" r="7"/><circle cx="1118.3" cy="715.4" r="7"/><circle cx="1118.3" cy="704.3" r="7"/><circle cx="1118.3" cy="692.7" r="7"/><circle cx="1118.3" cy="680.5" r="7"/><circle cx="1119" cy="671" r="7"/><circle cx="1119.7" cy="674.3" r="7"/><circle cx="1119.7" cy="686.7" r="7"/><circle cx="1119.7" cy="698.5" r="7"/><circle cx="1119.7" cy="709.9" r="7"/><circle cx="1119.7" cy="720.7" r="7"/><circle cx="1119.7" cy="731.1" r="7"/><circle cx="1119.7" cy="741" r="7"/><circle cx="1119.7" cy="750.5" r="7"/><circle cx="1149.8" cy="753.3" r="7"/><circle cx="1149.8" cy="744.7" r="7"/><circle cx="1149.8" cy="735.8" r="7"/><circle cx="1149.8" cy="726.5" r="7"/><circle cx="1149.8" cy="716.8" r="7"/><circle cx="1149.8" cy="706.6" r="7"/><circle cx="1149.8" cy="696" r="7"/><circle cx="1149.8" cy="685" r="7"/><circle cx="1149.8" cy="673.5" r="7"/><circle cx="1149.8" cy="661.4" r="7"/><circle cx="1150.5" cy="648" r="7"/><circle cx="1151.2" cy="655.2" r="7"/><circle cx="1151.2" cy="667.5" r="7"/><circle cx="1151.2" cy="679.3" r="7"/><circle cx="1151.2" cy="690.6" r="7"/><circle cx="1151.2" cy="701.4" r="7"/><circle cx="1151.2" cy="711.7" r="7"/><circle cx="1151.2" cy="721.7" r="7"/><circle cx="1151.2" cy="731.2" r="7"/><circle cx="1151.2" cy="740.3" r="7"/><circle cx="1151.2" cy="749" r="7"/><circle cx="1179.3" cy="751.9" r="7"/><circle cx="1179.3" cy="743.9" r="7"/><circle cx="1179.3" cy="735.6" r="7"/><circle cx="1179.3" cy="727" r="7"/><circle cx="1179.3" cy="718" r="7"/><circle cx="1179.3" cy="708.6" r="7"/><circle cx="1179.3" cy="698.9" r="7"/><circle cx="1179.3" cy="688.8" r="7"/><circle cx="1179.3" cy="678.2" r="7"/><circle cx="1179.3" cy="667.2" r="7"/><circle cx="1179.3" cy="655.8" r="7"/><circle cx="1179.3" cy="643.9" r="7"/><circle cx="1179.3" cy="631.5" r="7"/><circle cx="1180" cy="626" r="7"/><circle cx="1180.7" cy="637.8" r="7"/><circle cx="1180.7" cy="649.9" r="7"/><circle cx="1180.7" cy="661.6" r="7"/><circle cx="1180.7" cy="672.8" r="7"/><circle cx="1180.7" cy="683.6" r="7"/><circle cx="1180.7" cy="693.9" r="7"/><circle cx="1180.7" cy="703.8" r="7"/><circle cx="1180.7" cy="713.4" r="7"/><circle cx="1180.7" cy="722.5" r="7"/><circle cx="1180.7" cy="731.3" r="7"/><circle cx="1180.7" cy="739.8" r="7"/><circle cx="1180.7" cy="747.9" r="7"/><circle cx="1207.5" cy="749.2" r="7"/><circle cx="1207.5" cy="741.7" r="7"/><circle cx="1207.5" cy="734" r="7"/><circle cx="1207.5" cy="726" r="7"/><circle cx="1207.5" cy="717.7" r="7"/><circle cx="1207.5" cy="709" r="7"/><circle cx="1207.5" cy="700" r="7"/><circle cx="1207.5" cy="690.7" r="7"/><circle cx="1207.5" cy="681" r="7"/><circle cx="1207.5" cy="671" r="7"/><circle cx="1207.5" cy="660.5" r="7"/><circle cx="1207.5" cy="649.7" r="7"/><circle cx="1207.5" cy="638.4" r="7"/><circle cx="1207.5" cy="626.8" r="7"/><circle cx="1207.5" cy="614.6" r="7"/><circle cx="1208.2" cy="601" r="7"/><circle cx="1208.9" cy="608.4" r="7"/><circle cx="1208.9" cy="620.7" r="7"/><circle cx="1208.9" cy="632.6" r="7"/><circle cx="1208.9" cy="644.1" r="7"/><circle cx="1208.9" cy="655.2" r="7"/><circle cx="1208.9" cy="665.8" r="7"/><circle cx="1208.9" cy="676" r="7"/><circle cx="1208.9" cy="685.9" r="7"/><circle cx="1208.9" cy="695.4" r="7"/><circle cx="1208.9" cy="704.6" r="7"/><circle cx="1208.9" cy="713.4" r="7"/><circle cx="1208.9" cy="721.9" r="7"/><circle cx="1208.9" cy="730" r="7"/><circle cx="1208.9" cy="737.9" r="7"/><circle cx="1208.9" cy="745.5" r="7"/><circle cx="1208.9" cy="752.8" r="7"/><circle cx="1235.1" cy="752.6" r="7"/><circle cx="1235.1" cy="743.8" r="7"/><circle cx="1235.1" cy="734.5" r="7"/><circle cx="1235.1" cy="724.7" r="7"/><circle cx="1235.1" cy="714.6" r="7"/><circle cx="1235.1" cy="703.9" r="7"/><circle cx="1235.1" cy="692.7" r="7"/><circle cx="1235.1" cy="681" r="7"/><circle cx="1235.1" cy="668.8" r="7"/><circle cx="1235.1" cy="655.9" r="7"/><circle cx="1235.1" cy="642.5" r="7"/><circle cx="1235.1" cy="628.4" r="7"/><circle cx="1235.1" cy="613.6" r="7"/><circle cx="1235.1" cy="598.2" r="7"/><circle cx="1235.1" cy="582" r="7"/><circle cx="1235.8" cy="576" r="7"/><circle cx="1236.5" cy="590.2" r="7"/><circle cx="1236.5" cy="606" r="7"/><circle cx="1236.5" cy="621.1" r="7"/><circle cx="1236.5" cy="635.5" r="7"/><circle cx="1236.5" cy="649.3" r="7"/><circle cx="1236.5" cy="662.4" r="7"/><circle cx="1236.5" cy="675" r="7"/><circle cx="1236.5" cy="686.9" r="7"/><circle cx="1236.5" cy="698.4" r="7"/><circle cx="1236.5" cy="709.3" r="7"/><circle cx="1236.5" cy="719.7" r="7"/><circle cx="1236.5" cy="729.7" r="7"/><circle cx="1236.5" cy="739.2" r="7"/><circle cx="1236.5" cy="748.3" r="7"/><circle cx="1260.8" cy="748.8" r="7"/><circle cx="1260.8" cy="738.4" r="7"/><circle cx="1260.8" cy="727.4" r="7"/><circle cx="1260.8" cy="715.9" r="7"/><circle cx="1260.8" cy="703.7" r="7"/><circle cx="1260.8" cy="690.8" r="7"/><circle cx="1260.8" cy="677.1" r="7"/><circle cx="1260.8" cy="662.8" r="7"/><circle cx="1260.8" cy="647.6" r="7"/><circle cx="1260.8" cy="631.5" r="7"/><circle cx="1260.8" cy="614.6" r="7"/><circle cx="1260.8" cy="596.7" r="7"/><circle cx="1260.8" cy="577.8" r="7"/><circle cx="1262.2" cy="568" r="7"/><circle cx="1262.2" cy="587.4" r="7"/><circle cx="1262.2" cy="605.8" r="7"/><circle cx="1262.2" cy="623.2" r="7"/><circle cx="1262.2" cy="639.7" r="7"/><circle cx="1262.2" cy="655.3" r="7"/><circle cx="1262.2" cy="670" r="7"/><circle cx="1262.2" cy="684" r="7"/><circle cx="1262.2" cy="697.3" r="7"/><circle cx="1262.2" cy="709.8" r="7"/><circle cx="1262.2" cy="721.7" r="7"/><circle cx="1262.2" cy="733" r="7"/><circle cx="1262.2" cy="743.7" r="7"/><circle cx="1262.2" cy="753.8" r="7"/><circle cx="1284.8" cy="752.5" r="7"/><circle cx="1284.8" cy="741.3" r="7"/><circle cx="1284.8" cy="729.3" r="7"/><circle cx="1284.8" cy="716.6" r="7"/><circle cx="1284.8" cy="703.1" r="7"/><circle cx="1284.8" cy="688.7" r="7"/><circle cx="1284.8" cy="673.5" r="7"/><circle cx="1284.8" cy="657.3" r="7"/><circle cx="1284.8" cy="640" r="7"/><circle cx="1284.8" cy="621.8" r="7"/><circle cx="1284.8" cy="602.3" r="7"/><circle cx="1284.8" cy="581.7" r="7"/><circle cx="1286.2" cy="570.9" r="7"/><circle cx="1286.2" cy="592.2" r="7"/><circle cx="1286.2" cy="612.2" r="7"/><circle cx="1286.2" cy="631" r="7"/><circle cx="1286.2" cy="648.8" r="7"/><circle cx="1286.2" cy="665.5" r="7"/><circle cx="1286.2" cy="681.2" r="7"/><circle cx="1286.2" cy="696" r="7"/><circle cx="1286.2" cy="709.9" r="7"/><circle cx="1286.2" cy="723" r="7"/><circle cx="1286.2" cy="735.4" r="7"/><circle cx="1286.2" cy="747" r="7"/><circle cx="1307.8" cy="748.5" r="7"/><circle cx="1307.8" cy="736.1" r="7"/><circle cx="1307.8" cy="722.8" r="7"/><circle cx="1307.8" cy="708.6" r="7"/><circle cx="1307.8" cy="693.4" r="7"/><circle cx="1307.8" cy="677.2" r="7"/><circle cx="1307.8" cy="659.8" r="7"/><circle cx="1307.8" cy="641.3" r="7"/><circle cx="1307.8" cy="621.4" r="7"/><circle cx="1307.8" cy="600.2" r="7"/><circle cx="1307.8" cy="577.5" r="7"/><circle cx="1309.2" cy="565.6" r="7"/><circle cx="1309.2" cy="589" r="7"/><circle cx="1309.2" cy="611" r="7"/><circle cx="1309.2" cy="631.5" r="7"/><circle cx="1309.2" cy="650.7" r="7"/><circle cx="1309.2" cy="668.6" r="7"/><circle cx="1309.2" cy="685.4" r="7"/><circle cx="1309.2" cy="701.1" r="7"/><circle cx="1309.2" cy="715.8" r="7"/><circle cx="1309.2" cy="729.6" r="7"/><circle cx="1309.2" cy="742.4" r="7"/><circle cx="1309.2" cy="754.4" r="7"/><circle cx="1329.9" cy="748.2" r="7"/><circle cx="1329.9" cy="734.9" r="7"/><circle cx="1329.9" cy="720.7" r="7"/><circle cx="1329.9" cy="705.4" r="7"/><circle cx="1329.9" cy="688.9" r="7"/><circle cx="1329.9" cy="671.3" r="7"/><circle cx="1329.9" cy="652.4" r="7"/><circle cx="1329.9" cy="632" r="7"/><circle cx="1329.9" cy="610.2" r="7"/><circle cx="1329.9" cy="586.7" r="7"/><circle cx="1331.3" cy="574.3" r="7"/><circle cx="1331.3" cy="598.6" r="7"/><circle cx="1331.3" cy="621.3" r="7"/><circle cx="1331.3" cy="642.4" r="7"/><circle cx="1331.3" cy="662" r="7"/><circle cx="1331.3" cy="680.3" r="7"/><circle cx="1331.3" cy="697.3" r="7"/><circle cx="1331.3" cy="713.2" r="7"/><circle cx="1331.3" cy="727.9" r="7"/><circle cx="1331.3" cy="741.7" r="7"/><circle cx="1331.3" cy="754.3" r="7"/><circle cx="1350.7" cy="742.4" r="7"/><circle cx="1350.6" cy="736.7" r="7"/><circle cx="1350.6" cy="721.8" r="7"/><circle cx="1350.6" cy="705.7" r="7"/><circle cx="1350.6" cy="688.4" r="7"/><circle cx="1350.6" cy="669.7" r="7"/><circle cx="1350.6" cy="649.5" r="7"/><circle cx="1350.6" cy="627.7" r="7"/><circle cx="1350.6" cy="604.3" r="7"/><circle cx="1350.6" cy="578.9" r="7"/><circle cx="1352" cy="565.5" r="7"/><circle cx="1352" cy="591.8" r="7"/><circle cx="1352" cy="616.2" r="7"/><circle cx="1352" cy="638.8" r="7"/><circle cx="1352" cy="659.8" r="7"/><circle cx="1352" cy="679.2" r="7"/><circle cx="1352" cy="697.2" r="7"/><circle cx="1352" cy="713.9" r="7"/><circle cx="1352" cy="729.4" r="7"/><circle cx="1352" cy="754.1" r="7"/><circle cx="1371" cy="723.7" r="7"/><circle cx="1371" cy="707.2" r="7"/><circle cx="1371" cy="689.3" r="7"/><circle cx="1371" cy="669.8" r="7"/><circle cx="1371" cy="648.8" r="7"/><circle cx="1371" cy="626.1" r="7"/><circle cx="1371" cy="601.5" r="7"/><circle cx="1371" cy="574.8" r="7"/><circle cx="1372.4" cy="588.4" r="7"/><circle cx="1372.4" cy="614" r="7"/><circle cx="1372.4" cy="637.7" r="7"/><circle cx="1372.4" cy="659.5" r="7"/><circle cx="1372.4" cy="679.7" r="7"/><circle cx="1372.4" cy="698.4" r="7"/><circle cx="1372.4" cy="715.6" r="7"/><circle cx="1372.4" cy="752.4" r="7"/><circle cx="1390.2" cy="716.9" r="7"/><circle cx="1390.1" cy="710.4" r="7"/><circle cx="1390.1" cy="692.6" r="7"/><circle cx="1390.1" cy="673.4" r="7"/><circle cx="1390.1" cy="652.5" r="7"/><circle cx="1390.1" cy="629.8" r="7"/><circle cx="1390.1" cy="605.3" r="7"/><circle cx="1390.1" cy="578.7" r="7"/><circle cx="1391.5" cy="564.5" r="7"/><circle cx="1391.5" cy="592.2" r="7"/><circle cx="1391.5" cy="617.8" r="7"/><circle cx="1391.5" cy="641.4" r="7"/><circle cx="1391.5" cy="663.1" r="7"/><circle cx="1391.5" cy="683.2" r="7"/><circle cx="1391.5" cy="701.7" r="7"/><circle cx="1408.9" cy="696.6" r="7"/><circle cx="1408.9" cy="677.8" r="7"/><circle cx="1408.9" cy="657.4" r="7"/><circle cx="1408.9" cy="635.2" r="7"/><circle cx="1408.9" cy="611.2" r="7"/><circle cx="1408.9" cy="585.2" r="7"/><circle cx="1410.3" cy="571.3" r="7"/><circle cx="1410.3" cy="598.4" r="7"/><circle cx="1410.3" cy="623.4" r="7"/><circle cx="1410.3" cy="646.5" r="7"/><circle cx="1410.3" cy="667.8" r="7"/><circle cx="1410.3" cy="687.4" r="7"/><circle cx="1410.3" cy="752.9" r="7"/><circle cx="1426.4" cy="689.4" r="7"/><circle cx="1426.3" cy="682.3" r="7"/><circle cx="1426.3" cy="662.4" r="7"/><circle cx="1426.3" cy="640.9" r="7"/><circle cx="1426.3" cy="617.5" r="7"/><circle cx="1426.3" cy="592.2" r="7"/><circle cx="1426.3" cy="564.8" r="7"/><circle cx="1427.7" cy="578.8" r="7"/><circle cx="1427.7" cy="605.1" r="7"/><circle cx="1427.7" cy="629.4" r="7"/><circle cx="1427.7" cy="651.9" r="7"/><circle cx="1427.7" cy="672.6" r="7"/><circle cx="1443.2" cy="673.4" r="7"/><circle cx="1443.1" cy="666" r="7"/><circle cx="1443.1" cy="645.1" r="7"/><circle cx="1443.1" cy="622.4" r="7"/><circle cx="1443.1" cy="597.9" r="7"/><circle cx="1443.1" cy="571.3" r="7"/><circle cx="1444.5" cy="584.9" r="7"/><circle cx="1444.5" cy="610.4" r="7"/><circle cx="1444.5" cy="634" r="7"/><circle cx="1444.5" cy="655.8" r="7"/><circle cx="1459.7" cy="649.7" r="7"/><circle cx="1459.7" cy="627.7" r="7"/><circle cx="1459.7" cy="603.9" r="7"/><circle cx="1459.7" cy="578.2" r="7"/><circle cx="1461.1" cy="564.5" r="7"/><circle cx="1461.1" cy="591.3" r="7"/><circle cx="1461.1" cy="616.1" r="7"/><circle cx="1461.1" cy="638.9" r="7"/><circle cx="1476.1" cy="641.4" r="7"/><circle cx="1475.8" cy="633.4" r="7"/><circle cx="1475.8" cy="610.4" r="7"/><circle cx="1475.8" cy="585.5" r="7"/><circle cx="1476.8" cy="572.3" r="7"/><circle cx="1476.8" cy="598.2" r="7"/><circle cx="1476.8" cy="622.1" r="7"/><circle cx="1490.9" cy="626.4" r="7"/><circle cx="1490.9" cy="630.3" r="7"/><circle cx="1490.9" cy="634.2" r="7"/><circle cx="1490.9" cy="638.1" r="7"/><circle cx="1490.9" cy="642" r="7"/><circle cx="1490.9" cy="645.9" r="7"/><circle cx="1490.9" cy="649.8" r="7"/><circle cx="1490.9" cy="653.7" r="7"/><circle cx="1490.9" cy="657.6" r="7"/><circle cx="1490.9" cy="661.5" r="7"/><circle cx="1490.9" cy="665.4" r="7"/><circle cx="1490.9" cy="669.3" r="7"/><circle cx="1490.9" cy="673.2" r="7"/><circle cx="1490.9" cy="677.1" r="7"/><circle cx="1490.9" cy="681" r="7"/><circle cx="1490.9" cy="684.9" r="7"/><circle cx="1490.9" cy="688.8" r="7"/><circle cx="1490.9" cy="692.7" r="7"/><circle cx="1490.9" cy="696.6" r="7"/><circle cx="1490.9" cy="700.5" r="7"/><circle cx="1490.9" cy="704.4" r="7"/><circle cx="1490.9" cy="708.3" r="7"/><circle cx="1490.9" cy="712.2" r="7"/><circle cx="1490.9" cy="716.1" r="7"/><circle cx="1490.9" cy="720" r="7"/><circle cx="1490.9" cy="723.9" r="7"/><circle cx="1490.9" cy="727.8" r="7"/><circle cx="1490.9" cy="731.7" r="7"/><circle cx="1490.9" cy="735.6" r="7"/><circle cx="1490.9" cy="739.5" r="7"/><circle cx="1490.9" cy="743.8" r="7"/><circle cx="1491" cy="740.8" r="7"/><circle cx="1491" cy="736.9" r="7"/><circle cx="1491" cy="733" r="7"/><circle cx="1491" cy="729.1" r="7"/><circle cx="1491" cy="725.2" r="7"/><circle cx="1491" cy="721.3" r="7"/><circle cx="1491.1" cy="717.4" r="7"/><circle cx="1491.1" cy="713.5" r="7"/><circle cx="1491.1" cy="709.6" r="7"/><circle cx="1491.1" cy="705.7" r="7"/><circle cx="1491.1" cy="701.8" r="7"/><circle cx="1491.1" cy="697.9" r="7"/><circle cx="1491.2" cy="694" r="7"/><circle cx="1491.2" cy="690.1" r="7"/><circle cx="1491.2" cy="686.2" r="7"/><circle cx="1491.2" cy="682.3" r="7"/><circle cx="1491.2" cy="678.4" r="7"/><circle cx="1491.2" cy="674.5" r="7"/><circle cx="1491.3" cy="670.6" r="7"/><circle cx="1491.3" cy="666.7" r="7"/><circle cx="1491.3" cy="662.8" r="7"/><circle cx="1491.3" cy="658.9" r="7"/><circle cx="1491.3" cy="655" r="7"/><circle cx="1491.3" cy="651.1" r="7"/><circle cx="1491.3" cy="647.2" r="7"/><circle cx="1491.4" cy="643.3" r="7"/><circle cx="1491.4" cy="639.4" r="7"/><circle cx="1491.4" cy="635.5" r="7"/><circle cx="1491.4" cy="631.6" r="7"/><circle cx="1491.4" cy="627.7" r="7"/><circle cx="1491.4" cy="623.8" r="7"/><circle cx="1491.1" cy="615.1" r="7"/><circle cx="1491.1" cy="591.1" r="7"/><circle cx="1491.1" cy="565.1" r="7"/><circle cx="1492.1" cy="578.3" r="7"/><circle cx="1492.1" cy="603.3" r="7"/><circle cx="1492.1" cy="625.1" r="7"/><circle cx="1492.1" cy="629" r="7"/><circle cx="1492.1" cy="632.9" r="7"/><circle cx="1492.1" cy="636.8" r="7"/><circle cx="1492.1" cy="640.7" r="7"/><circle cx="1492.1" cy="644.6" r="7"/><circle cx="1492.1" cy="648.5" r="7"/><circle cx="1492.1" cy="652.4" r="7"/><circle cx="1492.2" cy="656.3" r="7"/><circle cx="1492.2" cy="660.2" r="7"/><circle cx="1492.2" cy="664.1" r="7"/><circle cx="1492.2" cy="668" r="7"/><circle cx="1492.2" cy="671.9" r="7"/><circle cx="1492.2" cy="675.8" r="7"/><circle cx="1492.2" cy="679.7" r="7"/><circle cx="1492.2" cy="683.6" r="7"/><circle cx="1492.2" cy="687.5" r="7"/><circle cx="1492.2" cy="691.4" r="7"/><circle cx="1492.2" cy="695.3" r="7"/><circle cx="1492.2" cy="699.2" r="7"/><circle cx="1492.2" cy="703.1" r="7"/><circle cx="1492.2" cy="707" r="7"/><circle cx="1492.2" cy="710.9" r="7"/><circle cx="1492.3" cy="714.8" r="7"/><circle cx="1492.3" cy="718.7" r="7"/><circle cx="1492.3" cy="722.6" r="7"/><circle cx="1492.3" cy="726.5" r="7"/><circle cx="1492.3" cy="730.4" r="7"/><circle cx="1492.3" cy="734.3" r="7"/><circle cx="1492.3" cy="738.2" r="7"/><circle cx="1492.3" cy="749.6" r="7"/><circle cx="1505.6" cy="612.6" r="7"/><circle cx="1505.6" cy="617.7" r="7"/><circle cx="1505.6" cy="622.8" r="7"/><circle cx="1505.6" cy="627.9" r="7"/><circle cx="1505.6" cy="633" r="7"/><circle cx="1505.6" cy="638.1" r="7"/><circle cx="1505.6" cy="643.2" r="7"/><circle cx="1505.6" cy="648.3" r="7"/><circle cx="1505.6" cy="653.4" r="7"/><circle cx="1505.6" cy="658.5" r="7"/><circle cx="1505.6" cy="663.6" r="7"/><circle cx="1505.6" cy="668.7" r="7"/><circle cx="1505.6" cy="673.8" r="7"/><circle cx="1505.6" cy="678.9" r="7"/><circle cx="1505.6" cy="684" r="7"/><circle cx="1505.6" cy="689.1" r="7"/><circle cx="1505.6" cy="694.2" r="7"/><circle cx="1505.6" cy="699.3" r="7"/><circle cx="1505.6" cy="704.4" r="7"/><circle cx="1505.6" cy="709.5" r="7"/><circle cx="1505.6" cy="714.6" r="7"/><circle cx="1505.6" cy="719.7" r="7"/><circle cx="1505.6" cy="724.8" r="7"/><circle cx="1505.7" cy="726.5" r="7"/><circle cx="1505.7" cy="721.4" r="7"/><circle cx="1505.7" cy="716.3" r="7"/><circle cx="1505.7" cy="711.2" r="7"/><circle cx="1505.8" cy="706.1" r="7"/><circle cx="1505.8" cy="701" r="7"/><circle cx="1505.8" cy="695.9" r="7"/><circle cx="1505.8" cy="690.8" r="7"/><circle cx="1505.8" cy="685.7" r="7"/><circle cx="1505.9" cy="680.6" r="7"/><circle cx="1505.9" cy="675.5" r="7"/><circle cx="1505.9" cy="670.4" r="7"/><circle cx="1505.9" cy="665.3" r="7"/><circle cx="1505.9" cy="660.2" r="7"/><circle cx="1506" cy="655.1" r="7"/><circle cx="1506" cy="650" r="7"/><circle cx="1506" cy="644.9" r="7"/><circle cx="1506" cy="639.8" r="7"/><circle cx="1506" cy="634.7" r="7"/><circle cx="1506.1" cy="629.6" r="7"/><circle cx="1506.1" cy="624.5" r="7"/><circle cx="1506.1" cy="619.4" r="7"/><circle cx="1506.1" cy="614.3" r="7"/><circle cx="1506.1" cy="609.2" r="7"/><circle cx="1505.8" cy="599.8" r="7"/><circle cx="1505.8" cy="574.7" r="7"/><circle cx="1506.8" cy="587.5" r="7"/><circle cx="1506.8" cy="610.9" r="7"/><circle cx="1506.8" cy="616" r="7"/><circle cx="1506.8" cy="621.1" r="7"/><circle cx="1506.8" cy="626.2" r="7"/><circle cx="1506.8" cy="631.3" r="7"/><circle cx="1506.8" cy="636.4" r="7"/><circle cx="1506.9" cy="641.5" r="7"/><circle cx="1506.9" cy="646.6" r="7"/><circle cx="1506.9" cy="651.7" r="7"/><circle cx="1506.9" cy="656.8" r="7"/><circle cx="1506.9" cy="661.9" r="7"/><circle cx="1506.9" cy="667" r="7"/><circle cx="1506.9" cy="672.1" r="7"/><circle cx="1506.9" cy="677.2" r="7"/><circle cx="1506.9" cy="682.3" r="7"/><circle cx="1506.9" cy="687.4" r="7"/><circle cx="1506.9" cy="692.5" r="7"/><circle cx="1506.9" cy="697.6" r="7"/><circle cx="1507" cy="702.7" r="7"/><circle cx="1507" cy="707.8" r="7"/><circle cx="1507" cy="712.9" r="7"/><circle cx="1507" cy="718" r="7"/><circle cx="1507" cy="723.1" r="7"/><circle cx="1507" cy="737" r="7"/><circle cx="1507" cy="742.8" r="7"/><circle cx="1507" cy="748.5" r="7"/><circle cx="1519.9" cy="595.8" r="7"/><circle cx="1519.9" cy="602.1" r="7"/><circle cx="1519.9" cy="608.4" r="7"/><circle cx="1519.9" cy="614.7" r="7"/><circle cx="1519.9" cy="621" r="7"/><circle cx="1519.9" cy="627.3" r="7"/><circle cx="1519.9" cy="633.6" r="7"/><circle cx="1519.9" cy="639.9" r="7"/><circle cx="1519.9" cy="646.2" r="7"/><circle cx="1519.9" cy="652.5" r="7"/><circle cx="1519.9" cy="658.8" r="7"/><circle cx="1519.9" cy="665.1" r="7"/><circle cx="1519.9" cy="671.4" r="7"/><circle cx="1519.9" cy="677.7" r="7"/><circle cx="1519.9" cy="684" r="7"/><circle cx="1519.9" cy="690.3" r="7"/><circle cx="1519.9" cy="696.6" r="7"/><circle cx="1519.9" cy="702.9" r="7"/><circle cx="1519.9" cy="709.2" r="7"/><circle cx="1519.9" cy="715.2" r="7"/><circle cx="1520" cy="711.3" r="7"/><circle cx="1520" cy="705" r="7"/><circle cx="1520" cy="698.7" r="7"/><circle cx="1520" cy="692.4" r="7"/><circle cx="1520.1" cy="686.1" r="7"/><circle cx="1520.1" cy="679.8" r="7"/><circle cx="1520.1" cy="673.5" r="7"/><circle cx="1520.1" cy="667.2" r="7"/><circle cx="1520.2" cy="660.9" r="7"/><circle cx="1520.2" cy="654.6" r="7"/><circle cx="1520.2" cy="648.3" r="7"/><circle cx="1520.2" cy="642" r="7"/><circle cx="1520.3" cy="635.7" r="7"/><circle cx="1520.3" cy="629.4" r="7"/><circle cx="1520.3" cy="623.1" r="7"/><circle cx="1520.3" cy="616.8" r="7"/><circle cx="1520.4" cy="610.5" r="7"/><circle cx="1520.4" cy="604.2" r="7"/><circle cx="1520.4" cy="597.9" r="7"/><circle cx="1520.4" cy="591.6" r="7"/><circle cx="1520.1" cy="581.5" r="7"/><circle cx="1521.1" cy="568.7" r="7"/><circle cx="1521.1" cy="593.7" r="7"/><circle cx="1521.1" cy="600" r="7"/><circle cx="1521.1" cy="606.3" r="7"/><circle cx="1521.1" cy="612.6" r="7"/><circle cx="1521.1" cy="618.9" r="7"/><circle cx="1521.2" cy="625.2" r="7"/><circle cx="1521.2" cy="631.5" r="7"/><circle cx="1521.2" cy="637.8" r="7"/><circle cx="1521.2" cy="644.1" r="7"/><circle cx="1521.2" cy="650.4" r="7"/><circle cx="1521.2" cy="656.7" r="7"/><circle cx="1521.2" cy="663" r="7"/><circle cx="1521.2" cy="669.3" r="7"/><circle cx="1521.2" cy="675.6" r="7"/><circle cx="1521.2" cy="681.9" r="7"/><circle cx="1521.3" cy="688.2" r="7"/><circle cx="1521.3" cy="694.5" r="7"/><circle cx="1521.3" cy="700.8" r="7"/><circle cx="1521.3" cy="707.1" r="7"/><circle cx="1521.3" cy="718.2" r="7"/><circle cx="1521.3" cy="721.2" r="7"/><circle cx="1521.3" cy="724.2" r="7"/><circle cx="1521.3" cy="727.2" r="7"/><circle cx="1521.3" cy="730.2" r="7"/><circle cx="1521.3" cy="733.2" r="7"/><circle cx="1521.4" cy="736.2" r="7"/><circle cx="1521.4" cy="739.2" r="7"/><circle cx="1521.4" cy="742.2" r="7"/><circle cx="1521.4" cy="745.2" r="7"/><circle cx="1521.4" cy="748.2" r="7"/><circle cx="1521.4" cy="751.2" r="7"/><circle cx="1533.2" cy="580" r="7"/><circle cx="1533.2" cy="587.5" r="7"/><circle cx="1533.2" cy="595" r="7"/><circle cx="1533.2" cy="602.5" r="7"/><circle cx="1533.2" cy="610" r="7"/><circle cx="1533.2" cy="617.5" r="7"/><circle cx="1533.2" cy="625" r="7"/><circle cx="1533.2" cy="632.5" r="7"/><circle cx="1533.2" cy="640" r="7"/><circle cx="1533.2" cy="647.5" r="7"/><circle cx="1533.2" cy="655" r="7"/><circle cx="1533.2" cy="662.5" r="7"/><circle cx="1533.2" cy="670" r="7"/><circle cx="1533.2" cy="677.5" r="7"/><circle cx="1533.2" cy="685" r="7"/><circle cx="1533.2" cy="692.5" r="7"/><circle cx="1533.2" cy="700.4" r="7"/><circle cx="1533.3" cy="695" r="7"/><circle cx="1533.3" cy="687.5" r="7"/><circle cx="1533.3" cy="680" r="7"/><circle cx="1533.4" cy="672.5" r="7"/><circle cx="1533.4" cy="665" r="7"/><circle cx="1533.4" cy="657.5" r="7"/><circle cx="1533.4" cy="650" r="7"/><circle cx="1533.5" cy="642.5" r="7"/><circle cx="1533.5" cy="635" r="7"/><circle cx="1533.5" cy="627.5" r="7"/><circle cx="1533.6" cy="620" r="7"/><circle cx="1533.6" cy="612.5" r="7"/><circle cx="1533.6" cy="605" r="7"/><circle cx="1533.7" cy="597.5" r="7"/><circle cx="1533.7" cy="590" r="7"/><circle cx="1533.7" cy="582.5" r="7"/><circle cx="1533.7" cy="575" r="7"/><circle cx="1533.4" cy="564.5" r="7"/><circle cx="1534.4" cy="577.5" r="7"/><circle cx="1534.4" cy="585" r="7"/><circle cx="1534.4" cy="592.5" r="7"/><circle cx="1534.4" cy="600" r="7"/><circle cx="1534.5" cy="607.5" r="7"/><circle cx="1534.5" cy="615" r="7"/><circle cx="1534.5" cy="622.5" r="7"/><circle cx="1534.5" cy="630" r="7"/><circle cx="1534.5" cy="637.5" r="7"/><circle cx="1534.5" cy="645" r="7"/><circle cx="1534.5" cy="652.5" r="7"/><circle cx="1534.5" cy="660" r="7"/><circle cx="1534.5" cy="667.5" r="7"/><circle cx="1534.6" cy="675" r="7"/><circle cx="1534.6" cy="682.5" r="7"/><circle cx="1534.6" cy="690" r="7"/><circle cx="1534.6" cy="703.4" r="7"/><circle cx="1534.6" cy="706.4" r="7"/><circle cx="1534.6" cy="709.4" r="7"/><circle cx="1534.6" cy="712.4" r="7"/><circle cx="1534.6" cy="715.4" r="7"/><circle cx="1534.6" cy="718.4" r="7"/><circle cx="1534.7" cy="721.4" r="7"/><circle cx="1534.7" cy="724.4" r="7"/><circle cx="1534.7" cy="727.4" r="7"/><circle cx="1534.7" cy="730.4" r="7"/><circle cx="1534.7" cy="733.4" r="7"/><circle cx="1534.7" cy="736.4" r="7"/><circle cx="1534.7" cy="739.4" r="7"/><circle cx="1534.7" cy="742.4" r="7"/><circle cx="1534.8" cy="745.4" r="7"/><circle cx="1534.8" cy="748.4" r="7"/><circle cx="1534.8" cy="751.4" r="7"/><circle cx="1546.3" cy="569.9" r="7"/><circle cx="1546.3" cy="578.6" r="7"/><circle cx="1546.3" cy="587.3" r="7"/><circle cx="1546.3" cy="596" r="7"/><circle cx="1546.3" cy="604.7" r="7"/><circle cx="1546.3" cy="613.4" r="7"/><circle cx="1546.3" cy="622.1" r="7"/><circle cx="1546.3" cy="630.8" r="7"/><circle cx="1546.3" cy="639.5" r="7"/><circle cx="1546.3" cy="648.2" r="7"/><circle cx="1546.3" cy="656.9" r="7"/><circle cx="1546.3" cy="665.6" r="7"/><circle cx="1546.3" cy="674.3" r="7"/><circle cx="1546.3" cy="682.6" r="7"/><circle cx="1546.4" cy="677.2" r="7"/><circle cx="1546.4" cy="668.5" r="7"/><circle cx="1546.4" cy="659.8" r="7"/><circle cx="1546.5" cy="651.1" r="7"/><circle cx="1546.5" cy="642.4" r="7"/><circle cx="1546.5" cy="633.7" r="7"/><circle cx="1546.6" cy="625" r="7"/><circle cx="1546.6" cy="616.3" r="7"/><circle cx="1546.6" cy="607.6" r="7"/><circle cx="1546.7" cy="598.9" r="7"/><circle cx="1546.7" cy="590.2" r="7"/><circle cx="1546.7" cy="581.5" r="7"/><circle cx="1546.8" cy="572.8" r="7"/><circle cx="1547.5" cy="575.7" r="7"/><circle cx="1547.5" cy="584.4" r="7"/><circle cx="1547.6" cy="593.1" r="7"/><circle cx="1547.6" cy="601.8" r="7"/><circle cx="1547.6" cy="610.5" r="7"/><circle cx="1547.6" cy="619.2" r="7"/><circle cx="1547.6" cy="627.9" r="7"/><circle cx="1547.6" cy="636.6" r="7"/><circle cx="1547.6" cy="645.3" r="7"/><circle cx="1547.7" cy="654" r="7"/><circle cx="1547.7" cy="662.7" r="7"/><circle cx="1547.7" cy="671.4" r="7"/><circle cx="1547.7" cy="685.6" r="7"/><circle cx="1547.7" cy="688.6" r="7"/><circle cx="1547.7" cy="691.6" r="7"/><circle cx="1547.7" cy="694.6" r="7"/><circle cx="1547.7" cy="697.6" r="7"/><circle cx="1547.7" cy="700.6" r="7"/><circle cx="1547.7" cy="703.6" r="7"/><circle cx="1547.8" cy="706.6" r="7"/><circle cx="1547.8" cy="709.6" r="7"/><circle cx="1547.8" cy="712.6" r="7"/><circle cx="1547.8" cy="715.6" r="7"/><circle cx="1547.8" cy="718.6" r="7"/><circle cx="1547.8" cy="721.6" r="7"/><circle cx="1547.8" cy="724.6" r="7"/><circle cx="1547.8" cy="727.6" r="7"/><circle cx="1547.9" cy="730.6" r="7"/><circle cx="1547.9" cy="733.6" r="7"/><circle cx="1547.9" cy="736.6" r="7"/><circle cx="1547.9" cy="739.6" r="7"/><circle cx="1547.9" cy="742.6" r="7"/><circle cx="1547.9" cy="745.6" r="7"/><circle cx="1548" cy="748.6" r="7"/><circle cx="1558.9" cy="571.1" r="7"/><circle cx="1558.9" cy="581" r="7"/><circle cx="1558.9" cy="590.9" r="7"/><circle cx="1558.9" cy="600.8" r="7"/><circle cx="1558.9" cy="610.7" r="7"/><circle cx="1558.9" cy="620.6" r="7"/><circle cx="1558.9" cy="630.5" r="7"/><circle cx="1558.9" cy="640.4" r="7"/><circle cx="1558.9" cy="650.3" r="7"/><circle cx="1558.9" cy="660.2" r="7"/><circle cx="1558.9" cy="663.8" r="7"/><circle cx="1559" cy="653.6" r="7"/><circle cx="1559" cy="643.7" r="7"/><circle cx="1559.1" cy="633.8" r="7"/><circle cx="1559.1" cy="623.9" r="7"/><circle cx="1559.1" cy="614" r="7"/><circle cx="1559.2" cy="604.1" r="7"/><circle cx="1559.2" cy="594.2" r="7"/><circle cx="1559.2" cy="584.3" r="7"/><circle cx="1559.3" cy="574.4" r="7"/><circle cx="1559.3" cy="564.5" r="7"/><circle cx="1560.2" cy="567.8" r="7"/><circle cx="1560.2" cy="577.7" r="7"/><circle cx="1560.2" cy="587.6" r="7"/><circle cx="1560.2" cy="597.5" r="7"/><circle cx="1560.2" cy="607.4" r="7"/><circle cx="1560.2" cy="617.3" r="7"/><circle cx="1560.2" cy="627.2" r="7"/><circle cx="1560.3" cy="637.1" r="7"/><circle cx="1560.3" cy="647" r="7"/><circle cx="1560.3" cy="656.9" r="7"/><circle cx="1560.3" cy="663.8" r="7"/><circle cx="1560.3" cy="666.8" r="7"/><circle cx="1560.3" cy="669.8" r="7"/><circle cx="1560.3" cy="672.8" r="7"/><circle cx="1560.3" cy="675.8" r="7"/><circle cx="1560.3" cy="678.8" r="7"/><circle cx="1560.3" cy="681.8" r="7"/><circle cx="1560.3" cy="684.8" r="7"/><circle cx="1560.4" cy="687.8" r="7"/><circle cx="1560.4" cy="690.8" r="7"/><circle cx="1560.4" cy="693.8" r="7"/><circle cx="1560.4" cy="696.8" r="7"/><circle cx="1560.4" cy="699.8" r="7"/><circle cx="1560.4" cy="702.8" r="7"/><circle cx="1560.4" cy="705.8" r="7"/><circle cx="1560.5" cy="708.8" r="7"/><circle cx="1560.5" cy="711.8" r="7"/><circle cx="1560.5" cy="714.8" r="7"/><circle cx="1560.5" cy="717.8" r="7"/><circle cx="1560.5" cy="720.8" r="7"/><circle cx="1560.5" cy="723.8" r="7"/><circle cx="1560.6" cy="730.3" r="7"/><circle cx="1560.6" cy="736.8" r="7"/><circle cx="1560.7" cy="743.3" r="7"/><circle cx="1571.7" cy="564" r="7"/><circle cx="1571.7" cy="575.1" r="7"/><circle cx="1571.7" cy="586.2" r="7"/><circle cx="1571.7" cy="597.3" r="7"/><circle cx="1571.7" cy="608.4" r="7"/><circle cx="1571.7" cy="619.5" r="7"/><circle cx="1571.7" cy="630.6" r="7"/><circle cx="1571.8" cy="634.3" r="7"/><circle cx="1571.8" cy="623.2" r="7"/><circle cx="1571.9" cy="612.1" r="7"/><circle cx="1571.9" cy="601" r="7"/><circle cx="1571.9" cy="589.9" r="7"/><circle cx="1572" cy="578.8" r="7"/><circle cx="1572" cy="567.7" r="7"/><circle cx="1573" cy="571.4" r="7"/><circle cx="1573" cy="582.5" r="7"/><circle cx="1573" cy="593.6" r="7"/><circle cx="1573" cy="604.7" r="7"/><circle cx="1573.1" cy="615.8" r="7"/><circle cx="1573.1" cy="626.9" r="7"/><circle cx="1573.1" cy="638" r="7"/><circle cx="1573.1" cy="643" r="7"/><circle cx="1573.1" cy="646" r="7"/><circle cx="1573.1" cy="649" r="7"/><circle cx="1573.1" cy="652" r="7"/><circle cx="1573.1" cy="655" r="7"/><circle cx="1573.1" cy="658" r="7"/><circle cx="1573.1" cy="661" r="7"/><circle cx="1573.1" cy="664" r="7"/><circle cx="1573.1" cy="667" r="7"/><circle cx="1573.2" cy="670" r="7"/><circle cx="1573.2" cy="673" r="7"/><circle cx="1573.2" cy="676" r="7"/><circle cx="1573.2" cy="679" r="7"/><circle cx="1573.2" cy="682" r="7"/><circle cx="1573.2" cy="685" r="7"/><circle cx="1573.2" cy="688" r="7"/><circle cx="1573.2" cy="691" r="7"/><circle cx="1573.2" cy="697.5" r="7"/><circle cx="1573.3" cy="704" r="7"/><circle cx="1573.3" cy="710.5" r="7"/><circle cx="1573.3" cy="717" r="7"/><circle cx="1573.4" cy="723.5" r="7"/><circle cx="1573.4" cy="730" r="7"/><circle cx="1573.5" cy="736.5" r="7"/><circle cx="1573.5" cy="743" r="7"/><circle cx="1573.6" cy="749.5" r="7"/><circle cx="1573.9" cy="753.1" r="7"/><circle cx="1573.9" cy="749.2" r="7"/><circle cx="1573.9" cy="745.2" r="7"/><circle cx="1573.9" cy="741.3" r="7"/><circle cx="1574" cy="737.3" r="7"/><circle cx="1574" cy="733.4" r="7"/><circle cx="1574" cy="729.4" r="7"/><circle cx="1574" cy="725.5" r="7"/><circle cx="1574" cy="721.5" r="7"/><circle cx="1574.1" cy="717.6" r="7"/><circle cx="1574.1" cy="713.6" r="7"/><circle cx="1574.1" cy="709.7" r="7"/><circle cx="1574.2" cy="705.7" r="7"/><circle cx="1574.2" cy="701.8" r="7"/><circle cx="1574.2" cy="697.8" r="7"/><circle cx="1574.2" cy="693.9" r="7"/><circle cx="1574.3" cy="689.9" r="7"/><circle cx="1574.3" cy="686" r="7"/><circle cx="1584" cy="569.5" r="7"/><circle cx="1584" cy="581.5" r="7"/><circle cx="1584" cy="593.5" r="7"/><circle cx="1584" cy="605.5" r="7"/><circle cx="1584" cy="617.5" r="7"/><circle cx="1584.1" cy="609.5" r="7"/><circle cx="1584.1" cy="597.5" r="7"/><circle cx="1584.2" cy="585.5" r="7"/><circle cx="1584.2" cy="573.5" r="7"/><circle cx="1585.3" cy="565.5" r="7"/><circle cx="1585.3" cy="577.5" r="7"/><circle cx="1585.4" cy="589.5" r="7"/><circle cx="1585.4" cy="601.5" r="7"/><circle cx="1585.4" cy="613.5" r="7"/><circle cx="1585.4" cy="622.2" r="7"/><circle cx="1585.4" cy="625.2" r="7"/><circle cx="1585.4" cy="628.2" r="7"/><circle cx="1585.4" cy="631.2" r="7"/><circle cx="1585.4" cy="634.2" r="7"/><circle cx="1585.4" cy="637.2" r="7"/><circle cx="1585.4" cy="640.2" r="7"/><circle cx="1585.4" cy="643.2" r="7"/><circle cx="1585.4" cy="646.2" r="7"/><circle cx="1585.4" cy="649.2" r="7"/><circle cx="1585.4" cy="652.2" r="7"/><circle cx="1585.5" cy="655.2" r="7"/><circle cx="1585.5" cy="661.7" r="7"/><circle cx="1585.5" cy="668.2" r="7"/><circle cx="1585.5" cy="674.7" r="7"/><circle cx="1585.5" cy="681.2" r="7"/><circle cx="1585.5" cy="687.7" r="7"/><circle cx="1585.6" cy="694.2" r="7"/><circle cx="1585.6" cy="700.7" r="7"/><circle cx="1585.6" cy="707.2" r="7"/><circle cx="1585.7" cy="713.7" r="7"/><circle cx="1585.7" cy="720.2" r="7"/><circle cx="1585.7" cy="726.7" r="7"/><circle cx="1585.8" cy="733.2" r="7"/><circle cx="1585.8" cy="739.7" r="7"/><circle cx="1585.9" cy="746.2" r="7"/><circle cx="1586" cy="753" r="7"/><circle cx="1586" cy="748.1" r="7"/><circle cx="1586" cy="743.1" r="7"/><circle cx="1586.1" cy="738.2" r="7"/><circle cx="1586.1" cy="733.3" r="7"/><circle cx="1586.1" cy="728.3" r="7"/><circle cx="1586.1" cy="723.4" r="7"/><circle cx="1586.2" cy="718.5" r="7"/><circle cx="1586.2" cy="713.5" r="7"/><circle cx="1586.2" cy="708.6" r="7"/><circle cx="1586.2" cy="703.7" r="7"/><circle cx="1586.3" cy="698.8" r="7"/><circle cx="1586.3" cy="693.8" r="7"/><circle cx="1586.3" cy="688.9" r="7"/><circle cx="1586.3" cy="684" r="7"/><circle cx="1586.4" cy="679.1" r="7"/><circle cx="1586.4" cy="674.2" r="7"/><circle cx="1586.4" cy="669.3" r="7"/><circle cx="1586.5" cy="664.3" r="7"/><circle cx="1586.5" cy="659.4" r="7"/><circle cx="1586.6" cy="654.5" r="7"/><circle cx="1586.6" cy="649.6" r="7"/><circle cx="1594.8" cy="566.5" r="7"/><circle cx="1594.8" cy="578.5" r="7"/><circle cx="1594.8" cy="590.5" r="7"/><circle cx="1594.9" cy="582.5" r="7"/><circle cx="1594.9" cy="570.5" r="7"/><circle cx="1596.2" cy="574.5" r="7"/><circle cx="1596.2" cy="586.5" r="7"/><circle cx="1596.2" cy="597.4" r="7"/><circle cx="1596.2" cy="600.4" r="7"/><circle cx="1596.2" cy="603.4" r="7"/><circle cx="1596.2" cy="606.4" r="7"/><circle cx="1596.2" cy="609.4" r="7"/><circle cx="1596.2" cy="612.4" r="7"/><circle cx="1596.2" cy="615.4" r="7"/><circle cx="1596.2" cy="618.4" r="7"/><circle cx="1596.3" cy="621.4" r="7"/><circle cx="1596.3" cy="624.4" r="7"/><circle cx="1596.3" cy="627.4" r="7"/><circle cx="1596.3" cy="633.9" r="7"/><circle cx="1596.3" cy="640.4" r="7"/><circle cx="1596.4" cy="646.9" r="7"/><circle cx="1596.4" cy="653.4" r="7"/><circle cx="1596.4" cy="659.9" r="7"/><circle cx="1596.5" cy="666.4" r="7"/><circle cx="1596.5" cy="672.9" r="7"/><circle cx="1596.6" cy="679.4" r="7"/><circle cx="1596.6" cy="685.9" r="7"/><circle cx="1596.7" cy="692.4" r="7"/><circle cx="1596.7" cy="698.9" r="7"/><circle cx="1596.8" cy="705.4" r="7"/><circle cx="1596.9" cy="711.9" r="7"/><circle cx="1596.9" cy="718.4" r="7"/><circle cx="1597" cy="724.9" r="7"/><circle cx="1597.2" cy="731.4" r="7"/><circle cx="1597.3" cy="734.7" r="7"/><circle cx="1597.3" cy="728.8" r="7"/><circle cx="1597.3" cy="722.9" r="7"/><circle cx="1597.4" cy="717" r="7"/><circle cx="1597.4" cy="711.1" r="7"/><circle cx="1597.4" cy="705.2" r="7"/><circle cx="1597.5" cy="699.3" r="7"/><circle cx="1597.5" cy="693.4" r="7"/><circle cx="1597.5" cy="687.5" r="7"/><circle cx="1597.5" cy="681.6" r="7"/><circle cx="1597.6" cy="675.7" r="7"/><circle cx="1597.6" cy="669.8" r="7"/><circle cx="1597.6" cy="663.9" r="7"/><circle cx="1597.7" cy="658" r="7"/><circle cx="1597.7" cy="652.1" r="7"/><circle cx="1597.8" cy="646.2" r="7"/><circle cx="1597.8" cy="640.4" r="7"/><circle cx="1597.8" cy="634.5" r="7"/><circle cx="1597.9" cy="628.6" r="7"/><circle cx="1597.9" cy="622.7" r="7"/><circle cx="1598" cy="616.9" r="7"/><circle cx="1606.1" cy="571.6" r="7"/><circle cx="1606.2" cy="566.5" r="7"/><circle cx="1607.5" cy="574.6" r="7"/><circle cx="1607.5" cy="577.6" r="7"/><circle cx="1607.5" cy="580.6" r="7"/><circle cx="1607.5" cy="583.6" r="7"/><circle cx="1607.5" cy="586.6" r="7"/><circle cx="1607.5" cy="589.6" r="7"/><circle cx="1607.5" cy="592.6" r="7"/><circle cx="1607.5" cy="595.6" r="7"/><circle cx="1607.6" cy="602.1" r="7"/><circle cx="1607.6" cy="608.6" r="7"/><circle cx="1607.6" cy="615.1" r="7"/><circle cx="1607.6" cy="621.6" r="7"/><circle cx="1607.6" cy="628.1" r="7"/><circle cx="1607.7" cy="634.6" r="7"/><circle cx="1607.7" cy="641.1" r="7"/><circle cx="1607.7" cy="647.6" r="7"/><circle cx="1607.7" cy="654.1" r="7"/><circle cx="1607.8" cy="660.6" r="7"/><circle cx="1607.8" cy="667.1" r="7"/><circle cx="1607.8" cy="673.6" r="7"/><circle cx="1607.9" cy="680.1" r="7"/><circle cx="1607.9" cy="686.6" r="7"/><circle cx="1608" cy="693.1" r="7"/><circle cx="1608" cy="699.6" r="7"/><circle cx="1608.1" cy="706.1" r="7"/><circle cx="1608.2" cy="712.6" r="7"/><circle cx="1608.3" cy="717" r="7"/><circle cx="1608.3" cy="710.1" r="7"/><circle cx="1608.4" cy="703.2" r="7"/><circle cx="1608.4" cy="696.4" r="7"/><circle cx="1608.4" cy="689.5" r="7"/><circle cx="1608.4" cy="682.6" r="7"/><circle cx="1608.5" cy="675.7" r="7"/><circle cx="1608.5" cy="668.9" r="7"/><circle cx="1608.5" cy="662" r="7"/><circle cx="1608.6" cy="655.2" r="7"/><circle cx="1608.6" cy="648.3" r="7"/><circle cx="1608.6" cy="641.4" r="7"/><circle cx="1608.7" cy="634.6" r="7"/><circle cx="1608.7" cy="627.7" r="7"/><circle cx="1608.8" cy="620.9" r="7"/><circle cx="1608.8" cy="614.1" r="7"/><circle cx="1608.9" cy="607.2" r="7"/><circle cx="1608.9" cy="600.4" r="7"/><circle cx="1609" cy="593.6" r="7"/><circle cx="1609" cy="586.7" r="7"/><circle cx="1609.1" cy="582.4" r="7"/><circle cx="1618.2" cy="564.8" r="7"/><circle cx="1618.2" cy="567.8" r="7"/><circle cx="1618.3" cy="574.3" r="7"/><circle cx="1618.3" cy="580.8" r="7"/><circle cx="1618.3" cy="587.3" r="7"/><circle cx="1618.3" cy="593.8" r="7"/><circle cx="1618.4" cy="600.3" r="7"/><circle cx="1618.4" cy="606.8" r="7"/><circle cx="1618.4" cy="613.3" r="7"/><circle cx="1618.4" cy="619.8" r="7"/><circle cx="1618.5" cy="626.3" r="7"/><circle cx="1618.5" cy="632.8" r="7"/><circle cx="1618.5" cy="639.3" r="7"/><circle cx="1618.6" cy="645.8" r="7"/><circle cx="1618.6" cy="652.3" r="7"/><circle cx="1618.7" cy="658.8" r="7"/><circle cx="1618.7" cy="665.3" r="7"/><circle cx="1618.8" cy="671.8" r="7"/><circle cx="1618.8" cy="678.3" r="7"/><circle cx="1618.9" cy="684.8" r="7"/><circle cx="1619" cy="691.3" r="7"/><circle cx="1619.2" cy="693.1" r="7"/><circle cx="1619.2" cy="686.2" r="7"/><circle cx="1619.3" cy="679.3" r="7"/><circle cx="1619.3" cy="672.5" r="7"/><circle cx="1619.3" cy="665.6" r="7"/><circle cx="1619.4" cy="658.7" r="7"/><circle cx="1619.4" cy="651.8" r="7"/><circle cx="1619.4" cy="645" r="7"/><circle cx="1619.4" cy="638.1" r="7"/><circle cx="1619.5" cy="631.2" r="7"/><circle cx="1619.5" cy="624.4" r="7"/><circle cx="1619.5" cy="617.5" r="7"/><circle cx="1619.6" cy="610.6" r="7"/><circle cx="1619.6" cy="603.8" r="7"/><circle cx="1619.7" cy="596.9" r="7"/><circle cx="1619.7" cy="590.1" r="7"/><circle cx="1619.8" cy="583.2" r="7"/><circle cx="1619.8" cy="576.4" r="7"/><circle cx="1619.8" cy="569.6" r="7"/><circle cx="1628.9" cy="564" r="7"/><circle cx="1629" cy="570.5" r="7"/><circle cx="1629" cy="577" r="7"/><circle cx="1629" cy="583.5" r="7"/><circle cx="1629.1" cy="590" r="7"/><circle cx="1629.1" cy="596.5" r="7"/><circle cx="1629.1" cy="603" r="7"/><circle cx="1629.2" cy="609.5" r="7"/><circle cx="1629.2" cy="616" r="7"/><circle cx="1629.3" cy="622.5" r="7"/><circle cx="1629.3" cy="629" r="7"/><circle cx="1629.4" cy="635.5" r="7"/><circle cx="1629.4" cy="642" r="7"/><circle cx="1629.5" cy="648.5" r="7"/><circle cx="1629.6" cy="655" r="7"/><circle cx="1629.6" cy="661.5" r="7"/><circle cx="1629.7" cy="668" r="7"/><circle cx="1629.8" cy="674.5" r="7"/><circle cx="1630" cy="680" r="7"/><circle cx="1630" cy="673.1" r="7"/><circle cx="1630" cy="666.2" r="7"/><circle cx="1630.1" cy="659.3" r="7"/><circle cx="1630.1" cy="652.4" r="7"/><circle cx="1630.1" cy="645.5" r="7"/><circle cx="1630.1" cy="638.7" r="7"/><circle cx="1630.2" cy="631.8" r="7"/><circle cx="1630.2" cy="624.9" r="7"/><circle cx="1630.2" cy="618" r="7"/><circle cx="1630.2" cy="611.1" r="7"/><circle cx="1630.3" cy="604.3" r="7"/><circle cx="1630.3" cy="597.4" r="7"/><circle cx="1630.3" cy="590.5" r="7"/><circle cx="1630.4" cy="583.7" r="7"/><circle cx="1630.4" cy="576.8" r="7"/><circle cx="1630.4" cy="569.9" r="7"/><circle cx="1639.1" cy="567.7" r="7"/><circle cx="1639.2" cy="574.2" r="7"/><circle cx="1639.2" cy="580.7" r="7"/><circle cx="1639.2" cy="587.2" r="7"/><circle cx="1639.3" cy="593.7" r="7"/><circle cx="1639.3" cy="600.2" r="7"/><circle cx="1639.4" cy="606.7" r="7"/><circle cx="1639.4" cy="613.2" r="7"/><circle cx="1639.5" cy="619.7" r="7"/><circle cx="1639.5" cy="626.2" r="7"/><circle cx="1639.6" cy="632.7" r="7"/><circle cx="1639.7" cy="639.2" r="7"/><circle cx="1639.8" cy="645.7" r="7"/><circle cx="1640" cy="647.8" r="7"/><circle cx="1640" cy="640.9" r="7"/><circle cx="1640.1" cy="634" r="7"/><circle cx="1640.1" cy="627.1" r="7"/><circle cx="1640.1" cy="620.2" r="7"/><circle cx="1640.1" cy="613.3" r="7"/><circle cx="1640.2" cy="606.4" r="7"/><circle cx="1640.2" cy="599.5" r="7"/><circle cx="1640.2" cy="592.7" r="7"/><circle cx="1640.2" cy="585.8" r="7"/><circle cx="1640.3" cy="578.9" r="7"/><circle cx="1640.3" cy="572" r="7"/><circle cx="1640.3" cy="565.1" r="7"/><circle cx="1649.7" cy="565.9" r="7"/><circle cx="1649.7" cy="572.4" r="7"/><circle cx="1649.7" cy="578.9" r="7"/><circle cx="1649.8" cy="585.4" r="7"/><circle cx="1649.8" cy="591.9" r="7"/><circle cx="1649.9" cy="598.4" r="7"/><circle cx="1649.9" cy="604.9" r="7"/><circle cx="1650" cy="611.4" r="7"/><circle cx="1650" cy="617.9" r="7"/><circle cx="1650.1" cy="624.4" r="7"/><circle cx="1650.2" cy="629" r="7"/><circle cx="1650.2" cy="622.1" r="7"/><circle cx="1650.2" cy="615.2" r="7"/><circle cx="1650.3" cy="608.3" r="7"/><circle cx="1650.3" cy="601.4" r="7"/><circle cx="1650.3" cy="594.5" r="7"/><circle cx="1650.3" cy="587.6" r="7"/><circle cx="1650.3" cy="580.7" r="7"/><circle cx="1650.4" cy="573.8" r="7"/><circle cx="1650.4" cy="566.9" r="7"/><circle cx="1659.9" cy="564.1" r="7"/><circle cx="1659.9" cy="570.6" r="7"/><circle cx="1659.9" cy="577.1" r="7"/><circle cx="1660" cy="583.6" r="7"/><circle cx="1660" cy="590.1" r="7"/><circle cx="1660.1" cy="596.6" r="7"/><circle cx="1660.2" cy="602.7" r="7"/><circle cx="1660.2" cy="595.8" r="7"/><circle cx="1660.2" cy="588.9" r="7"/><circle cx="1660.2" cy="582" r="7"/><circle cx="1660.3" cy="575" r="7"/><circle cx="1660.3" cy="568.1" r="7"/><circle cx="1669.6" cy="565" r="7"/></g><g fill-opacity="0.36" stroke-opacity="0.36"><circle cx="1049.9" cy="715.1" r="7"/><circle cx="1085.8" cy="691.8" r="7"/><circle cx="1350.5" cy="741.2" r="7"/><circle cx="1350.2" cy="745.5" r="7"/><circle cx="1350.2" cy="751" r="7"/><circle cx="1350.7" cy="751.9" r="7"/><circle cx="1350.7" cy="746.5" r="7"/><circle cx="1352" cy="744.6" r="7"/><circle cx="1352" cy="750" r="7"/><circle cx="1370.6" cy="735.8" r="7"/><circle cx="1370.6" cy="741.1" r="7"/><circle cx="1370.6" cy="746.5" r="7"/><circle cx="1370.6" cy="752" r="7"/><circle cx="1371" cy="752.9" r="7"/><circle cx="1371.1" cy="747.5" r="7"/><circle cx="1371.1" cy="742" r="7"/><circle cx="1371.1" cy="736.6" r="7"/><circle cx="1371.1" cy="731.2" r="7"/><circle cx="1372.4" cy="732.1" r="7"/><circle cx="1372.4" cy="737.5" r="7"/><circle cx="1372.4" cy="743" r="7"/><circle cx="1372.4" cy="748.4" r="7"/><circle cx="1389.7" cy="722.8" r="7"/><circle cx="1389.7" cy="728.1" r="7"/><circle cx="1389.7" cy="733.5" r="7"/><circle cx="1389.7" cy="739" r="7"/><circle cx="1389.7" cy="744.3" r="7"/><circle cx="1389.7" cy="749.8" r="7"/><circle cx="1389.9" cy="752.9" r="7"/><circle cx="1390.1" cy="748" r="7"/><circle cx="1390.1" cy="742.5" r="7"/><circle cx="1390.2" cy="737.1" r="7"/><circle cx="1390.2" cy="731.8" r="7"/><circle cx="1390.2" cy="726.4" r="7"/><circle cx="1390.2" cy="721" r="7"/><circle cx="1391.5" cy="719.1" r="7"/><circle cx="1391.5" cy="724.5" r="7"/><circle cx="1391.5" cy="730" r="7"/><circle cx="1391.5" cy="735.4" r="7"/><circle cx="1391.5" cy="740.8" r="7"/><circle cx="1391.5" cy="746.1" r="7"/><circle cx="1391.5" cy="751.5" r="7"/><circle cx="1408.8" cy="702.2" r="7"/><circle cx="1408.5" cy="706.5" r="7"/><circle cx="1408.5" cy="712" r="7"/><circle cx="1408.5" cy="717.4" r="7"/><circle cx="1408.5" cy="722.8" r="7"/><circle cx="1408.5" cy="728.1" r="7"/><circle cx="1408.5" cy="733.5" r="7"/><circle cx="1408.5" cy="739" r="7"/><circle cx="1408.5" cy="744.3" r="7"/><circle cx="1408.5" cy="749.8" r="7"/><circle cx="1408.7" cy="752.9" r="7"/><circle cx="1408.8" cy="747.9" r="7"/><circle cx="1408.9" cy="742.5" r="7"/><circle cx="1408.9" cy="737.1" r="7"/><circle cx="1408.9" cy="731.8" r="7"/><circle cx="1408.9" cy="726.4" r="7"/><circle cx="1409" cy="721" r="7"/><circle cx="1409" cy="715.5" r="7"/><circle cx="1409" cy="710.1" r="7"/><circle cx="1409" cy="704.8" r="7"/><circle cx="1410.3" cy="705.6" r="7"/><circle cx="1410.3" cy="711" r="7"/><circle cx="1410.3" cy="716.5" r="7"/><circle cx="1410.3" cy="721.9" r="7"/><circle cx="1410.3" cy="727.2" r="7"/><circle cx="1410.3" cy="732.6" r="7"/><circle cx="1410.3" cy="738" r="7"/><circle cx="1410.3" cy="743.4" r="7"/><circle cx="1410.3" cy="748.8" r="7"/><circle cx="1426.2" cy="688.2" r="7"/><circle cx="1425.9" cy="692.5" r="7"/><circle cx="1425.9" cy="698" r="7"/><circle cx="1425.9" cy="703.4" r="7"/><circle cx="1425.9" cy="708.8" r="7"/><circle cx="1425.9" cy="714.1" r="7"/><circle cx="1425.9" cy="719.5" r="7"/><circle cx="1425.9" cy="725" r="7"/><circle cx="1425.9" cy="730.3" r="7"/><circle cx="1425.9" cy="735.8" r="7"/><circle cx="1425.9" cy="741.1" r="7"/><circle cx="1425.9" cy="746.5" r="7"/><circle cx="1425.9" cy="751.9" r="7"/><circle cx="1426.2" cy="752.8" r="7"/><circle cx="1426.2" cy="747.4" r="7"/><circle cx="1426.2" cy="742" r="7"/><circle cx="1426.2" cy="736.6" r="7"/><circle cx="1426.3" cy="731.2" r="7"/><circle cx="1426.3" cy="725.8" r="7"/><circle cx="1426.3" cy="720.5" r="7"/><circle cx="1426.3" cy="715" r="7"/><circle cx="1426.4" cy="709.6" r="7"/><circle cx="1426.4" cy="704.2" r="7"/><circle cx="1426.4" cy="698.9" r="7"/><circle cx="1426.4" cy="693.5" r="7"/><circle cx="1427.7" cy="691.6" r="7"/><circle cx="1427.7" cy="697" r="7"/><circle cx="1427.7" cy="702.5" r="7"/><circle cx="1427.7" cy="707.9" r="7"/><circle cx="1427.7" cy="713.2" r="7"/><circle cx="1427.7" cy="718.6" r="7"/><circle cx="1427.7" cy="724" r="7"/><circle cx="1427.7" cy="729.4" r="7"/><circle cx="1427.7" cy="734.8" r="7"/><circle cx="1427.7" cy="740.2" r="7"/><circle cx="1427.7" cy="745.6" r="7"/><circle cx="1427.7" cy="751" r="7"/><circle cx="1442.7" cy="679.2" r="7"/><circle cx="1442.7" cy="684.6" r="7"/><circle cx="1442.7" cy="690" r="7"/><circle cx="1442.7" cy="695.5" r="7"/><circle cx="1442.7" cy="700.8" r="7"/><circle cx="1442.7" cy="706.2" r="7"/><circle cx="1442.7" cy="711.6" r="7"/><circle cx="1442.7" cy="717" r="7"/><circle cx="1442.7" cy="722.4" r="7"/><circle cx="1442.7" cy="727.8" r="7"/><circle cx="1442.7" cy="733.2" r="7"/><circle cx="1442.7" cy="738.6" r="7"/><circle cx="1442.7" cy="744" r="7"/><circle cx="1442.7" cy="749.5" r="7"/><circle cx="1442.9" cy="747.6" r="7"/><circle cx="1442.9" cy="742.2" r="7"/><circle cx="1443" cy="736.8" r="7"/><circle cx="1443" cy="731.4" r="7"/><circle cx="1443" cy="726" r="7"/><circle cx="1443" cy="720.6" r="7"/><circle cx="1443.1" cy="715.2" r="7"/><circle cx="1443.1" cy="709.8" r="7"/><circle cx="1443.1" cy="704.5" r="7"/><circle cx="1443.1" cy="699" r="7"/><circle cx="1443.2" cy="693.6" r="7"/><circle cx="1443.2" cy="688.2" r="7"/><circle cx="1443.2" cy="682.9" r="7"/><circle cx="1443.2" cy="677.5" r="7"/><circle cx="1444.5" cy="675.6" r="7"/><circle cx="1444.5" cy="681" r="7"/><circle cx="1444.5" cy="686.5" r="7"/><circle cx="1444.5" cy="691.9" r="7"/><circle cx="1444.5" cy="697.2" r="7"/><circle cx="1444.5" cy="702.6" r="7"/><circle cx="1444.5" cy="708" r="7"/><circle cx="1444.5" cy="713.4" r="7"/><circle cx="1444.5" cy="718.8" r="7"/><circle cx="1444.5" cy="724.2" r="7"/><circle cx="1444.5" cy="729.6" r="7"/><circle cx="1444.5" cy="735" r="7"/><circle cx="1444.5" cy="740.4" r="7"/><circle cx="1444.5" cy="745.9" r="7"/><circle cx="1444.5" cy="751.2" r="7"/><circle cx="1459.3" cy="660.5" r="7"/><circle cx="1459.3" cy="666" r="7"/><circle cx="1459.3" cy="671.4" r="7"/><circle cx="1459.3" cy="676.8" r="7"/><circle cx="1459.3" cy="682.1" r="7"/><circle cx="1459.3" cy="687.5" r="7"/><circle cx="1459.3" cy="693" r="7"/><circle cx="1459.3" cy="698.3" r="7"/><circle cx="1459.3" cy="703.8" r="7"/><circle cx="1459.3" cy="709.1" r="7"/><circle cx="1459.3" cy="714.5" r="7"/><circle cx="1459.3" cy="719.9" r="7"/><circle cx="1459.3" cy="725.3" r="7"/><circle cx="1459.3" cy="730.8" r="7"/><circle cx="1459.3" cy="736.2" r="7"/><circle cx="1459.3" cy="741.6" r="7"/><circle cx="1459.3" cy="747" r="7"/><circle cx="1459.5" cy="745.2" r="7"/><circle cx="1459.5" cy="739.8" r="7"/><circle cx="1459.5" cy="734.4" r="7"/><circle cx="1459.5" cy="729" r="7"/><circle cx="1459.6" cy="723.5" r="7"/><circle cx="1459.6" cy="718.1" r="7"/><circle cx="1459.6" cy="712.8" r="7"/><circle cx="1459.6" cy="707.3" r="7"/><circle cx="1459.7" cy="701.9" r="7"/><circle cx="1459.7" cy="696.5" r="7"/><circle cx="1459.7" cy="691.1" r="7"/><circle cx="1459.7" cy="685.8" r="7"/><circle cx="1459.7" cy="680.4" r="7"/><circle cx="1459.8" cy="675" r="7"/><circle cx="1459.8" cy="669.5" r="7"/><circle cx="1459.8" cy="664.1" r="7"/><circle cx="1459.8" cy="658.8" r="7"/><circle cx="1461.1" cy="659.6" r="7"/><circle cx="1461.1" cy="665" r="7"/><circle cx="1461.1" cy="670.5" r="7"/><circle cx="1461.1" cy="675.9" r="7"/><circle cx="1461.1" cy="681.2" r="7"/><circle cx="1461.1" cy="686.6" r="7"/><circle cx="1461.1" cy="692" r="7"/><circle cx="1461.1" cy="697.4" r="7"/><circle cx="1461.1" cy="702.8" r="7"/><circle cx="1461.1" cy="708.2" r="7"/><circle cx="1461.1" cy="713.6" r="7"/><circle cx="1461.1" cy="719" r="7"/><circle cx="1461.1" cy="724.4" r="7"/><circle cx="1461.1" cy="729.9" r="7"/><circle cx="1461.1" cy="735.2" r="7"/><circle cx="1461.1" cy="740.7" r="7"/><circle cx="1461.1" cy="746.1" r="7"/><circle cx="1461.1" cy="751.5" r="7"/><circle cx="1475.6" cy="647.2" r="7"/><circle cx="1475.6" cy="652.6" r="7"/><circle cx="1475.6" cy="658" r="7"/><circle cx="1475.6" cy="663.5" r="7"/><circle cx="1475.6" cy="668.8" r="7"/><circle cx="1475.6" cy="674.2" r="7"/><circle cx="1475.6" cy="679.6" r="7"/><circle cx="1475.6" cy="685" r="7"/><circle cx="1475.6" cy="690.4" r="7"/><circle cx="1475.6" cy="695.8" r="7"/><circle cx="1475.6" cy="701.2" r="7"/><circle cx="1475.6" cy="706.6" r="7"/><circle cx="1475.6" cy="712" r="7"/><circle cx="1475.6" cy="717.5" r="7"/><circle cx="1475.6" cy="722.9" r="7"/><circle cx="1475.6" cy="728.3" r="7"/><circle cx="1475.6" cy="733.7" r="7"/><circle cx="1475.6" cy="739.1" r="7"/><circle cx="1475.6" cy="744.5" r="7"/><circle cx="1475.6" cy="749.9" r="7"/><circle cx="1475.6" cy="753" r="7"/><circle cx="1475.7" cy="748.1" r="7"/><circle cx="1475.7" cy="742.7" r="7"/><circle cx="1475.7" cy="737.3" r="7"/><circle cx="1475.8" cy="731.9" r="7"/><circle cx="1475.8" cy="726.5" r="7"/><circle cx="1475.8" cy="721.1" r="7"/><circle cx="1475.8" cy="715.6" r="7"/><circle cx="1475.9" cy="710.2" r="7"/><circle cx="1475.9" cy="704.8" r="7"/><circle cx="1475.9" cy="699.4" r="7"/><circle cx="1475.9" cy="694" r="7"/><circle cx="1475.9" cy="688.6" r="7"/><circle cx="1476" cy="683.2" r="7"/><circle cx="1476" cy="677.8" r="7"/><circle cx="1476" cy="672.5" r="7"/><circle cx="1476" cy="667" r="7"/><circle cx="1476.1" cy="661.6" r="7"/><circle cx="1476.1" cy="656.2" r="7"/><circle cx="1476.1" cy="650.9" r="7"/><circle cx="1476.1" cy="645.5" r="7"/><circle cx="1476.8" cy="643.6" r="7"/><circle cx="1476.8" cy="649" r="7"/><circle cx="1476.8" cy="654.5" r="7"/><circle cx="1476.8" cy="659.9" r="7"/><circle cx="1476.8" cy="665.2" r="7"/><circle cx="1476.9" cy="670.6" r="7"/><circle cx="1476.9" cy="676" r="7"/><circle cx="1476.9" cy="681.4" r="7"/><circle cx="1476.9" cy="686.8" r="7"/><circle cx="1476.9" cy="692.2" r="7"/><circle cx="1476.9" cy="697.6" r="7"/><circle cx="1476.9" cy="703" r="7"/><circle cx="1476.9" cy="708.4" r="7"/><circle cx="1476.9" cy="713.9" r="7"/><circle cx="1476.9" cy="719.2" r="7"/><circle cx="1476.9" cy="724.7" r="7"/><circle cx="1477" cy="730.1" r="7"/><circle cx="1477" cy="735.5" r="7"/><circle cx="1477" cy="740.9" r="7"/><circle cx="1477" cy="746.3" r="7"/><circle cx="1477" cy="751.7" r="7"/><circle cx="1492.3" cy="742.9" r="7"/><circle cx="1505.8" cy="607.2" r="7"/><circle cx="1505.6" cy="730.5" r="7"/><circle cx="1507" cy="729.6" r="7"/><circle cx="1521.3" cy="714.3" r="7"/><circle cx="1534.6" cy="699" r="7"/><circle cx="1547.2" cy="565.5" r="7"/><circle cx="1547.7" cy="681.4" r="7"/><circle cx="1561.4" cy="744.8" r="7"/><circle cx="1561.4" cy="738.9" r="7"/><circle cx="1561.5" cy="732.9" r="7"/><circle cx="1561.5" cy="727" r="7"/><circle cx="1561.6" cy="721" r="7"/><circle cx="1561.6" cy="715.9" r="7"/><circle cx="1571.7" cy="642.4" r="7"/><circle cx="1574.4" cy="680.9" r="7"/><circle cx="1574.4" cy="676.5" r="7"/><circle cx="1584" cy="621.9" r="7"/><circle cx="1586.6" cy="644.7" r="7"/><circle cx="1586.7" cy="640.3" r="7"/><circle cx="1587.6" cy="564.5" r="7"/><circle cx="1594.8" cy="596" r="7"/><circle cx="1598" cy="611.8" r="7"/><circle cx="1598.1" cy="607.3" r="7"/><circle cx="1607.5" cy="571" r="7"/><circle cx="1609.1" cy="578.2" r="7"/><circle cx="1609.1" cy="574.2" r="7"/><circle cx="1609.2" cy="564.7" r="7"/><circle cx="1619.2" cy="698.9" r="7"/><circle cx="1640" cy="653.5" r="7"/></g><g fill-opacity="0.49" stroke-opacity="0.49"><circle cx="1442.8" cy="753.2" r="7"/><circle cx="1459.7" cy="656.2" r="7"/><circle cx="1520" cy="589.2" r="7"/><circle cx="1548.8" cy="746.2" r="7"/><circle cx="1561.2" cy="750.4" r="7"/><circle cx="1561.6" cy="711.7" r="7"/><circle cx="1574.4" cy="672.7" r="7"/><circle cx="1586.7" cy="636.5" r="7"/><circle cx="1598.1" cy="603.5" r="7"/><circle cx="1609.2" cy="570.7" r="7"/></g><g fill-opacity="0.59" stroke-opacity="0.59"><circle cx="1459.4" cy="751.5" r="7"/><circle cx="1535.5" cy="753.3" r="7"/><circle cx="1548.6" cy="751.5" r="7"/><circle cx="1548.8" cy="742.2" r="7"/><circle cx="1552.9" cy="565.1" r="7"/><circle cx="1561.7" cy="707.6" r="7"/><circle cx="1564.4" cy="565.2" r="7"/><circle cx="1574.5" cy="668.9" r="7"/><circle cx="1576.2" cy="565.2" r="7"/><circle cx="1586.7" cy="632.7" r="7"/><circle cx="1598.1" cy="599.7" r="7"/><circle cx="1609.2" cy="567.1" r="7"/></g><g fill-opacity="0.67" stroke-opacity="0.67"><circle cx="1389.9" cy="716.3" r="7"/><circle cx="1535.8" cy="750" r="7"/><circle cx="1548.9" cy="738.5" r="7"/><circle cx="1561.7" cy="703.8" r="7"/><circle cx="1574.5" cy="665.3" r="7"/><circle cx="1586.8" cy="629.2" r="7"/><circle cx="1598.2" cy="596.1" r="7"/></g><g fill-opacity="0.74" stroke-opacity="0.74"><circle cx="1329.6" cy="752.4" r="7"/><circle cx="1535.8" cy="746.8" r="7"/><circle cx="1548.9" cy="735.1" r="7"/><circle cx="1561.7" cy="700.4" r="7"/><circle cx="1574.5" cy="662" r="7"/><circle cx="1586.8" cy="625.9" r="7"/><circle cx="1598.2" cy="592.8" r="7"/><circle cx="1598.5" cy="565.3" r="7"/></g><g fill-opacity="0.79" stroke-opacity="0.79"><circle cx="1327.2" cy="753.4" r="7"/><circle cx="1342.2" cy="753.1" r="7"/><circle cx="1343.4" cy="749.8" r="7"/><circle cx="1344.8" cy="746.7" r="7"/><circle cx="1346.7" cy="743.9" r="7"/><circle cx="1349.3" cy="741.7" r="7"/><circle cx="1360" cy="752.7" r="7"/><circle cx="1360.6" cy="749.3" r="7"/><circle cx="1361.3" cy="745.9" r="7"/><circle cx="1362.2" cy="742.5" r="7"/><circle cx="1363.2" cy="739.2" r="7"/><circle cx="1364.5" cy="736" r="7"/><circle cx="1366.1" cy="733" r="7"/><circle cx="1368.2" cy="730.3" r="7"/><circle cx="1370.6" cy="729.2" r="7"/><circle cx="1378.1" cy="752.9" r="7"/><circle cx="1378.5" cy="749.4" r="7"/><circle cx="1378.9" cy="745.9" r="7"/><circle cx="1379.4" cy="742.5" r="7"/><circle cx="1379.9" cy="739.1" r="7"/><circle cx="1380.5" cy="735.7" r="7"/><circle cx="1381.2" cy="732.3" r="7"/><circle cx="1382" cy="728.9" r="7"/><circle cx="1383" cy="725.6" r="7"/><circle cx="1384.3" cy="722.4" r="7"/><circle cx="1385.9" cy="719.4" r="7"/><circle cx="1388.1" cy="716.8" r="7"/><circle cx="1396.7" cy="752.7" r="7"/><circle cx="1397" cy="749.2" r="7"/><circle cx="1397.2" cy="745.8" r="7"/><circle cx="1397.5" cy="742.3" r="7"/><circle cx="1397.8" cy="738.9" r="7"/><circle cx="1398.1" cy="735.4" r="7"/><circle cx="1398.5" cy="731.9" r="7"/><circle cx="1399" cy="728.5" r="7"/><circle cx="1399.5" cy="725.1" r="7"/><circle cx="1400" cy="721.7" r="7"/><circle cx="1400.7" cy="718.3" r="7"/><circle cx="1401.5" cy="714.9" r="7"/><circle cx="1402.5" cy="711.6" r="7"/><circle cx="1403.7" cy="708.4" r="7"/><circle cx="1405.3" cy="705.4" r="7"/><circle cx="1407.6" cy="702.9" r="7"/><circle cx="1414" cy="752.6" r="7"/><circle cx="1414.1" cy="749.2" r="7"/><circle cx="1414.3" cy="745.7" r="7"/><circle cx="1414.5" cy="742.2" r="7"/><circle cx="1414.7" cy="738.7" r="7"/><circle cx="1414.9" cy="735.3" r="7"/><circle cx="1415.2" cy="731.8" r="7"/><circle cx="1415.4" cy="728.3" r="7"/><circle cx="1415.7" cy="724.9" r="7"/><circle cx="1416.1" cy="721.4" r="7"/><circle cx="1416.4" cy="717.9" r="7"/><circle cx="1416.9" cy="714.5" r="7"/><circle cx="1417.3" cy="711.1" r="7"/><circle cx="1417.9" cy="707.6" r="7"/><circle cx="1418.5" cy="704.3" r="7"/><circle cx="1419.3" cy="700.9" r="7"/><circle cx="1420.3" cy="697.6" r="7"/><circle cx="1421.4" cy="694.3" r="7"/><circle cx="1423" cy="691.3" r="7"/><circle cx="1425.2" cy="688.8" r="7"/><circle cx="1431.4" cy="753" r="7"/><circle cx="1431.5" cy="749.5" r="7"/><circle cx="1431.7" cy="746" r="7"/><circle cx="1431.8" cy="742.5" r="7"/><circle cx="1431.9" cy="739" r="7"/><circle cx="1432.1" cy="735.5" r="7"/><circle cx="1432.2" cy="732.1" r="7"/><circle cx="1432.4" cy="728.6" r="7"/><circle cx="1432.5" cy="725.1" r="7"/><circle cx="1432.7" cy="721.6" r="7"/><circle cx="1433" cy="718.2" r="7"/><circle cx="1433.2" cy="714.7" r="7"/><circle cx="1433.4" cy="711.2" r="7"/><circle cx="1433.7" cy="707.8" r="7"/><circle cx="1434" cy="704.3" r="7"/><circle cx="1434.4" cy="700.8" r="7"/><circle cx="1434.8" cy="697.4" r="7"/><circle cx="1435.2" cy="694" r="7"/><circle cx="1435.8" cy="690.5" r="7"/><circle cx="1436.4" cy="687.1" r="7"/><circle cx="1437.1" cy="683.8" r="7"/><circle cx="1438.1" cy="680.5" r="7"/><circle cx="1439.2" cy="677.2" r="7"/><circle cx="1440.9" cy="674.2" r="7"/><circle cx="1442.8" cy="672.7" r="7"/><circle cx="1447.9" cy="753" r="7"/><circle cx="1447.9" cy="749.5" r="7"/><circle cx="1448" cy="746" r="7"/><circle cx="1448.1" cy="742.5" r="7"/><circle cx="1448.2" cy="739.1" r="7"/><circle cx="1448.3" cy="735.6" r="7"/><circle cx="1448.4" cy="732.1" r="7"/><circle cx="1448.6" cy="728.6" r="7"/><circle cx="1448.7" cy="725.1" r="7"/><circle cx="1448.8" cy="721.6" r="7"/><circle cx="1449" cy="718.2" r="7"/><circle cx="1449.1" cy="714.7" r="7"/><circle cx="1449.3" cy="711.2" r="7"/><circle cx="1449.5" cy="707.7" r="7"/><circle cx="1449.7" cy="704.2" r="7"/><circle cx="1449.9" cy="700.8" r="7"/><circle cx="1450.1" cy="697.3" r="7"/><circle cx="1450.4" cy="693.8" r="7"/><circle cx="1450.7" cy="690.4" r="7"/><circle cx="1451" cy="686.9" r="7"/><circle cx="1451.4" cy="683.5" r="7"/><circle cx="1451.8" cy="680" r="7"/><circle cx="1452.3" cy="676.6" r="7"/><circle cx="1452.8" cy="673.2" r="7"/><circle cx="1453.5" cy="669.8" r="7"/><circle cx="1454.3" cy="666.4" r="7"/><circle cx="1455.2" cy="663.1" r="7"/><circle cx="1456.5" cy="660" r="7"/><circle cx="1458.4" cy="657.2" r="7"/><circle cx="1463.8" cy="753" r="7"/><circle cx="1463.8" cy="749.5" r="7"/><circle cx="1463.9" cy="746" r="7"/><circle cx="1464" cy="742.5" r="7"/><circle cx="1464" cy="739" r="7"/><circle cx="1464.1" cy="735.5" r="7"/><circle cx="1464.2" cy="732" r="7"/><circle cx="1464.3" cy="728.5" r="7"/><circle cx="1464.4" cy="725" r="7"/><circle cx="1464.5" cy="721.6" r="7"/><circle cx="1464.6" cy="718.1" r="7"/><circle cx="1464.7" cy="714.6" r="7"/><circle cx="1464.8" cy="711.1" r="7"/><circle cx="1465" cy="707.6" r="7"/><circle cx="1465.1" cy="704.1" r="7"/><circle cx="1465.2" cy="700.7" r="7"/><circle cx="1465.4" cy="697.2" r="7"/><circle cx="1465.6" cy="693.7" r="7"/><circle cx="1465.8" cy="690.2" r="7"/><circle cx="1466" cy="686.8" r="7"/><circle cx="1466.2" cy="683.3" r="7"/><circle cx="1466.4" cy="679.8" r="7"/><circle cx="1466.7" cy="676.4" r="7"/><circle cx="1467" cy="672.9" r="7"/><circle cx="1467.3" cy="669.4" r="7"/><circle cx="1467.7" cy="666" r="7"/><circle cx="1468.1" cy="662.6" r="7"/><circle cx="1468.6" cy="659.1" r="7"/><circle cx="1469.2" cy="655.7" r="7"/><circle cx="1469.9" cy="652.3" r="7"/><circle cx="1470.7" cy="649" r="7"/><circle cx="1471.8" cy="645.7" r="7"/><circle cx="1473.3" cy="642.7" r="7"/><circle cx="1475.2" cy="640.9" r="7"/><circle cx="1479.3" cy="752.9" r="7"/><circle cx="1479.3" cy="749.4" r="7"/><circle cx="1479.4" cy="745.9" r="7"/><circle cx="1479.5" cy="742.4" r="7"/><circle cx="1479.5" cy="738.9" r="7"/><circle cx="1479.6" cy="735.5" r="7"/><circle cx="1479.6" cy="732" r="7"/><circle cx="1479.7" cy="728.5" r="7"/><circle cx="1479.8" cy="725" r="7"/><circle cx="1479.8" cy="721.5" r="7"/><circle cx="1479.9" cy="718" r="7"/><circle cx="1480" cy="714.5" r="7"/><circle cx="1480.1" cy="711" r="7"/><circle cx="1480.2" cy="707.6" r="7"/><circle cx="1480.3" cy="704.1" r="7"/><circle cx="1480.4" cy="700.6" r="7"/><circle cx="1480.5" cy="697.1" r="7"/><circle cx="1480.6" cy="693.6" r="7"/><circle cx="1480.7" cy="690.1" r="7"/><circle cx="1480.9" cy="686.7" r="7"/><circle cx="1481" cy="683.2" r="7"/><circle cx="1481.2" cy="679.7" r="7"/><circle cx="1481.3" cy="676.2" r="7"/><circle cx="1481.5" cy="672.7" r="7"/><circle cx="1481.7" cy="669.3" r="7"/><circle cx="1481.9" cy="665.8" r="7"/><circle cx="1482.2" cy="662.3" r="7"/><circle cx="1482.4" cy="658.9" r="7"/><circle cx="1482.7" cy="655.4" r="7"/><circle cx="1483" cy="651.9" r="7"/><circle cx="1483.4" cy="648.5" r="7"/><circle cx="1483.8" cy="645" r="7"/><circle cx="1484.2" cy="641.6" r="7"/><circle cx="1484.8" cy="638.2" r="7"/><circle cx="1485.4" cy="634.8" r="7"/><circle cx="1486.2" cy="631.4" r="7"/><circle cx="1487.2" cy="628.2" r="7"/><circle cx="1488.5" cy="625" r="7"/><circle cx="1490.4" cy="622.6" r="7"/><circle cx="1493.9" cy="752.9" r="7"/><circle cx="1494" cy="749.4" r="7"/><circle cx="1494" cy="745.9" r="7"/><circle cx="1494.1" cy="742.4" r="7"/><circle cx="1494.1" cy="738.9" r="7"/><circle cx="1494.2" cy="735.4" r="7"/><circle cx="1494.2" cy="731.9" r="7"/><circle cx="1494.3" cy="728.4" r="7"/><circle cx="1494.3" cy="724.9" r="7"/><circle cx="1494.4" cy="721.5" r="7"/><circle cx="1494.4" cy="718" r="7"/><circle cx="1494.5" cy="714.5" r="7"/><circle cx="1494.6" cy="711" r="7"/><circle cx="1494.7" cy="707.5" r="7"/><circle cx="1494.7" cy="704" r="7"/><circle cx="1494.8" cy="700.5" r="7"/><circle cx="1494.9" cy="697" r="7"/><circle cx="1495" cy="693.6" r="7"/><circle cx="1495.1" cy="690.1" r="7"/><circle cx="1495.2" cy="686.6" r="7"/><circle cx="1495.3" cy="683.1" r="7"/><circle cx="1495.4" cy="679.6" r="7"/><circle cx="1495.5" cy="676.1" r="7"/><circle cx="1495.7" cy="672.7" r="7"/><circle cx="1495.8" cy="669.2" r="7"/><circle cx="1495.9" cy="665.7" r="7"/><circle cx="1496.1" cy="662.2" r="7"/><circle cx="1496.3" cy="658.7" r="7"/><circle cx="1496.5" cy="655.3" r="7"/><circle cx="1496.7" cy="651.8" r="7"/><circle cx="1496.9" cy="648.3" r="7"/><circle cx="1497.2" cy="644.9" r="7"/><circle cx="1497.4" cy="641.4" r="7"/><circle cx="1497.7" cy="637.9" r="7"/><circle cx="1498.1" cy="634.5" r="7"/><circle cx="1498.5" cy="631" r="7"/><circle cx="1498.9" cy="627.6" r="7"/><circle cx="1499.4" cy="624.2" r="7"/><circle cx="1500" cy="620.8" r="7"/><circle cx="1500.8" cy="617.4" r="7"/><circle cx="1501.7" cy="614.1" r="7"/><circle cx="1502.9" cy="610.9" r="7"/><circle cx="1504.6" cy="608" r="7"/><circle cx="1508.3" cy="753.2" r="7"/><circle cx="1508.5" cy="749.8" r="7"/><circle cx="1508.6" cy="746.3" r="7"/><circle cx="1508.6" cy="742.8" r="7"/><circle cx="1508.7" cy="739.3" r="7"/><circle cx="1508.7" cy="735.8" r="7"/><circle cx="1508.8" cy="732.3" r="7"/><circle cx="1508.8" cy="728.8" r="7"/><circle cx="1508.9" cy="725.3" r="7"/><circle cx="1508.9" cy="721.8" r="7"/><circle cx="1509" cy="718.3" r="7"/><circle cx="1509.1" cy="714.8" r="7"/><circle cx="1509.1" cy="711.3" r="7"/><circle cx="1509.2" cy="707.9" r="7"/><circle cx="1509.3" cy="704.4" r="7"/><circle cx="1509.3" cy="700.9" r="7"/><circle cx="1509.4" cy="697.4" r="7"/><circle cx="1509.5" cy="693.9" r="7"/><circle cx="1509.6" cy="690.4" r="7"/><circle cx="1509.7" cy="686.9" r="7"/><circle cx="1509.8" cy="683.4" r="7"/><circle cx="1509.9" cy="679.9" r="7"/><circle cx="1510" cy="676.5" r="7"/><circle cx="1510.1" cy="673" r="7"/><circle cx="1510.2" cy="669.5" r="7"/><circle cx="1510.3" cy="666" r="7"/><circle cx="1510.4" cy="662.5" r="7"/><circle cx="1510.6" cy="659" r="7"/><circle cx="1510.7" cy="655.5" r="7"/><circle cx="1510.8" cy="652.1" r="7"/><circle cx="1511" cy="648.6" r="7"/><circle cx="1511.2" cy="645.1" r="7"/><circle cx="1511.4" cy="641.6" r="7"/><circle cx="1511.6" cy="638.1" r="7"/><circle cx="1511.8" cy="634.7" r="7"/><circle cx="1512" cy="631.2" r="7"/><circle cx="1512.3" cy="627.7" r="7"/><circle cx="1512.5" cy="624.3" r="7"/><circle cx="1512.8" cy="620.8" r="7"/><circle cx="1513.2" cy="617.3" r="7"/><circle cx="1513.5" cy="613.9" r="7"/><circle cx="1514" cy="610.4" r="7"/><circle cx="1514.4" cy="607" r="7"/><circle cx="1515" cy="603.6" r="7"/><circle cx="1515.6" cy="600.2" r="7"/><circle cx="1516.4" cy="596.8" r="7"/><circle cx="1517.4" cy="593.6" r="7"/><circle cx="1518.8" cy="590.5" r="7"/><circle cx="1522.4" cy="753.1" r="7"/><circle cx="1522.6" cy="749.7" r="7"/><circle cx="1522.7" cy="746.2" r="7"/><circle cx="1522.7" cy="742.7" r="7"/><circle cx="1522.7" cy="739.2" r="7"/><circle cx="1522.8" cy="735.7" r="7"/><circle cx="1522.8" cy="732.2" r="7"/><circle cx="1522.9" cy="728.7" r="7"/><circle cx="1522.9" cy="725.2" r="7"/><circle cx="1523" cy="721.7" r="7"/><circle cx="1523" cy="718.2" r="7"/><circle cx="1523.1" cy="714.7" r="7"/><circle cx="1523.1" cy="711.2" r="7"/><circle cx="1523.2" cy="707.7" r="7"/><circle cx="1523.2" cy="704.2" r="7"/><circle cx="1523.3" cy="700.8" r="7"/><circle cx="1523.3" cy="697.3" r="7"/><circle cx="1523.4" cy="693.8" r="7"/><circle cx="1523.4" cy="690.3" r="7"/><circle cx="1523.5" cy="686.8" r="7"/><circle cx="1523.6" cy="683.3" r="7"/><circle cx="1523.7" cy="679.8" r="7"/><circle cx="1523.7" cy="676.3" r="7"/><circle cx="1523.8" cy="672.8" r="7"/><circle cx="1523.9" cy="669.3" r="7"/><circle cx="1524" cy="665.9" r="7"/><circle cx="1524.1" cy="662.4" r="7"/><circle cx="1524.2" cy="658.9" r="7"/><circle cx="1524.3" cy="655.4" r="7"/><circle cx="1524.4" cy="651.9" r="7"/><circle cx="1524.5" cy="648.4" r="7"/><circle cx="1524.6" cy="644.9" r="7"/><circle cx="1524.7" cy="641.5" r="7"/><circle cx="1524.8" cy="638" r="7"/><circle cx="1525" cy="634.5" r="7"/><circle cx="1525.1" cy="631" r="7"/><circle cx="1525.3" cy="627.5" r="7"/><circle cx="1525.5" cy="624" r="7"/><circle cx="1525.7" cy="620.6" r="7"/><circle cx="1525.9" cy="617.1" r="7"/><circle cx="1526.1" cy="613.6" r="7"/><circle cx="1526.3" cy="610.1" r="7"/><circle cx="1526.6" cy="606.7" r="7"/><circle cx="1526.8" cy="603.2" r="7"/><circle cx="1527.1" cy="599.8" r="7"/><circle cx="1527.5" cy="596.3" r="7"/><circle cx="1527.9" cy="592.9" r="7"/><circle cx="1528.3" cy="589.4" r="7"/><circle cx="1528.8" cy="586" r="7"/><circle cx="1529.5" cy="582.6" r="7"/><circle cx="1530.2" cy="579.2" r="7"/><circle cx="1531.2" cy="575.9" r="7"/><circle cx="1535.8" cy="743.5" r="7"/><circle cx="1535.9" cy="740" r="7"/><circle cx="1535.9" cy="736.5" r="7"/><circle cx="1535.9" cy="733.1" r="7"/><circle cx="1536" cy="729.6" r="7"/><circle cx="1536" cy="726.1" r="7"/><circle cx="1536.1" cy="722.6" r="7"/><circle cx="1536.1" cy="719.1" r="7"/><circle cx="1536.1" cy="715.6" r="7"/><circle cx="1536.2" cy="712.1" r="7"/><circle cx="1536.2" cy="708.6" r="7"/><circle cx="1536.3" cy="705.1" r="7"/><circle cx="1536.3" cy="701.6" r="7"/><circle cx="1536.4" cy="698.1" r="7"/><circle cx="1536.4" cy="694.6" r="7"/><circle cx="1536.5" cy="691.1" r="7"/><circle cx="1536.5" cy="687.6" r="7"/><circle cx="1536.6" cy="684.2" r="7"/><circle cx="1536.6" cy="680.7" r="7"/><circle cx="1536.7" cy="677.2" r="7"/><circle cx="1536.7" cy="673.7" r="7"/><circle cx="1536.8" cy="670.2" r="7"/><circle cx="1536.9" cy="666.7" r="7"/><circle cx="1536.9" cy="663.2" r="7"/><circle cx="1537" cy="659.7" r="7"/><circle cx="1537.1" cy="656.2" r="7"/><circle cx="1537.2" cy="652.7" r="7"/><circle cx="1537.2" cy="649.3" r="7"/><circle cx="1537.3" cy="645.8" r="7"/><circle cx="1537.4" cy="642.3" r="7"/><circle cx="1537.5" cy="638.8" r="7"/><circle cx="1537.6" cy="635.3" r="7"/><circle cx="1537.7" cy="631.8" r="7"/><circle cx="1537.8" cy="628.3" r="7"/><circle cx="1537.9" cy="624.8" r="7"/><circle cx="1538.1" cy="621.4" r="7"/><circle cx="1538.2" cy="617.9" r="7"/><circle cx="1538.3" cy="614.4" r="7"/><circle cx="1538.5" cy="610.9" r="7"/><circle cx="1538.6" cy="607.4" r="7"/><circle cx="1538.8" cy="604" r="7"/><circle cx="1539" cy="600.5" r="7"/><circle cx="1539.2" cy="597" r="7"/><circle cx="1539.4" cy="593.5" r="7"/><circle cx="1539.6" cy="590.1" r="7"/><circle cx="1539.9" cy="586.6" r="7"/><circle cx="1540.2" cy="583.1" r="7"/><circle cx="1540.5" cy="579.7" r="7"/><circle cx="1540.8" cy="576.2" r="7"/><circle cx="1541.2" cy="572.8" r="7"/><circle cx="1541.6" cy="569.3" r="7"/><circle cx="1542.1" cy="565.9" r="7"/><circle cx="1548.9" cy="731.8" r="7"/><circle cx="1548.9" cy="728.3" r="7"/><circle cx="1549" cy="724.8" r="7"/><circle cx="1549" cy="721.3" r="7"/><circle cx="1549" cy="717.8" r="7"/><circle cx="1549.1" cy="714.3" r="7"/><circle cx="1549.1" cy="710.8" r="7"/><circle cx="1549.1" cy="707.3" r="7"/><circle cx="1549.2" cy="703.8" r="7"/><circle cx="1549.2" cy="700.3" r="7"/><circle cx="1549.2" cy="696.9" r="7"/><circle cx="1549.3" cy="693.4" r="7"/><circle cx="1549.3" cy="689.9" r="7"/><circle cx="1549.4" cy="686.4" r="7"/><circle cx="1549.4" cy="682.9" r="7"/><circle cx="1549.4" cy="679.4" r="7"/><circle cx="1549.5" cy="675.9" r="7"/><circle cx="1549.5" cy="672.4" r="7"/><circle cx="1549.6" cy="668.9" r="7"/><circle cx="1549.6" cy="665.4" r="7"/><circle cx="1549.7" cy="661.9" r="7"/><circle cx="1549.8" cy="658.4" r="7"/><circle cx="1549.8" cy="654.9" r="7"/><circle cx="1549.9" cy="651.5" r="7"/><circle cx="1549.9" cy="648" r="7"/><circle cx="1550" cy="644.5" r="7"/><circle cx="1550.1" cy="641" r="7"/><circle cx="1550.1" cy="637.5" r="7"/><circle cx="1550.2" cy="634" r="7"/><circle cx="1550.3" cy="630.5" r="7"/><circle cx="1550.4" cy="627" r="7"/><circle cx="1550.4" cy="623.5" r="7"/><circle cx="1550.5" cy="620" r="7"/><circle cx="1550.6" cy="616.6" r="7"/><circle cx="1550.7" cy="613.1" r="7"/><circle cx="1550.8" cy="609.6" r="7"/><circle cx="1550.9" cy="606.1" r="7"/><circle cx="1551" cy="602.6" r="7"/><circle cx="1551.2" cy="599.1" r="7"/><circle cx="1551.3" cy="595.7" r="7"/><circle cx="1551.4" cy="592.2" r="7"/><circle cx="1551.6" cy="588.7" r="7"/><circle cx="1551.7" cy="585.2" r="7"/><circle cx="1551.9" cy="581.7" r="7"/><circle cx="1552.1" cy="578.2" r="7"/><circle cx="1552.3" cy="574.8" r="7"/><circle cx="1552.5" cy="571.3" r="7"/><circle cx="1552.7" cy="567.8" r="7"/><circle cx="1561.8" cy="697.1" r="7"/><circle cx="1561.8" cy="693.6" r="7"/><circle cx="1561.8" cy="690.1" r="7"/><circle cx="1561.9" cy="686.6" r="7"/><circle cx="1561.9" cy="683.1" r="7"/><circle cx="1562" cy="679.6" r="7"/><circle cx="1562" cy="676.1" r="7"/><circle cx="1562" cy="672.6" r="7"/><circle cx="1562.1" cy="669.2" r="7"/><circle cx="1562.1" cy="665.7" r="7"/><circle cx="1562.2" cy="662.2" r="7"/><circle cx="1562.2" cy="658.7" r="7"/><circle cx="1562.2" cy="655.2" r="7"/><circle cx="1562.3" cy="651.7" r="7"/><circle cx="1562.3" cy="648.2" r="7"/><circle cx="1562.4" cy="644.7" r="7"/><circle cx="1562.4" cy="641.2" r="7"/><circle cx="1562.5" cy="637.7" r="7"/><circle cx="1562.6" cy="634.2" r="7"/><circle cx="1562.6" cy="630.7" r="7"/><circle cx="1562.7" cy="627.2" r="7"/><circle cx="1562.7" cy="623.8" r="7"/><circle cx="1562.8" cy="620.3" r="7"/><circle cx="1562.9" cy="616.8" r="7"/><circle cx="1563" cy="613.3" r="7"/><circle cx="1563" cy="609.8" r="7"/><circle cx="1563.1" cy="606.3" r="7"/><circle cx="1563.2" cy="602.8" r="7"/><circle cx="1563.3" cy="599.3" r="7"/><circle cx="1563.4" cy="595.8" r="7"/><circle cx="1563.5" cy="592.4" r="7"/><circle cx="1563.6" cy="588.9" r="7"/><circle cx="1563.7" cy="585.4" r="7"/><circle cx="1563.8" cy="581.9" r="7"/><circle cx="1563.9" cy="578.4" r="7"/><circle cx="1564" cy="574.9" r="7"/><circle cx="1564.2" cy="571.4" r="7"/><circle cx="1564.3" cy="568" r="7"/><circle cx="1574.6" cy="658.8" r="7"/><circle cx="1574.6" cy="655.3" r="7"/><circle cx="1574.6" cy="651.8" r="7"/><circle cx="1574.7" cy="648.3" r="7"/><circle cx="1574.7" cy="644.8" r="7"/><circle cx="1574.8" cy="641.3" r="7"/><circle cx="1574.8" cy="637.8" r="7"/><circle cx="1574.9" cy="634.3" r="7"/><circle cx="1574.9" cy="630.8" r="7"/><circle cx="1574.9" cy="627.3" r="7"/><circle cx="1575" cy="623.8" r="7"/><circle cx="1575" cy="620.3" r="7"/><circle cx="1575.1" cy="616.8" r="7"/><circle cx="1575.2" cy="613.3" r="7"/><circle cx="1575.2" cy="609.9" r="7"/><circle cx="1575.3" cy="606.4" r="7"/><circle cx="1575.3" cy="602.9" r="7"/><circle cx="1575.4" cy="599.4" r="7"/><circle cx="1575.5" cy="595.9" r="7"/><circle cx="1575.5" cy="592.4" r="7"/><circle cx="1575.6" cy="588.9" r="7"/><circle cx="1575.7" cy="585.4" r="7"/><circle cx="1575.8" cy="581.9" r="7"/><circle cx="1575.8" cy="578.4" r="7"/><circle cx="1575.9" cy="575" r="7"/><circle cx="1576" cy="571.5" r="7"/><circle cx="1576.1" cy="568" r="7"/><circle cx="1586.8" cy="622.6" r="7"/><circle cx="1586.9" cy="619.1" r="7"/><circle cx="1586.9" cy="615.6" r="7"/><circle cx="1586.9" cy="612.1" r="7"/><circle cx="1587" cy="608.6" r="7"/><circle cx="1587" cy="605.2" r="7"/><circle cx="1587.1" cy="601.7" r="7"/><circle cx="1587.1" cy="598.2" r="7"/><circle cx="1587.2" cy="594.7" r="7"/><circle cx="1587.2" cy="591.2" r="7"/><circle cx="1587.2" cy="587.7" r="7"/><circle cx="1587.3" cy="584.2" r="7"/><circle cx="1587.3" cy="580.7" r="7"/><circle cx="1587.4" cy="577.2" r="7"/><circle cx="1587.5" cy="573.7" r="7"/><circle cx="1587.5" cy="570.2" r="7"/><circle cx="1587.6" cy="566.7" r="7"/><circle cx="1598.2" cy="589.5" r="7"/><circle cx="1598.3" cy="586" r="7"/><circle cx="1598.3" cy="582.5" r="7"/><circle cx="1598.4" cy="579" r="7"/><circle cx="1598.4" cy="575.5" r="7"/><circle cx="1598.4" cy="572.1" r="7"/><circle cx="1598.5" cy="568.6" r="7"/></g><g fill-opacity="0.83" stroke-opacity="0.83"><circle cx="1532.7" cy="572.9" r="7"/></g></g>
<line x1="1180.4" x2="1180.4" y1="592" y2="760" stroke="#008000" stroke-width="2"/>
<polygon points="1180.4,604.8 1185.1,619.2 1200.2,619.2 1188,628.1 1192.6,642.4 1180.4,633.5 1168.2,642.4 1172.8,628.1 1160.6,619.2 1175.7,619.2" fill="#ff0000" stroke="#ff0000" stroke-width="1.4" stroke-linejoin="miter"/>
<line x1="1180.4" x2="1180.4" y1="621.4" y2="753.6" stroke="#008000" stroke-width="12.8" stroke-linecap="round"/>
</g>
<g transform="translate(437 958.5) rotate(-80)"><text x="0" y="0" font-size="16.54" text-anchor="start" textLength="34.2" lengthAdjust="spacingAndGlyphs">n=1</text></g>
<g transform="translate(502 949.5) rotate(-80)"><text x="0" y="0" font-size="16.54" text-anchor="start" textLength="34.2" lengthAdjust="spacingAndGlyphs">n=2</text></g>
<g transform="translate(566.4 919.5) rotate(-80)"><text x="0" y="0" font-size="16.54" text-anchor="start" textLength="34.2" lengthAdjust="spacingAndGlyphs">n=3</text></g>
<g transform="translate(629.2 899.5) rotate(-80)"><text x="0" y="0" font-size="16.54" text-anchor="start" textLength="34.2" lengthAdjust="spacingAndGlyphs">n=4</text></g>
<g transform="translate(688.9 879.5) rotate(-80)"><text x="0" y="0" font-size="16.54" text-anchor="start" textLength="34.2" lengthAdjust="spacingAndGlyphs">n=5</text></g>
<g transform="translate(745.3 859.5) rotate(-80)"><text x="0" y="0" font-size="16.54" text-anchor="start" textLength="34.2" lengthAdjust="spacingAndGlyphs">n=6</text></g>
<g transform="translate(799.5 838.5) rotate(-80)"><text x="0" y="0" font-size="16.54" text-anchor="start" textLength="34.2" lengthAdjust="spacingAndGlyphs">n=7</text></g>
<g transform="translate(850.1 821) rotate(-80)"><text x="0" y="0" font-size="16.54" text-anchor="start" textLength="34.2" lengthAdjust="spacingAndGlyphs">n=8</text></g>
<g transform="translate(897.3 800) rotate(-80)"><text x="0" y="0" font-size="16.54" text-anchor="start" textLength="34.2" lengthAdjust="spacingAndGlyphs">n=9</text></g>
<g transform="translate(942.7 780) rotate(-80)"><text x="0" y="0" font-size="16.54" text-anchor="start" textLength="44.5" lengthAdjust="spacingAndGlyphs">n=10</text></g>
<g transform="translate(1024 739.5) rotate(-80)"><text x="0" y="0" font-size="16.54" text-anchor="start" textLength="44.5" lengthAdjust="spacingAndGlyphs">n=11</text></g>
<g transform="translate(1062.3 718.5) rotate(-80)"><text x="0" y="0" font-size="16.54" text-anchor="start" textLength="44.5" lengthAdjust="spacingAndGlyphs">n=12</text></g>
<g transform="translate(1097.5 694.9) rotate(-80)"><text x="0" y="0" font-size="16.54" text-anchor="start" textLength="44.5" lengthAdjust="spacingAndGlyphs">n=13</text></g>
<g transform="translate(1131 675.5) rotate(-80)"><text x="0" y="0" font-size="16.54" text-anchor="start" textLength="44.5" lengthAdjust="spacingAndGlyphs">n=14</text></g>
<g transform="translate(1162.5 652.5) rotate(-80)"><text x="0" y="0" font-size="16.54" text-anchor="start" textLength="44.5" lengthAdjust="spacingAndGlyphs">n=15</text></g>
<g transform="translate(1192 630.5) rotate(-80)"><text x="0" y="0" font-size="16.54" text-anchor="start" textLength="44.5" lengthAdjust="spacingAndGlyphs">n=16</text></g>
<g transform="translate(1220.2 605.5) rotate(-80)"><text x="0" y="0" font-size="16.54" text-anchor="start" textLength="44.5" lengthAdjust="spacingAndGlyphs">n=17</text></g>
<g transform="translate(1247.8 580.5) rotate(-80)"><text x="0" y="0" font-size="16.54" text-anchor="start" textLength="44.5" lengthAdjust="spacingAndGlyphs">n=18</text></g>
<g transform="translate(1273.5 557) rotate(-80)"><text x="0" y="0" font-size="16.54" text-anchor="start" textLength="44.5" lengthAdjust="spacingAndGlyphs">n=19</text></g>
<g transform="translate(1297.5 529.5) rotate(-80)"><text x="0" y="0" font-size="16.54" text-anchor="start" textLength="44.5" lengthAdjust="spacingAndGlyphs">n=20</text></g>
<g transform="translate(1320.5 504.5) rotate(-80)"><text x="0" y="0" font-size="16.54" text-anchor="start" textLength="44.5" lengthAdjust="spacingAndGlyphs">n=21</text></g>
<g transform="translate(1342.6 475.5) rotate(-80)"><text x="0" y="0" font-size="16.54" text-anchor="start" textLength="44.5" lengthAdjust="spacingAndGlyphs">n=22</text></g>
<g transform="translate(1363.3 448.5) rotate(-80)"><text x="0" y="0" font-size="16.54" text-anchor="start" textLength="44.5" lengthAdjust="spacingAndGlyphs">n=23</text></g>
<g transform="translate(1383.7 419.5) rotate(-80)"><text x="0" y="0" font-size="16.54" text-anchor="start" textLength="44.5" lengthAdjust="spacingAndGlyphs">n=24</text></g>
<g transform="translate(1402.8 389.5) rotate(-80)"><text x="0" y="0" font-size="16.54" text-anchor="start" textLength="44.5" lengthAdjust="spacingAndGlyphs">n=25</text></g>
<g transform="translate(1421.6 358.5) rotate(-80)"><text x="0" y="0" font-size="16.54" text-anchor="start" textLength="44.5" lengthAdjust="spacingAndGlyphs">n=26</text></g>
<g transform="translate(1439 323.5) rotate(-80)"><text x="0" y="0" font-size="16.54" text-anchor="start" textLength="44.5" lengthAdjust="spacingAndGlyphs">n=27</text></g>
<g transform="translate(1455.8 285.5) rotate(-80)"><text x="0" y="0" font-size="16.54" text-anchor="start" textLength="44.5" lengthAdjust="spacingAndGlyphs">n=28</text></g>
<g transform="translate(1472.4 250.5) rotate(-80)"><text x="0" y="0" font-size="16.54" text-anchor="start" textLength="44.5" lengthAdjust="spacingAndGlyphs">n=29</text></g>
<g transform="translate(1488.3 210.5) rotate(-80)"><text x="0" y="0" font-size="16.54" text-anchor="start" textLength="44.5" lengthAdjust="spacingAndGlyphs">n=30</text></g>
<rect x="250.5" y="144.5" width="1550.0" height="924.0" fill="none" stroke="#000" stroke-width="1.1"/>
<text x="329.3" y="1118" font-size="38.28" text-anchor="middle" textLength="124.5" lengthAdjust="spacingAndGlyphs">360.25</text>
<text x="505.6" y="1118" font-size="38.28" text-anchor="middle" textLength="124.5" lengthAdjust="spacingAndGlyphs">360.50</text>
<text x="681.8" y="1118" font-size="38.28" text-anchor="middle" textLength="124.5" lengthAdjust="spacingAndGlyphs">360.75</text>
<text x="858.1" y="1118" font-size="38.28" text-anchor="middle" textLength="124.5" lengthAdjust="spacingAndGlyphs">361.00</text>
<text x="1034.4" y="1118" font-size="38.28" text-anchor="middle" textLength="124.5" lengthAdjust="spacingAndGlyphs">361.25</text>
<text x="1210.7" y="1118" font-size="38.28" text-anchor="middle" textLength="124.5" lengthAdjust="spacingAndGlyphs">361.50</text>
<text x="1387" y="1118" font-size="38.28" text-anchor="middle" textLength="124.5" lengthAdjust="spacingAndGlyphs">361.75</text>
<text x="1563.2" y="1118" font-size="38.28" text-anchor="middle" textLength="124.5" lengthAdjust="spacingAndGlyphs">362.00</text>
<text x="1739.5" y="1118" font-size="38.28" text-anchor="middle" textLength="124.5" lengthAdjust="spacingAndGlyphs">362.25</text>
<text x="228.4" y="914.7" font-size="38.28" text-anchor="end" textLength="68.6" lengthAdjust="spacingAndGlyphs">200</text>
<text x="228.4" y="725.7" font-size="38.28" text-anchor="end" textLength="68.6" lengthAdjust="spacingAndGlyphs">400</text>
<text x="228.4" y="536.7" font-size="38.28" text-anchor="end" textLength="68.6" lengthAdjust="spacingAndGlyphs">600</text>
<text x="228.4" y="347.7" font-size="38.28" text-anchor="end" textLength="68.6" lengthAdjust="spacingAndGlyphs">800</text>
<text x="228.4" y="158.7" font-size="38.28" text-anchor="end" textLength="91.4" lengthAdjust="spacingAndGlyphs">1000</text>
<path d="M258.5 1069.0v10.3M293.7 1069.0v10.3M329 1069.0v16.7M364.3 1069.0v10.3M399.5 1069.0v10.3M434.8 1069.0v10.3M470 1069.0v10.3M505.3 1069.0v16.7M540.5 1069.0v10.3M575.8 1069.0v10.3M611 1069.0v10.3M646.3 1069.0v10.3M681.5 1069.0v16.7M716.8 1069.0v10.3M752.1 1069.0v10.3M787.3 1069.0v10.3M822.6 1069.0v10.3M857.8 1069.0v16.7M893.1 1069.0v10.3M928.3 1069.0v10.3M963.6 1069.0v10.3M998.8 1069.0v10.3M1034.1 1069.0v16.7M1069.4 1069.0v10.3M1104.6 1069.0v10.3M1139.9 1069.0v10.3M1175.1 1069.0v10.3M1210.4 1069.0v16.7M1245.6 1069.0v10.3M1280.9 1069.0v10.3M1316.1 1069.0v10.3M1351.4 1069.0v10.3M1386.7 1069.0v16.7M1421.9 1069.0v10.3M1457.2 1069.0v10.3M1492.4 1069.0v10.3M1527.7 1069.0v10.3M1562.9 1069.0v16.7M1598.2 1069.0v10.3M1633.4 1069.0v10.3M1668.7 1069.0v10.3M1703.9 1069.0v10.3M1739.2 1069.0v16.7M1774.5 1069.0v10.3M250.0 1042.2h-10.3M250.0 995h-10.3M250.0 947.8h-10.3M250.0 900.5h-16.7M250.0 853.2h-10.3M250.0 806h-10.3M250.0 758.8h-10.3M250.0 711.5h-16.7M250.0 664.2h-10.3M250.0 617h-10.3M250.0 569.8h-10.3M250.0 522.5h-16.7M250.0 475.2h-10.3M250.0 428h-10.3M250.0 380.8h-10.3M250.0 333.5h-16.7M250.0 286.2h-10.3M250.0 239h-10.3M250.0 191.8h-10.3M250.0 144.5h-16.7" stroke="#000" stroke-width="5.4" fill="none"/>
<text x="1026" y="1171.8" font-size="58.89" text-anchor="middle" textLength="272.1" lengthAdjust="spacingAndGlyphs">Age (Myr)</text>
<g transform="translate(119.2 606.8) rotate(-90)"><text x="0" y="0" font-size="58.89" text-anchor="middle" textLength="466.7" lengthAdjust="spacingAndGlyphs">FM period (days)</text></g>
<rect x="263.4" y="157.3" width="534.9" height="291" rx="3.6" fill="#fff" fill-opacity="0.8" stroke="#ccc" stroke-width="1.2"/>
<line x1="272.5" x2="323.5" y1="177.3" y2="177.3" stroke="#000" stroke-width="1.8"/><circle cx="298" cy="177.3" r="2.2"/>
<line x1="272.5" x2="323.5" y1="213.7" y2="213.7" stroke="#0000ff" stroke-width="4.2"/>
<line x1="272.5" x2="323.5" y1="250.8" y2="250.8" stroke="#008000" stroke-width="4.2"/>
<line x1="272.5" x2="323.5" y1="287.3" y2="287.3" stroke="#ffa500" stroke-width="2"/>
<circle cx="298" cy="324.2" r="4.2" fill="#90ee90" stroke="#90ee90" stroke-width="1.4"/>
<line x1="272.5" x2="323.5" y1="360.3" y2="360.3" stroke="#ff0000" stroke-width="1.4"/>
<polygon points="298,340.7 302.7,355.1 317.8,355.1 305.6,364 310.2,378.3 298,369.4 285.8,378.3 290.4,364 278.2,355.1 293.3,355.1" fill="#ff0000" stroke="#ff0000" stroke-width="1.4"/>
<circle cx="298" cy="413.3" r="7" fill="#ffff00" fill-opacity="0.2" stroke="#ffff00" stroke-opacity="0.2" stroke-width="1.4"/>
<text x="343" y="186.4" font-size="26.50" text-anchor="start" textLength="292.0" lengthAdjust="spacingAndGlyphs">m3.10_z0.0135_y0.277</text>
<text x="343" y="222.6" font-size="26.50" text-anchor="start" textLength="406.9" lengthAdjust="spacingAndGlyphs">peak detector horizontal bounds</text>
<text x="343" y="259.4" font-size="26.50" text-anchor="start" textLength="444.6" lengthAdjust="spacingAndGlyphs">min. P consistent with observations</text>
<text x="343" y="296.2" font-size="26.50" text-anchor="start" textLength="407.7" lengthAdjust="spacingAndGlyphs">max. P must fall within this span</text>
<text x="343" y="332.7" font-size="26.50" text-anchor="start" textLength="404.6" lengthAdjust="spacingAndGlyphs">pulse region fit with cubic spline</text>
<text x="343" y="369.2" font-size="26.50" text-anchor="start" textLength="205.8" lengthAdjust="spacingAndGlyphs">pulses identified</text>
<text x="343" y="405.6" font-size="26.50" text-anchor="start" textLength="278.5" lengthAdjust="spacingAndGlyphs">intersection w/ P,L,T,R</text>
<text x="343" y="433.6" font-size="26.50" text-anchor="start" textLength="189.7" lengthAdjust="spacingAndGlyphs">loosely defined</text>
</svg>
</body></html>
